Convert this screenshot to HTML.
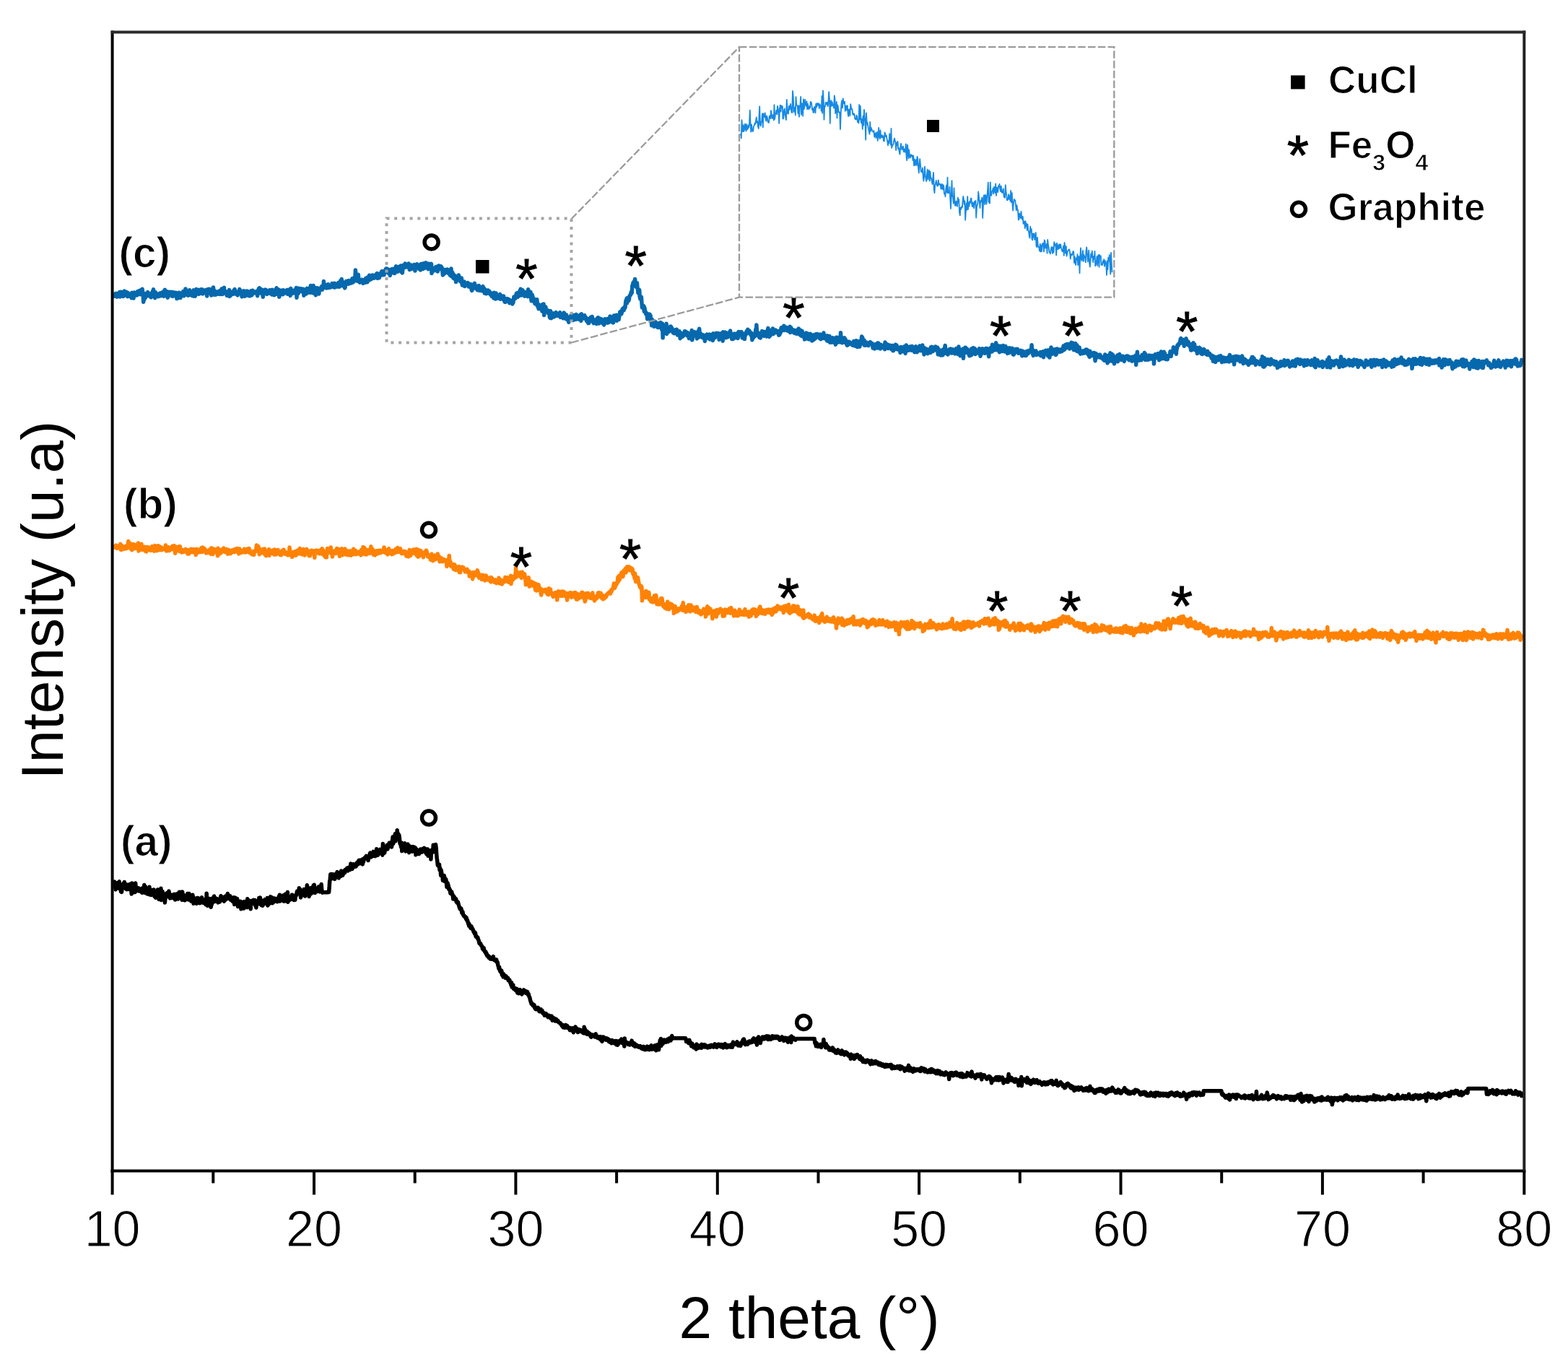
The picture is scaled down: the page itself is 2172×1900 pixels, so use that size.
<!DOCTYPE html>
<html><head><meta charset="utf-8"><title>XRD</title>
<style>
html,body{margin:0;padding:0;background:#fff;}
body{width:2172px;height:1900px;overflow:hidden;}
svg{display:block;}
.st{dominant-baseline:central;}
</style></head><body>
<svg width="2172" height="1900" viewBox="0 0 2172 1900">
<rect width="2172" height="1900" fill="#fff"/>
<g fill="none" stroke-linejoin="round">
<polyline points="158.0,409.4 158.6,410.1 159.1,408.7 159.7,406.7 160.2,407.5 160.8,406.4 161.3,408.9 161.9,411.1 162.4,406.4 163.0,406.5 163.5,409.7 164.1,410.3 164.6,409.5 165.2,407.2 165.7,404.5 166.3,411.0 166.8,405.9 167.4,408.2 167.9,404.2 168.5,406.0 169.0,404.8 169.6,409.3 170.1,407.0 170.7,410.4 171.2,410.2 171.8,409.1 172.3,403.0 172.9,407.6 173.4,408.7 174.0,408.6 174.5,404.6 175.1,406.1 175.6,404.5 176.2,405.8 176.7,410.7 177.3,405.6 177.8,407.9 178.4,410.3 178.9,407.5 179.5,409.0 180.0,408.5 180.6,408.3 181.1,407.0 181.7,410.2 182.2,412.6 182.8,405.2 183.3,411.0 183.9,409.3 184.4,407.9 185.0,413.1 185.5,409.3 186.1,404.9 186.6,408.1 187.2,409.0 187.7,406.2 188.3,407.8 188.8,405.5 189.4,407.9 189.9,408.9 190.5,403.8 191.0,406.2 191.6,404.7 192.1,406.1 192.7,402.7 193.2,404.7 193.8,405.1 194.3,407.7 194.9,407.5 195.4,401.6 196.0,403.6 196.5,407.3 197.1,400.3 197.6,404.9 198.2,406.9 198.7,418.2 199.3,410.7 199.8,415.1 200.4,406.9 200.9,407.6 201.5,412.3 202.0,406.4 202.6,406.5 203.1,407.0 203.7,406.8 204.2,407.1 204.8,404.6 205.3,407.1 205.9,406.4 206.4,409.9 207.0,409.7 207.5,408.1 208.1,410.3 208.6,407.8 209.2,411.8 209.7,407.7 210.3,409.9 210.8,404.6 211.4,408.3 211.9,402.6 212.5,400.9 213.0,404.7 213.6,404.7 214.1,407.7 214.7,412.7 215.2,404.6 215.8,405.9 216.3,408.2 216.9,410.1 217.4,408.1 218.0,407.0 218.5,410.0 219.1,410.7 219.6,410.6 220.2,409.0 220.7,408.3 221.3,406.2 221.8,409.7 222.4,405.7 222.9,409.8 223.5,408.9 224.0,408.9 224.6,408.1 225.1,408.9 225.7,404.3 226.2,406.9 226.8,410.3 227.3,403.3 227.9,409.6 228.4,401.2 229.0,407.2 229.5,403.3 230.1,408.8 230.6,407.6 231.2,403.6 231.7,411.0 232.3,412.1 232.8,407.9 233.4,406.6 233.9,406.4 234.5,404.2 235.0,409.1 235.6,404.7 236.1,406.9 236.7,405.6 237.2,407.0 237.8,404.4 238.3,410.1 238.9,407.2 239.4,410.4 240.0,407.2 240.5,404.7 241.1,406.0 241.6,405.4 242.2,407.6 242.7,406.7 243.3,406.9 243.8,405.3 244.4,407.6 244.9,413.6 245.5,407.8 246.0,406.0 246.6,409.7 247.1,412.6 247.7,405.3 248.2,409.2 248.8,407.9 249.3,405.6 249.9,412.6 250.4,410.4 251.0,409.9 251.5,406.7 252.1,409.1 252.6,406.0 253.2,407.1 253.7,403.6 254.3,403.8 254.8,409.7 255.4,405.9 255.9,406.8 256.5,406.2 257.0,399.9 257.6,405.5 258.1,407.9 258.7,405.8 259.2,404.7 259.8,406.0 260.3,409.2 260.9,406.9 261.4,406.8 262.0,404.0 262.5,401.7 263.1,408.5 263.6,408.1 264.2,406.1 264.7,407.6 265.3,408.2 265.8,409.1 266.4,408.8 266.9,404.6 267.5,410.0 268.0,401.8 268.6,407.9 269.1,407.1 269.7,407.4 270.2,410.3 270.8,408.8 271.3,402.1 271.9,400.5 272.4,406.7 273.0,401.6 273.5,403.6 274.1,407.0 274.6,402.5 275.2,401.5 275.7,407.3 276.3,406.4 276.8,405.3 277.4,406.4 277.9,402.8 278.5,400.9 279.0,403.9 279.6,402.6 280.1,400.8 280.7,407.0 281.2,405.8 281.8,406.2 282.3,402.2 282.9,402.8 283.4,402.2 284.0,402.6 284.5,404.6 285.1,401.7 285.6,406.1 286.2,406.1 286.7,410.0 287.3,400.7 287.8,406.7 288.4,404.1 288.9,403.8 289.5,400.2 290.0,402.6 290.6,406.0 291.1,404.4 291.7,405.1 292.2,404.9 292.8,409.0 293.3,405.7 293.9,399.9 294.4,404.3 295.0,401.1 295.5,398.0 296.1,404.2 296.6,408.2 297.2,405.7 297.7,403.3 298.3,403.2 298.8,408.2 299.4,405.4 299.9,405.5 300.5,405.5 301.0,405.5 301.6,407.2 302.1,406.3 302.7,406.2 303.2,403.2 303.8,406.6 304.3,403.5 304.9,407.6 305.4,402.1 306.0,405.1 306.5,404.1 307.1,400.1 307.6,407.3 308.2,407.5 308.7,403.0 309.3,399.6 309.8,405.1 310.4,398.2 310.9,406.0 311.5,405.6 312.0,405.8 312.6,403.5 313.1,405.1 313.7,406.1 314.2,409.2 314.8,406.8 315.3,405.4 315.9,409.3 316.4,403.7 317.0,405.0 317.5,401.5 318.1,410.5 318.6,409.0 319.2,409.4 319.7,408.7 320.3,407.0 320.8,406.0 321.4,404.7 321.9,404.1 322.5,403.9 323.0,407.3 323.6,404.3 324.1,401.8 324.7,401.4 325.2,400.7 325.8,406.9 326.3,405.5 326.9,405.4 327.4,404.9 328.0,404.2 328.5,406.5 329.1,408.9 329.6,405.9 330.2,405.1 330.7,404.2 331.3,405.2 331.8,400.6 332.4,403.7 332.9,402.1 333.5,406.6 334.0,403.8 334.6,407.9 335.1,410.9 335.7,405.8 336.2,405.1 336.8,407.3 337.3,406.2 337.9,402.9 338.4,406.9 339.0,410.2 339.5,404.2 340.1,404.7 340.6,403.3 341.2,406.9 341.7,403.7 342.3,403.2 342.8,409.0 343.4,403.6 343.9,408.3 344.5,409.4 345.0,405.7 345.6,406.6 346.1,409.9 346.7,404.6 347.2,404.3 347.8,402.8 348.3,405.6 348.9,408.9 349.4,407.0 350.0,402.3 350.5,403.8 351.1,404.2 351.6,406.0 352.2,404.1 352.7,405.7 353.3,405.1 353.8,404.5 354.4,403.9 354.9,404.9 355.5,403.7 356.0,405.5 356.6,409.7 357.1,406.7 357.7,404.1 358.2,400.0 358.8,404.4 359.3,398.7 359.9,400.7 360.4,405.4 361.0,405.9 361.5,404.2 362.1,400.8 362.6,405.3 363.2,404.5 363.7,407.3 364.3,411.3 364.8,405.9 365.4,404.3 365.9,401.9 366.5,404.5 367.0,403.9 367.6,401.1 368.1,403.9 368.7,401.6 369.2,406.7 369.8,407.4 370.3,406.7 370.9,403.9 371.4,405.8 372.0,405.0 372.5,404.4 373.1,404.3 373.6,401.8 374.2,402.1 374.7,406.8 375.3,405.3 375.8,406.8 376.4,407.8 376.9,401.3 377.5,403.5 378.0,405.8 378.6,406.7 379.1,405.4 379.7,408.8 380.2,406.6 380.8,401.7 381.3,402.9 381.9,407.5 382.4,406.2 383.0,398.7 383.5,406.0 384.1,404.6 384.6,407.1 385.2,402.3 385.7,402.3 386.3,401.1 386.8,411.2 387.4,404.9 387.9,408.6 388.5,404.3 389.0,407.0 389.6,402.3 390.1,404.3 390.7,407.4 391.2,402.1 391.8,407.8 392.3,405.6 392.9,401.9 393.4,403.4 394.0,404.4 394.5,406.0 395.1,404.2 395.6,403.6 396.2,405.6 396.7,403.0 397.3,402.0 397.8,405.3 398.4,407.3 398.9,401.3 399.5,404.7 400.0,402.2 400.6,402.4 401.1,407.8 401.7,403.8 402.2,409.4 402.8,399.4 403.3,407.2 403.9,405.0 404.4,403.3 405.0,406.3 405.5,404.9 406.1,405.8 406.6,405.2 407.2,402.3 407.7,404.6 408.3,404.8 408.8,406.0 409.4,400.8 409.9,403.5 410.5,398.6 411.0,412.2 411.6,400.9 412.1,399.1 412.7,403.5 413.2,406.4 413.8,399.2 414.3,400.2 414.9,400.7 415.4,399.9 416.0,402.9 416.5,399.8 417.1,399.8 417.6,403.7 418.2,400.6 418.7,404.0 419.3,400.9 419.8,401.3 420.4,400.4 420.9,409.2 421.5,403.1 422.0,404.0 422.6,403.0 423.1,402.9 423.7,402.4 424.2,406.9 424.8,400.2 425.3,399.4 425.9,401.0 426.4,400.1 427.0,404.9 427.5,404.6 428.1,400.3 428.6,399.1 429.2,401.4 429.7,405.3 430.3,395.6 430.8,403.8 431.4,400.1 431.9,405.2 432.5,399.1 433.0,401.1 433.6,399.0 434.1,395.4 434.7,406.0 435.2,404.9 435.8,401.7 436.3,401.4 436.9,398.6 437.4,408.7 438.0,401.7 438.5,401.6 439.1,401.3 439.6,398.9 440.2,400.1 440.7,400.7 441.3,405.1 441.8,407.0 442.4,401.4 442.9,399.2 443.5,400.6 444.0,399.6 444.6,399.0 445.1,399.3 445.7,396.5 446.2,401.3 446.8,398.9 447.3,399.6 447.9,398.5 448.4,389.6 449.0,395.4 449.5,396.5 450.1,395.4 450.6,397.4 451.2,397.0 451.7,394.7 452.3,399.1 452.8,395.9 453.4,397.7 453.9,397.4 454.5,393.7 455.0,398.6 455.6,398.1 456.1,398.0 456.7,397.3 457.2,397.5 457.8,397.1 458.3,397.8 458.9,396.3 459.4,397.2 460.0,392.4 460.5,395.8 461.1,395.1 461.6,394.3 462.2,394.7 462.7,397.9 463.3,392.3 463.8,398.0 464.4,397.4 464.9,397.0 465.5,396.5 466.0,393.4 466.6,394.0 467.1,397.0 467.7,396.7 468.2,395.2 468.8,391.4 469.3,395.8 469.9,397.2 470.4,396.2 471.0,393.9 471.5,388.9 472.1,395.9 472.6,392.9 473.2,386.5 473.7,394.2 474.3,389.8 474.8,390.4 475.4,391.9 475.9,396.4 476.5,393.1 477.0,395.4 477.6,398.9 478.1,397.8 478.7,393.2 479.2,392.4 479.8,389.4 480.3,389.9 480.9,392.6 481.4,392.5 482.0,391.5 482.5,393.3 483.1,388.5 483.6,390.8 484.2,392.5 484.7,392.1 485.3,392.2 485.8,391.6 486.4,390.1 486.9,391.9 487.5,387.8 488.0,385.7 488.6,391.1 489.1,389.9 489.7,390.2 490.2,385.1 490.8,387.6 491.3,386.0 491.9,385.2 492.4,373.9 493.0,385.6 493.5,388.8 494.1,386.9 494.6,385.6 495.2,387.5 495.7,389.4 496.3,380.2 496.8,387.6 497.4,388.1 497.9,388.3 498.5,391.1 499.0,390.0 499.6,388.0 500.1,388.5 500.7,389.0 501.2,387.2 501.8,388.0 502.3,390.0 502.9,392.4 503.4,387.9 504.0,388.7 504.5,388.6 505.1,390.2 505.6,387.2 506.2,391.3 506.7,385.3 507.3,386.7 507.8,387.1 508.4,389.1 508.9,390.7 509.5,383.7 510.0,384.3 510.6,387.1 511.1,385.0 511.7,381.2 512.2,387.7 512.8,385.1 513.3,385.5 513.9,382.7 514.4,386.5 515.0,382.0 515.5,385.5 516.1,381.0 516.6,381.7 517.2,384.2 517.7,382.2 518.3,385.2 518.8,383.8 519.4,381.3 519.9,383.2 520.5,382.5 521.0,384.3 521.6,379.2 522.1,378.7 522.7,383.0 523.2,385.4 523.8,384.8 524.3,379.3 524.9,380.5 525.4,384.7 526.0,381.2 526.5,379.4 527.1,381.6 527.6,381.0 528.2,377.4 528.7,375.8 529.3,375.6 529.8,380.7 530.4,376.5 530.9,377.6 531.5,379.8 532.0,380.7 532.6,377.1 533.1,377.8 533.7,373.9 534.2,374.5 534.8,372.0 535.3,377.1 535.9,374.5 536.4,372.2 537.0,374.8 537.5,375.4 538.1,378.1 538.6,373.4 539.2,373.5 539.7,374.2 540.3,381.5 540.8,376.5 541.4,373.9 541.9,375.6 542.5,377.9 543.0,372.4 543.6,372.5 544.1,376.8 544.7,375.8 545.2,375.4 545.8,372.3 546.3,378.5 546.9,378.3 547.4,374.8 548.0,375.2 548.5,368.7 549.1,375.3 549.6,373.7 550.2,376.0 550.7,376.1 551.3,373.5 551.8,369.4 552.4,373.7 552.9,371.3 553.5,372.1 554.0,370.7 554.6,372.1 555.1,367.9 555.7,376.4 556.2,373.7 556.8,375.5 557.3,378.0 557.9,372.8 558.4,367.3 559.0,368.8 559.5,367.8 560.1,369.4 560.6,370.4 561.2,365.0 561.7,370.3 562.3,365.7 562.8,369.8 563.4,369.0 563.9,368.7 564.5,369.2 565.0,367.9 565.6,367.6 566.1,365.0 566.7,368.7 567.2,373.5 567.8,373.2 568.3,371.9 568.9,370.1 569.4,366.9 570.0,372.5 570.5,369.5 571.1,369.8 571.6,369.7 572.2,370.3 572.7,368.6 573.3,369.7 573.8,366.5 574.4,368.3 574.9,375.1 575.5,369.2 576.0,368.6 576.6,370.1 577.1,370.3 577.7,365.8 578.2,368.4 578.8,370.5 579.3,368.4 579.9,368.6 580.4,372.5 581.0,366.9 581.5,369.7 582.1,368.4 582.6,373.9 583.2,365.6 583.7,368.0 584.3,368.9 584.8,372.1 585.4,371.3 585.9,372.4 586.5,364.8 587.0,370.5 587.6,368.5 588.1,368.1 588.7,371.3 589.2,366.9 589.8,363.9 590.3,367.5 590.9,364.5 591.4,366.9 592.0,369.0 592.5,368.6 593.1,372.7 593.6,368.4 594.2,365.3 594.7,367.0 595.3,366.1 595.8,365.9 596.4,369.8 596.9,367.6 597.5,365.3 598.0,378.5 598.6,371.4 599.1,372.7 599.7,371.5 600.2,373.9 600.8,371.9 601.3,374.9 601.9,373.5 602.4,373.7 603.0,374.3 603.5,369.7 604.1,372.9 604.6,372.3 605.2,373.3 605.7,369.1 606.3,376.1 606.8,373.2 607.4,369.7 607.9,368.0 608.5,372.3 609.0,371.9 609.6,370.0 610.1,371.9 610.7,368.8 611.2,372.3 611.8,369.8 612.3,372.1 612.9,376.0 613.4,381.1 614.0,373.3 614.5,375.1 615.1,375.0 615.6,378.9 616.2,373.6 616.7,375.9 617.3,377.1 617.8,374.9 618.4,375.8 618.9,377.2 619.5,373.0 620.0,375.2 620.6,376.9 621.1,378.3 621.7,377.4 622.2,374.0 622.8,377.5 623.3,381.2 623.9,380.9 624.4,379.7 625.0,372.0 625.5,382.6 626.1,379.4 626.6,377.1 627.2,378.5 627.7,384.7 628.3,382.6 628.8,385.7 629.4,381.1 629.9,385.0 630.5,382.1 631.0,383.7 631.6,390.6 632.1,386.8 632.7,383.1 633.2,385.1 633.8,385.7 634.3,387.8 634.9,384.0 635.4,381.0 636.0,383.9 636.5,384.8 637.1,385.3 637.6,389.8 638.2,388.8 638.7,390.4 639.3,385.1 639.8,391.0 640.4,395.0 640.9,392.2 641.5,390.6 642.0,390.1 642.6,394.9 643.1,389.9 643.7,396.5 644.2,393.3 644.8,395.0 645.3,391.9 645.9,394.7 646.4,393.6 647.0,393.8 647.5,393.6 648.1,391.6 648.6,394.0 649.2,396.9 649.7,392.9 650.3,394.4 650.8,397.3 651.4,393.6 651.9,397.1 652.5,393.8 653.0,400.5 653.6,402.4 654.1,401.5 654.7,396.1 655.2,397.8 655.8,395.7 656.3,396.5 656.9,399.0 657.4,392.3 658.0,398.5 658.5,395.5 659.1,399.4 659.6,397.6 660.2,396.3 660.7,399.7 661.3,401.6 661.8,399.6 662.4,401.4 662.9,399.1 663.5,395.6 664.0,402.2 664.6,401.6 665.1,400.1 665.7,400.5 666.2,402.5 666.8,399.8 667.3,398.4 667.9,399.5 668.4,398.2 669.0,396.5 669.5,403.6 670.1,400.4 670.6,399.3 671.2,406.1 671.7,403.5 672.3,401.2 672.8,403.2 673.4,406.7 673.9,406.7 674.5,402.2 675.0,404.4 675.6,405.2 676.1,401.9 676.7,405.9 677.2,403.9 677.8,403.3 678.3,405.0 678.9,407.0 679.4,407.9 680.0,406.4 680.5,405.9 681.1,410.5 681.6,408.8 682.2,410.2 682.7,410.5 683.3,408.4 683.8,412.9 684.4,405.2 684.9,409.9 685.5,407.7 686.0,413.9 686.6,414.0 687.1,406.0 687.7,408.4 688.2,413.1 688.8,412.8 689.3,412.6 689.9,409.7 690.4,412.3 691.0,412.4 691.5,411.1 692.1,413.7 692.6,407.4 693.2,414.2 693.7,410.4 694.3,413.6 694.8,411.1 695.4,410.1 695.9,414.0 696.5,410.4 697.0,411.0 697.6,410.1 698.1,415.2 698.7,417.1 699.2,418.1 699.8,415.5 700.3,418.4 700.9,414.8 701.4,414.0 702.0,416.4 702.5,417.2 703.1,413.8 703.6,414.8 704.2,414.6 704.7,416.4 705.3,414.8 705.8,419.7 706.4,415.7 706.9,418.7 707.5,416.1 708.0,419.6 708.6,419.9 709.1,416.5 709.7,421.0 710.2,416.9 710.8,419.4 711.3,416.0 711.9,411.3 712.4,410.8 713.0,413.3 713.5,413.5 714.1,412.5 714.6,410.4 715.2,406.7 715.7,410.8 716.3,405.8 716.8,411.6 717.4,408.7 717.9,408.4 718.5,410.2 719.0,409.6 719.6,404.4 720.1,402.6 720.7,403.9 721.2,400.2 721.8,402.2 722.3,408.9 722.9,402.4 723.4,406.5 724.0,401.7 724.5,405.3 725.1,403.8 725.6,405.1 726.2,405.9 726.7,410.3 727.3,406.8 727.8,406.9 728.4,404.6 728.9,407.8 729.5,405.4 730.0,408.5 730.6,405.6 731.1,410.8 731.7,400.7 732.2,405.3 732.8,408.6 733.3,406.8 733.9,406.0 734.4,407.8 735.0,404.5 735.5,410.2 736.1,416.8 736.6,415.0 737.2,408.3 737.7,410.2 738.3,412.4 738.8,417.2 739.4,413.4 739.9,414.5 740.5,418.8 741.0,420.6 741.6,417.8 742.1,416.3 742.7,415.6 743.2,417.5 743.8,414.7 744.3,423.3 744.9,420.1 745.4,424.1 746.0,427.6 746.5,426.4 747.1,422.2 747.6,427.4 748.2,427.7 748.7,424.2 749.3,423.7 749.8,426.6 750.4,424.0 750.9,431.0 751.5,421.4 752.0,425.8 752.6,427.5 753.1,421.1 753.7,436.4 754.2,428.7 754.8,428.3 755.3,432.5 755.9,425.0 756.4,430.5 757.0,428.9 757.5,430.8 758.1,431.5 758.6,429.6 759.2,430.8 759.7,434.0 760.3,433.7 760.8,431.4 761.4,439.4 761.9,440.2 762.5,430.5 763.0,435.0 763.6,440.8 764.1,436.4 764.7,435.1 765.2,433.7 765.8,433.7 766.3,436.1 766.9,435.4 767.4,439.0 768.0,435.6 768.5,436.6 769.1,434.1 769.6,436.3 770.2,432.6 770.7,433.6 771.3,437.4 771.8,436.8 772.4,436.6 772.9,436.8 773.5,436.0 774.0,434.8 774.6,435.3 775.1,437.6 775.7,432.8 776.2,439.4 776.8,436.3 777.3,435.2 777.9,435.9 778.4,435.4 779.0,438.0 779.5,436.4 780.1,440.8 780.6,436.2 781.2,433.1 781.7,438.5 782.3,434.8 782.8,438.9 783.4,441.3 783.9,441.1 784.5,436.1 785.0,437.3 785.6,442.8 786.1,441.0 786.7,440.7 787.2,443.3 787.8,446.2 788.3,444.3 788.9,441.5 789.4,441.8 790.0,441.5 790.5,437.8 791.1,436.5 791.6,438.9 792.2,435.4 792.7,437.1 793.3,437.6 793.8,443.5 794.4,436.6 794.9,438.7 795.5,438.8 796.0,441.4 796.6,442.4 797.1,438.2 797.7,437.5 798.2,435.5 798.8,438.0 799.3,442.1 799.9,440.0 800.4,438.2 801.0,441.0 801.5,441.4 802.1,442.1 802.6,438.3 803.2,438.9 803.7,436.0 804.3,438.2 804.8,444.4 805.4,434.8 805.9,439.6 806.5,441.9 807.0,440.5 807.6,439.0 808.1,439.8 808.7,440.0 809.2,440.5 809.8,436.8 810.3,440.4 810.9,438.8 811.4,440.1 812.0,442.9 812.5,444.3 813.1,445.0 813.6,441.3 814.2,445.9 814.7,447.3 815.3,446.6 815.8,447.4 816.4,443.8 816.9,442.9 817.5,444.9 818.0,439.4 818.6,442.3 819.1,441.2 819.7,441.9 820.2,438.4 820.8,441.4 821.3,444.3 821.9,446.7 822.4,447.6 823.0,444.4 823.5,443.9 824.1,443.2 824.6,446.5 825.2,444.3 825.7,445.7 826.3,448.5 826.8,444.2 827.4,440.7 827.9,442.5 828.5,439.8 829.0,441.4 829.6,448.0 830.1,445.3 830.7,440.9 831.2,446.0 831.8,446.5 832.3,443.7 832.9,441.8 833.4,443.0 834.0,444.7 834.5,446.3 835.1,448.0 835.6,448.6 836.2,448.3 836.7,449.8 837.3,447.5 837.8,441.7 838.4,444.8 838.9,445.9 839.5,444.5 840.0,446.5 840.6,442.6 841.1,441.6 841.7,447.2 842.2,444.7 842.8,444.1 843.3,445.5 843.9,446.2 844.4,445.0 845.0,437.9 845.5,443.2 846.1,443.8 846.6,441.5 847.2,443.3 847.7,445.8 848.3,441.1 848.8,438.8 849.4,447.1 849.9,440.4 850.5,437.0 851.0,440.8 851.6,441.4 852.1,438.2 852.7,441.7 853.2,437.0 853.8,436.3 854.3,444.3 854.9,440.9 855.4,436.7 856.0,437.8 856.5,436.7 857.1,442.6 857.6,438.8 858.2,437.0 858.7,432.2 859.3,431.7 859.8,433.6 860.4,432.4 860.9,434.6 861.5,431.7 862.0,428.3 862.6,427.3 863.1,428.4 863.7,428.1 864.2,429.7 864.8,425.4 865.3,425.8 865.9,426.3 866.4,421.6 867.0,416.5 867.5,415.7 868.1,413.3 868.6,419.8 869.2,412.5 869.7,415.8 870.3,414.5 870.8,416.6 871.4,414.3 871.9,410.6 872.5,409.2 873.0,408.9 873.6,408.3 874.1,405.0 874.7,404.0 875.2,405.8 875.8,395.8 876.3,397.1 876.9,391.7 877.4,392.7 878.0,392.6 878.5,389.5 879.1,391.7 879.6,386.5 880.2,395.1 880.7,392.8 881.3,397.5 881.8,397.5 882.4,391.7 882.9,397.8 883.5,401.1 884.0,405.9 884.6,403.6 885.1,403.9 885.7,401.5 886.2,411.1 886.8,413.8 887.3,411.6 887.9,412.8 888.4,411.2 889.0,420.1 889.5,425.9 890.1,423.7 890.6,426.0 891.2,425.2 891.7,423.6 892.3,431.2 892.8,425.8 893.4,429.7 893.9,431.2 894.5,434.4 895.0,435.1 895.6,435.6 896.1,433.8 896.7,441.8 897.2,438.9 897.8,436.4 898.3,435.1 898.9,435.3 899.4,438.1 900.0,435.3 900.5,437.3 901.1,437.1 901.6,443.6 902.2,445.1 902.7,450.8 903.3,442.3 903.8,444.9 904.4,449.7 904.9,447.2 905.5,446.5 906.0,452.2 906.6,446.5 907.1,445.1 907.7,445.5 908.2,449.5 908.8,449.5 909.3,447.0 909.9,448.4 910.4,452.7 911.0,453.3 911.5,450.3 912.1,453.4 912.6,453.4 913.2,447.5 913.7,450.8 914.3,452.3 914.8,450.5 915.4,446.6 915.9,451.7 916.5,454.6 917.0,456.9 917.6,448.2 918.1,467.8 918.7,450.9 919.2,456.9 919.8,457.5 920.3,457.6 920.9,454.8 921.4,451.2 922.0,456.3 922.5,453.4 923.1,448.3 923.6,462.4 924.2,456.3 924.7,460.1 925.3,452.9 925.8,458.4 926.4,458.6 926.9,459.2 927.5,455.6 928.0,452.9 928.6,456.3 929.1,452.1 929.7,452.8 930.2,456.6 930.8,454.5 931.3,456.3 931.9,456.6 932.4,460.8 933.0,459.2 933.5,457.5 934.1,461.8 934.6,457.1 935.2,458.4 935.7,460.9 936.3,456.4 936.8,459.4 937.4,456.2 937.9,460.8 938.5,463.9 939.0,458.7 939.6,462.4 940.1,459.1 940.7,459.1 941.2,458.9 941.8,465.7 942.3,468.7 942.9,463.7 943.4,461.2 944.0,465.5 944.5,462.7 945.1,466.4 945.6,464.6 946.2,464.5 946.7,465.0 947.3,461.8 947.8,462.3 948.4,458.8 948.9,461.4 949.5,458.9 950.0,462.2 950.6,460.3 951.1,463.2 951.7,464.6 952.2,460.5 952.8,461.5 953.3,461.5 953.9,465.9 954.4,468.6 955.0,466.8 955.5,463.4 956.1,468.0 956.6,461.2 957.2,468.5 957.7,462.5 958.3,457.4 958.8,470.8 959.4,468.0 959.9,461.2 960.5,464.4 961.0,463.8 961.6,464.0 962.1,459.7 962.7,461.2 963.2,463.8 963.8,463.2 964.3,465.5 964.9,462.1 965.4,468.9 966.0,461.7 966.5,463.8 967.1,458.5 967.6,459.7 968.2,467.1 968.7,455.3 969.3,464.8 969.8,463.3 970.4,461.5 970.9,463.2 971.5,464.0 972.0,463.4 972.6,467.1 973.1,467.5 973.7,463.9 974.2,464.0 974.8,467.3 975.3,466.1 975.9,468.4 976.4,472.5 977.0,467.6 977.5,465.6 978.1,465.5 978.6,463.8 979.2,463.1 979.7,463.3 980.3,464.9 980.8,465.1 981.4,468.6 981.9,465.2 982.5,466.2 983.0,463.1 983.6,470.0 984.1,466.3 984.7,469.1 985.2,467.0 985.8,468.4 986.3,463.0 986.9,465.8 987.4,471.5 988.0,461.8 988.5,467.7 989.1,468.5 989.6,464.2 990.2,465.9 990.7,467.5 991.3,462.4 991.8,464.9 992.4,461.3 992.9,461.4 993.5,462.5 994.0,463.4 994.6,464.0 995.1,465.4 995.7,461.6 996.2,470.3 996.8,468.2 997.3,467.8 997.9,464.8 998.4,466.1 999.0,467.6 999.5,466.4 1000.1,461.3 1000.6,467.8 1001.2,472.2 1001.7,459.7 1002.3,466.2 1002.8,464.2 1003.4,463.1 1003.9,466.9 1004.5,460.1 1005.0,463.3 1005.6,467.8 1006.1,462.6 1006.7,461.4 1007.2,463.2 1007.8,461.2 1008.3,466.8 1008.9,461.7 1009.4,465.2 1010.0,460.9 1010.5,465.6 1011.1,463.6 1011.6,457.9 1012.2,464.4 1012.7,461.7 1013.3,463.9 1013.8,469.5 1014.4,463.5 1014.9,462.9 1015.5,469.4 1016.0,466.1 1016.6,468.5 1017.1,465.7 1017.7,462.1 1018.2,464.0 1018.8,467.5 1019.3,466.7 1019.9,464.2 1020.4,464.8 1021.0,463.8 1021.5,461.6 1022.1,468.5 1022.6,463.5 1023.2,459.5 1023.7,460.6 1024.3,463.5 1024.8,463.5 1025.4,462.0 1025.9,460.1 1026.5,462.0 1027.0,459.6 1027.6,461.2 1028.1,467.8 1028.7,463.8 1029.2,466.7 1029.8,468.3 1030.3,467.5 1030.9,465.1 1031.4,469.6 1032.0,464.4 1032.5,461.6 1033.1,463.4 1033.6,462.7 1034.2,458.7 1034.7,460.1 1035.3,460.2 1035.8,456.3 1036.4,460.8 1036.9,460.9 1037.5,460.8 1038.0,457.9 1038.6,461.6 1039.1,462.6 1039.7,463.1 1040.2,460.8 1040.8,465.4 1041.3,461.5 1041.9,470.7 1042.4,468.9 1043.0,463.3 1043.5,463.9 1044.1,467.3 1044.6,463.7 1045.2,463.0 1045.7,463.2 1046.3,465.4 1046.8,456.3 1047.4,459.0 1047.9,450.0 1048.5,458.5 1049.0,459.7 1049.6,460.6 1050.1,463.7 1050.7,461.8 1051.2,465.1 1051.8,467.2 1052.3,463.6 1052.9,464.6 1053.4,468.1 1054.0,464.3 1054.5,460.8 1055.1,461.1 1055.6,458.6 1056.2,461.7 1056.7,462.9 1057.3,459.1 1057.8,461.6 1058.4,465.2 1058.9,461.4 1059.5,462.8 1060.0,459.6 1060.6,460.5 1061.1,460.0 1061.7,466.1 1062.2,458.8 1062.8,458.7 1063.3,459.1 1063.9,454.5 1064.4,462.2 1065.0,461.7 1065.5,466.4 1066.1,462.8 1066.6,465.3 1067.2,461.7 1067.7,462.2 1068.3,457.2 1068.8,461.0 1069.4,460.9 1069.9,460.0 1070.5,455.1 1071.0,462.7 1071.6,460.1 1072.1,459.4 1072.7,459.0 1073.2,458.5 1073.8,460.8 1074.3,456.9 1074.9,457.8 1075.4,460.2 1076.0,460.4 1076.5,458.9 1077.1,459.5 1077.6,458.9 1078.2,460.7 1078.7,464.2 1079.3,458.4 1079.8,463.7 1080.4,461.9 1080.9,457.5 1081.5,460.2 1082.0,454.5 1082.6,453.7 1083.1,455.2 1083.7,456.3 1084.2,456.8 1084.8,455.9 1085.3,457.2 1085.9,451.2 1086.4,457.5 1087.0,453.0 1087.5,455.5 1088.1,456.0 1088.6,454.9 1089.2,453.4 1089.7,455.0 1090.3,457.4 1090.8,458.1 1091.4,458.4 1091.9,455.9 1092.5,456.2 1093.0,456.0 1093.6,458.7 1094.1,452.2 1094.7,460.5 1095.2,456.5 1095.8,453.8 1096.3,457.0 1096.9,459.3 1097.4,457.4 1098.0,459.0 1098.5,456.8 1099.1,460.0 1099.6,460.8 1100.2,457.2 1100.7,461.4 1101.3,459.0 1101.8,460.2 1102.4,457.8 1102.9,459.3 1103.5,462.3 1104.0,456.9 1104.6,462.1 1105.1,461.5 1105.7,460.4 1106.2,454.9 1106.8,460.6 1107.3,462.9 1107.9,459.9 1108.4,462.2 1109.0,457.3 1109.5,464.8 1110.1,461.5 1110.6,465.5 1111.2,458.5 1111.7,465.4 1112.3,463.3 1112.8,465.4 1113.4,462.3 1113.9,463.1 1114.5,470.1 1115.0,462.5 1115.6,462.5 1116.1,463.7 1116.7,461.1 1117.2,466.6 1117.8,468.9 1118.3,463.7 1118.9,461.8 1119.4,469.0 1120.0,469.6 1120.5,469.2 1121.1,469.8 1121.6,464.9 1122.2,465.5 1122.7,462.4 1123.3,463.0 1123.8,468.4 1124.4,464.3 1124.9,472.0 1125.5,465.6 1126.0,464.8 1126.6,468.7 1127.1,470.6 1127.7,467.3 1128.2,463.4 1128.8,466.7 1129.3,469.0 1129.9,464.0 1130.4,462.8 1131.0,467.2 1131.5,465.1 1132.1,462.5 1132.6,464.4 1133.2,463.7 1133.7,467.1 1134.3,467.4 1134.8,464.6 1135.4,468.7 1135.9,463.1 1136.5,468.1 1137.0,469.7 1137.6,467.8 1138.1,469.0 1138.7,464.7 1139.2,463.4 1139.8,467.5 1140.3,463.6 1140.9,461.0 1141.4,468.5 1142.0,464.2 1142.5,466.8 1143.1,465.0 1143.6,465.7 1144.2,465.9 1144.7,468.6 1145.3,471.4 1145.8,464.8 1146.4,472.2 1146.9,467.3 1147.5,467.5 1148.0,471.8 1148.6,469.3 1149.1,465.6 1149.7,474.3 1150.2,467.8 1150.8,471.3 1151.3,470.9 1151.9,474.2 1152.4,469.4 1153.0,472.9 1153.5,467.8 1154.1,472.9 1154.6,468.2 1155.2,469.7 1155.7,474.6 1156.3,471.0 1156.8,470.7 1157.4,477.3 1157.9,471.4 1158.5,467.3 1159.0,471.5 1159.6,467.3 1160.1,473.2 1160.7,474.0 1161.2,469.8 1161.8,470.3 1162.3,472.9 1162.9,471.9 1163.4,469.6 1164.0,473.9 1164.5,460.7 1165.1,470.6 1165.6,470.9 1166.2,472.3 1166.7,474.7 1167.3,470.4 1167.8,474.3 1168.4,471.9 1168.9,469.4 1169.5,467.8 1170.0,468.0 1170.6,472.7 1171.1,469.9 1171.7,472.7 1172.2,475.5 1172.8,476.7 1173.3,478.1 1173.9,472.9 1174.4,477.9 1175.0,476.0 1175.5,473.6 1176.1,476.5 1176.6,473.4 1177.2,476.1 1177.7,475.3 1178.3,475.6 1178.8,475.5 1179.4,477.0 1179.9,475.8 1180.5,475.5 1181.0,478.1 1181.6,474.0 1182.1,478.6 1182.7,472.5 1183.2,475.3 1183.8,473.7 1184.3,473.9 1184.9,479.3 1185.4,473.9 1186.0,471.7 1186.5,474.3 1187.1,474.2 1187.6,480.5 1188.2,475.3 1188.7,476.6 1189.3,472.7 1189.8,476.2 1190.4,477.1 1190.9,480.1 1191.5,472.3 1192.0,476.1 1192.6,475.2 1193.1,471.9 1193.7,466.1 1194.2,472.2 1194.8,467.4 1195.3,476.0 1195.9,475.8 1196.4,473.4 1197.0,471.2 1197.5,478.3 1198.1,476.0 1198.6,477.5 1199.2,478.2 1199.7,473.7 1200.3,477.4 1200.8,474.7 1201.4,476.2 1201.9,475.7 1202.5,475.8 1203.0,478.6 1203.6,475.6 1204.1,475.4 1204.7,474.0 1205.2,475.7 1205.8,473.8 1206.3,475.3 1206.9,476.0 1207.4,475.1 1208.0,475.9 1208.5,475.9 1209.1,482.1 1209.6,480.5 1210.2,478.3 1210.7,478.3 1211.3,483.0 1211.8,478.2 1212.4,477.2 1212.9,477.6 1213.5,477.7 1214.0,480.2 1214.6,476.1 1215.1,482.1 1215.7,474.9 1216.2,478.8 1216.8,475.3 1217.3,481.9 1217.9,478.1 1218.4,478.8 1219.0,481.3 1219.5,482.9 1220.1,477.3 1220.6,479.9 1221.2,478.3 1221.7,480.8 1222.3,480.8 1222.8,481.2 1223.4,480.0 1223.9,480.6 1224.5,477.8 1225.0,480.0 1225.6,483.8 1226.1,473.9 1226.7,477.8 1227.2,477.2 1227.8,479.7 1228.3,478.3 1228.9,479.8 1229.4,476.9 1230.0,482.5 1230.5,480.7 1231.1,479.9 1231.6,481.9 1232.2,480.3 1232.7,478.1 1233.3,482.4 1233.8,481.2 1234.4,480.9 1234.9,483.7 1235.5,483.5 1236.0,478.6 1236.6,479.1 1237.1,485.7 1237.7,485.6 1238.2,479.9 1238.8,478.9 1239.3,480.3 1239.9,479.6 1240.4,477.2 1241.0,481.2 1241.5,477.8 1242.1,478.4 1242.6,483.7 1243.2,480.3 1243.7,481.8 1244.3,483.1 1244.8,484.3 1245.4,482.4 1245.9,483.9 1246.5,482.0 1247.0,488.4 1247.6,485.0 1248.1,480.5 1248.7,483.4 1249.2,484.4 1249.8,483.4 1250.3,486.8 1250.9,485.5 1251.4,486.5 1252.0,482.9 1252.5,480.1 1253.1,483.8 1253.6,483.8 1254.2,489.4 1254.7,482.4 1255.3,477.9 1255.8,482.1 1256.4,483.8 1256.9,480.4 1257.5,480.5 1258.0,482.7 1258.6,485.3 1259.1,482.7 1259.7,480.4 1260.2,484.8 1260.8,481.7 1261.3,481.9 1261.9,479.9 1262.4,480.4 1263.0,485.3 1263.5,479.5 1264.1,482.7 1264.6,485.1 1265.2,483.4 1265.7,484.5 1266.3,482.8 1266.8,487.8 1267.4,487.4 1267.9,486.3 1268.5,479.8 1269.0,481.5 1269.6,486.9 1270.1,487.7 1270.7,484.2 1271.2,486.6 1271.8,481.0 1272.3,482.7 1272.9,482.5 1273.4,483.1 1274.0,479.0 1274.5,485.1 1275.1,485.6 1275.6,479.8 1276.2,479.7 1276.7,484.6 1277.3,483.1 1277.8,477.9 1278.4,486.4 1278.9,485.1 1279.5,484.1 1280.0,490.9 1280.6,485.4 1281.1,481.9 1281.7,485.2 1282.2,483.0 1282.8,483.8 1283.3,486.5 1283.9,483.6 1284.4,483.7 1285.0,489.8 1285.5,486.7 1286.1,485.9 1286.6,484.5 1287.2,484.1 1287.7,487.0 1288.3,483.6 1288.8,488.5 1289.4,480.7 1289.9,482.6 1290.5,480.4 1291.0,482.6 1291.6,483.8 1292.1,486.6 1292.7,480.9 1293.2,483.8 1293.8,482.8 1294.3,482.2 1294.9,481.5 1295.4,484.8 1296.0,480.1 1296.5,484.9 1297.1,484.8 1297.6,483.1 1298.2,481.8 1298.7,481.5 1299.3,490.8 1299.8,483.2 1300.4,491.1 1300.9,488.7 1301.5,486.8 1302.0,485.4 1302.6,490.8 1303.1,492.0 1303.7,485.1 1304.2,487.3 1304.8,490.5 1305.3,488.3 1305.9,491.9 1306.4,485.4 1307.0,488.2 1307.5,483.2 1308.1,489.6 1308.6,482.7 1309.2,478.4 1309.7,483.9 1310.3,484.0 1310.8,489.6 1311.4,485.2 1311.9,487.1 1312.5,488.3 1313.0,491.0 1313.6,486.4 1314.1,489.2 1314.7,486.4 1315.2,483.7 1315.8,484.5 1316.3,484.9 1316.9,483.0 1317.4,488.7 1318.0,487.5 1318.5,489.0 1319.1,487.7 1319.6,485.1 1320.2,483.9 1320.7,485.5 1321.3,487.4 1321.8,487.9 1322.4,487.7 1322.9,489.9 1323.5,486.4 1324.0,487.7 1324.6,482.7 1325.1,488.9 1325.7,487.8 1326.2,485.8 1326.8,490.4 1327.3,488.8 1327.9,479.9 1328.4,487.7 1329.0,483.3 1329.5,489.6 1330.1,492.8 1330.6,484.4 1331.2,485.6 1331.7,484.8 1332.3,486.1 1332.8,487.6 1333.4,488.4 1333.9,483.1 1334.5,496.2 1335.0,482.7 1335.6,485.8 1336.1,486.9 1336.7,484.5 1337.2,481.2 1337.8,481.7 1338.3,483.3 1338.9,484.4 1339.4,488.6 1340.0,483.5 1340.5,488.4 1341.1,489.4 1341.6,489.5 1342.2,489.2 1342.7,492.7 1343.3,489.2 1343.8,490.5 1344.4,490.3 1344.9,492.1 1345.5,483.1 1346.0,491.2 1346.6,486.4 1347.1,485.9 1347.7,484.3 1348.2,481.7 1348.8,485.9 1349.3,484.9 1349.9,487.8 1350.4,482.7 1351.0,490.5 1351.5,487.5 1352.1,486.8 1352.6,486.3 1353.2,485.9 1353.7,485.3 1354.3,488.1 1354.8,489.0 1355.4,488.8 1355.9,486.0 1356.5,482.7 1357.0,487.5 1357.6,490.1 1358.1,493.2 1358.7,490.7 1359.2,487.6 1359.8,483.7 1360.3,483.8 1360.9,482.9 1361.4,488.7 1362.0,485.0 1362.5,486.7 1363.1,485.1 1363.6,486.3 1364.2,489.2 1364.7,483.1 1365.3,483.4 1365.8,482.6 1366.4,487.0 1366.9,482.6 1367.5,483.1 1368.0,483.0 1368.6,483.6 1369.1,489.0 1369.7,493.8 1370.2,484.6 1370.8,488.6 1371.3,486.2 1371.9,482.0 1372.4,483.1 1373.0,482.4 1373.5,480.7 1374.1,487.0 1374.6,477.2 1375.2,482.8 1375.7,482.9 1376.3,481.1 1376.8,482.6 1377.4,484.9 1377.9,482.0 1378.5,481.5 1379.0,481.2 1379.6,474.8 1380.1,482.4 1380.7,484.8 1381.2,482.2 1381.8,482.8 1382.3,478.4 1382.9,483.3 1383.4,481.3 1384.0,483.8 1384.5,487.8 1385.1,482.4 1385.6,484.6 1386.2,479.2 1386.7,482.3 1387.3,482.0 1387.8,480.1 1388.4,479.6 1388.9,486.6 1389.5,478.4 1390.0,479.3 1390.6,480.5 1391.1,486.1 1391.7,486.9 1392.2,482.2 1392.8,479.5 1393.3,480.8 1393.9,485.6 1394.4,481.4 1395.0,488.5 1395.5,489.4 1396.1,486.8 1396.6,488.1 1397.2,488.5 1397.7,488.7 1398.3,481.8 1398.8,487.4 1399.4,483.6 1399.9,483.3 1400.5,486.1 1401.0,484.8 1401.6,483.7 1402.1,482.3 1402.7,483.9 1403.2,490.7 1403.8,491.2 1404.3,488.1 1404.9,490.1 1405.4,486.0 1406.0,486.9 1406.5,487.4 1407.1,483.4 1407.6,484.3 1408.2,486.7 1408.7,485.8 1409.3,483.4 1409.8,488.2 1410.4,486.2 1410.9,489.2 1411.5,486.4 1412.0,486.0 1412.6,486.8 1413.1,486.1 1413.7,485.3 1414.2,486.7 1414.8,489.9 1415.3,490.9 1415.9,492.8 1416.4,486.1 1417.0,490.3 1417.5,490.0 1418.1,491.6 1418.6,490.2 1419.2,489.0 1419.7,492.4 1420.3,491.2 1420.8,486.9 1421.4,492.5 1421.9,491.3 1422.5,487.1 1423.0,489.8 1423.6,486.1 1424.1,489.8 1424.7,487.3 1425.2,485.7 1425.8,486.2 1426.3,485.1 1426.9,487.6 1427.4,486.8 1428.0,486.6 1428.5,485.3 1429.1,477.7 1429.6,487.8 1430.2,484.0 1430.7,490.4 1431.3,492.4 1431.8,490.1 1432.4,488.2 1432.9,488.6 1433.5,488.5 1434.0,486.1 1434.6,486.5 1435.1,486.2 1435.7,491.6 1436.2,488.8 1436.8,491.2 1437.3,489.0 1437.9,490.4 1438.4,489.5 1439.0,489.7 1439.5,490.9 1440.1,490.0 1440.6,488.6 1441.2,487.7 1441.7,492.8 1442.3,487.7 1442.8,488.8 1443.4,492.2 1443.9,490.5 1444.5,488.6 1445.0,486.8 1445.6,494.8 1446.1,489.1 1446.7,490.9 1447.2,489.3 1447.8,486.4 1448.3,485.5 1448.9,489.8 1449.4,489.6 1450.0,488.9 1450.5,485.4 1451.1,485.2 1451.6,492.8 1452.2,485.0 1452.7,490.7 1453.3,491.6 1453.8,495.1 1454.4,490.2 1454.9,486.6 1455.5,486.5 1456.0,481.0 1456.6,487.6 1457.1,488.0 1457.7,490.2 1458.2,489.0 1458.8,488.7 1459.3,486.8 1459.9,487.7 1460.4,489.8 1461.0,483.8 1461.5,486.0 1462.1,484.1 1462.6,491.5 1463.2,490.6 1463.7,489.3 1464.3,483.1 1464.8,486.8 1465.4,484.9 1465.9,485.6 1466.5,484.6 1467.0,486.7 1467.6,484.1 1468.1,487.4 1468.7,485.6 1469.2,484.7 1469.8,484.7 1470.3,483.7 1470.9,486.6 1471.4,483.9 1472.0,485.6 1472.5,482.4 1473.1,479.1 1473.6,484.7 1474.2,480.2 1474.7,483.9 1475.3,482.5 1475.8,477.4 1476.4,479.5 1476.9,480.4 1477.5,479.3 1478.0,476.6 1478.6,481.4 1479.1,478.9 1479.7,479.6 1480.2,476.9 1480.8,478.7 1481.3,476.6 1481.9,483.0 1482.4,479.3 1483.0,478.1 1483.5,476.3 1484.1,474.4 1484.6,477.5 1485.2,477.2 1485.7,476.1 1486.3,475.4 1486.8,478.9 1487.4,484.7 1487.9,478.9 1488.5,480.8 1489.0,481.9 1489.6,475.5 1490.1,483.3 1490.7,481.8 1491.2,486.0 1491.8,477.8 1492.3,481.2 1492.9,482.7 1493.4,486.9 1494.0,481.5 1494.5,482.9 1495.1,481.1 1495.6,484.6 1496.2,487.3 1496.7,490.1 1497.3,488.1 1497.8,486.3 1498.4,488.0 1498.9,487.8 1499.5,489.5 1500.0,487.8 1500.6,485.9 1501.1,486.3 1501.7,487.3 1502.2,488.8 1502.8,488.6 1503.3,486.4 1503.9,484.2 1504.4,487.3 1505.0,484.0 1505.5,488.7 1506.1,489.2 1506.6,484.9 1507.2,491.1 1507.7,491.2 1508.3,489.4 1508.8,493.8 1509.4,494.3 1509.9,486.3 1510.5,493.0 1511.0,490.9 1511.6,491.7 1512.1,492.6 1512.7,489.1 1513.2,489.8 1513.8,489.4 1514.3,489.7 1514.9,492.4 1515.4,488.4 1516.0,490.6 1516.5,494.7 1517.1,499.7 1517.6,494.5 1518.2,489.4 1518.7,492.0 1519.3,492.8 1519.8,493.8 1520.4,492.4 1520.9,494.7 1521.5,492.1 1522.0,492.2 1522.6,491.4 1523.1,493.9 1523.7,491.2 1524.2,495.2 1524.8,494.4 1525.3,494.6 1525.9,494.0 1526.4,495.8 1527.0,496.5 1527.5,497.0 1528.1,496.1 1528.6,498.1 1529.2,496.2 1529.7,499.2 1530.3,495.5 1530.8,490.9 1531.4,499.4 1531.9,495.7 1532.5,492.4 1533.0,495.4 1533.6,493.9 1534.1,502.7 1534.7,498.6 1535.2,492.3 1535.8,497.6 1536.3,494.8 1536.9,500.3 1537.4,492.5 1538.0,488.9 1538.5,494.1 1539.1,493.9 1539.6,494.0 1540.2,490.3 1540.7,496.9 1541.3,500.5 1541.8,491.8 1542.4,500.0 1542.9,495.7 1543.5,503.7 1544.0,497.3 1544.6,495.3 1545.1,498.6 1545.7,497.6 1546.2,494.2 1546.8,497.6 1547.3,494.2 1547.9,492.0 1548.4,500.7 1549.0,494.5 1549.5,492.7 1550.1,495.9 1550.6,490.6 1551.2,491.5 1551.7,493.9 1552.3,494.4 1552.8,495.8 1553.4,498.4 1553.9,494.3 1554.5,497.8 1555.0,497.1 1555.6,493.3 1556.1,496.5 1556.7,493.9 1557.2,500.4 1557.8,498.1 1558.3,496.8 1558.9,494.1 1559.4,496.4 1560.0,494.0 1560.5,493.0 1561.1,494.4 1561.6,493.1 1562.2,496.8 1562.7,496.0 1563.3,493.6 1563.8,498.8 1564.4,495.4 1564.9,495.4 1565.5,496.3 1566.0,494.9 1566.6,495.2 1567.1,495.5 1567.7,499.9 1568.2,500.2 1568.8,494.3 1569.3,499.4 1569.9,493.9 1570.4,494.7 1571.0,496.7 1571.5,494.5 1572.1,499.8 1572.6,495.0 1573.2,492.2 1573.7,505.2 1574.3,494.5 1574.8,493.9 1575.4,487.2 1575.9,497.0 1576.5,496.7 1577.0,496.2 1577.6,496.7 1578.1,499.1 1578.7,495.4 1579.2,498.2 1579.8,494.0 1580.3,495.3 1580.9,498.8 1581.4,496.7 1582.0,491.6 1582.5,495.3 1583.1,494.1 1583.6,491.2 1584.2,493.7 1584.7,491.5 1585.3,488.5 1585.8,490.0 1586.4,498.3 1586.9,490.6 1587.5,495.9 1588.0,497.7 1588.6,498.1 1589.1,493.2 1589.7,497.2 1590.2,497.1 1590.8,498.0 1591.3,494.0 1591.9,492.1 1592.4,496.3 1593.0,497.1 1593.5,494.5 1594.1,492.5 1594.6,495.1 1595.2,495.5 1595.7,496.9 1596.3,492.7 1596.8,495.9 1597.4,494.8 1597.9,492.4 1598.5,503.8 1599.0,494.6 1599.6,493.6 1600.1,494.9 1600.7,490.6 1601.2,493.9 1601.8,494.5 1602.3,493.8 1602.9,495.4 1603.4,490.1 1604.0,489.6 1604.5,493.8 1605.1,494.1 1605.6,498.7 1606.2,494.6 1606.7,489.9 1607.3,494.1 1607.8,489.1 1608.4,487.0 1608.9,496.9 1609.5,491.5 1610.0,492.5 1610.6,493.5 1611.1,496.4 1611.7,492.7 1612.2,487.2 1612.8,489.8 1613.3,488.7 1613.9,496.6 1614.4,497.4 1615.0,495.2 1615.5,495.1 1616.1,495.4 1616.6,492.9 1617.2,497.8 1617.7,494.6 1618.3,493.9 1618.8,492.3 1619.4,493.6 1619.9,492.0 1620.5,492.2 1621.0,486.7 1621.6,490.8 1622.1,493.4 1622.7,486.5 1623.2,486.9 1623.8,488.5 1624.3,487.9 1624.9,487.3 1625.4,480.8 1626.0,486.0 1626.5,481.6 1627.1,482.2 1627.6,485.4 1628.2,483.2 1628.7,484.8 1629.3,490.3 1629.8,483.2 1630.4,482.9 1630.9,478.4 1631.5,478.8 1632.0,476.8 1632.6,478.0 1633.1,475.6 1633.7,475.5 1634.2,475.5 1634.8,472.3 1635.3,469.5 1635.9,468.6 1636.4,472.8 1637.0,471.8 1637.5,474.1 1638.1,475.3 1638.6,471.9 1639.2,474.8 1639.7,470.6 1640.3,479.3 1640.8,477.7 1641.4,474.3 1641.9,470.4 1642.5,474.3 1643.0,468.7 1643.6,472.0 1644.1,475.7 1644.7,473.3 1645.2,473.0 1645.8,477.8 1646.3,473.6 1646.9,477.8 1647.4,476.6 1648.0,476.6 1648.5,480.7 1649.1,477.7 1649.6,484.9 1650.2,478.4 1650.7,484.9 1651.3,476.2 1651.8,480.5 1652.4,475.9 1652.9,474.8 1653.5,479.2 1654.0,480.2 1654.6,476.8 1655.1,484.4 1655.7,480.7 1656.2,483.6 1656.8,485.0 1657.3,486.2 1657.9,481.4 1658.4,489.6 1659.0,486.2 1659.5,484.0 1660.1,482.5 1660.6,481.5 1661.2,481.3 1661.7,486.0 1662.3,484.0 1662.8,482.5 1663.4,483.6 1663.9,489.8 1664.5,485.3 1665.0,486.3 1665.6,490.6 1666.1,488.8 1666.7,488.4 1667.2,486.6 1667.8,483.6 1668.3,485.3 1668.9,486.3 1669.4,488.0 1670.0,489.8 1670.5,490.2 1671.1,490.6 1671.6,491.1 1672.2,488.0 1672.7,486.4 1673.3,491.2 1673.8,489.1 1674.4,490.6 1674.9,491.6 1675.5,489.4 1676.0,490.5 1676.6,492.0 1677.1,493.4 1677.7,492.4 1678.2,496.0 1678.8,494.3 1679.3,492.3 1679.9,494.6 1680.4,500.3 1681.0,493.5 1681.5,499.0 1682.1,498.6 1682.6,499.2 1683.2,494.5 1683.7,501.5 1684.3,496.3 1684.8,494.8 1685.4,494.8 1685.9,497.7 1686.5,495.8 1687.0,494.4 1687.6,498.8 1688.1,493.6 1688.7,493.4 1689.2,497.3 1689.8,496.0 1690.3,497.5 1690.9,492.7 1691.4,498.2 1692.0,498.5 1692.5,501.6 1693.1,495.0 1693.6,500.0 1694.2,498.5 1694.7,495.0 1695.3,497.3 1695.8,500.7 1696.4,496.9 1696.9,495.7 1697.5,499.2 1698.0,499.5 1698.6,500.3 1699.1,495.7 1699.7,497.6 1700.2,499.8 1700.8,495.7 1701.3,494.9 1701.9,498.9 1702.4,501.0 1703.0,494.8 1703.5,491.5 1704.1,494.6 1704.6,496.0 1705.2,497.9 1705.7,499.8 1706.3,498.1 1706.8,496.0 1707.4,497.4 1707.9,494.4 1708.5,496.8 1709.0,496.3 1709.6,504.7 1710.1,493.8 1710.7,494.9 1711.2,494.3 1711.8,496.8 1712.3,493.2 1712.9,495.1 1713.4,494.8 1714.0,498.8 1714.5,495.5 1715.1,495.7 1715.6,493.9 1716.2,495.2 1716.7,498.3 1717.3,498.2 1717.8,500.7 1718.4,496.2 1718.9,500.5 1719.5,500.0 1720.0,498.3 1720.6,493.1 1721.1,495.4 1721.7,501.6 1722.2,503.5 1722.8,500.3 1723.3,499.6 1723.9,497.1 1724.4,498.2 1725.0,498.1 1725.5,501.9 1726.1,500.6 1726.6,499.3 1727.2,500.4 1727.7,503.0 1728.3,501.7 1728.8,504.0 1729.4,505.2 1729.9,501.4 1730.5,500.0 1731.0,503.4 1731.6,502.3 1732.1,500.3 1732.7,501.8 1733.2,497.1 1733.8,498.4 1734.3,494.5 1734.9,502.6 1735.4,494.4 1736.0,500.2 1736.5,497.0 1737.1,496.4 1737.6,498.5 1738.2,499.9 1738.7,501.9 1739.3,505.2 1739.8,501.8 1740.4,503.0 1740.9,499.9 1741.5,503.1 1742.0,502.6 1742.6,500.8 1743.1,502.4 1743.7,503.2 1744.2,503.9 1744.8,504.5 1745.3,501.9 1745.9,501.0 1746.4,504.5 1747.0,497.9 1747.5,500.1 1748.1,504.9 1748.6,493.8 1749.2,499.7 1749.7,507.6 1750.3,497.5 1750.8,508.0 1751.4,495.7 1751.9,505.7 1752.5,506.4 1753.0,504.0 1753.6,501.1 1754.1,502.9 1754.7,499.3 1755.2,502.3 1755.8,497.8 1756.3,500.5 1756.9,504.1 1757.4,498.2 1758.0,500.2 1758.5,501.2 1759.1,498.3 1759.6,504.9 1760.2,502.1 1760.7,497.3 1761.3,501.3 1761.8,499.2 1762.4,499.9 1762.9,501.9 1763.5,499.8 1764.0,503.9 1764.6,499.9 1765.1,504.2 1765.7,502.2 1766.2,505.2 1766.8,501.3 1767.3,501.8 1767.9,501.0 1768.4,505.6 1769.0,506.6 1769.5,509.4 1770.1,507.6 1770.6,504.9 1771.2,503.6 1771.7,504.7 1772.3,503.6 1772.8,507.6 1773.4,506.4 1773.9,500.7 1774.5,501.4 1775.0,506.4 1775.6,503.2 1776.1,502.4 1776.7,505.4 1777.2,501.2 1777.8,502.1 1778.3,502.6 1778.9,498.8 1779.4,506.4 1780.0,501.6 1780.5,503.0 1781.1,502.3 1781.6,505.2 1782.2,502.9 1782.7,503.2 1783.3,499.4 1783.8,502.7 1784.4,499.4 1784.9,503.7 1785.5,504.2 1786.0,502.9 1786.6,508.0 1787.1,504.8 1787.7,504.5 1788.2,503.3 1788.8,502.3 1789.3,506.2 1789.9,505.8 1790.4,500.1 1791.0,505.9 1791.5,504.8 1792.1,506.5 1792.6,504.7 1793.2,499.7 1793.7,499.7 1794.3,506.9 1794.8,502.3 1795.4,497.9 1795.9,502.4 1796.5,501.7 1797.0,497.9 1797.6,497.3 1798.1,498.3 1798.7,502.9 1799.2,503.4 1799.8,502.2 1800.3,503.5 1800.9,504.3 1801.4,498.1 1802.0,503.5 1802.5,502.1 1803.1,499.4 1803.6,501.2 1804.2,502.6 1804.7,502.4 1805.3,499.3 1805.8,501.3 1806.4,506.8 1806.9,500.2 1807.5,498.9 1808.0,503.0 1808.6,503.8 1809.1,503.3 1809.7,499.3 1810.2,505.6 1810.8,500.8 1811.3,498.7 1811.9,500.3 1812.4,501.4 1813.0,502.9 1813.5,503.2 1814.1,501.2 1814.6,503.9 1815.2,503.3 1815.7,505.5 1816.3,499.3 1816.8,498.9 1817.4,505.0 1817.9,499.7 1818.5,501.8 1819.0,501.8 1819.6,500.9 1820.1,501.8 1820.7,507.1 1821.2,496.5 1821.8,505.0 1822.3,508.8 1822.9,503.1 1823.4,501.8 1824.0,503.5 1824.5,505.3 1825.1,498.8 1825.6,502.8 1826.2,502.9 1826.7,505.2 1827.3,504.9 1827.8,506.7 1828.4,504.5 1828.9,505.3 1829.5,502.4 1830.0,501.4 1830.6,502.5 1831.1,503.5 1831.7,500.5 1832.2,508.4 1832.8,505.1 1833.3,501.8 1833.9,502.1 1834.4,503.0 1835.0,505.3 1835.5,503.8 1836.1,503.4 1836.6,502.4 1837.2,501.5 1837.7,503.2 1838.3,508.6 1838.8,498.0 1839.4,504.0 1839.9,505.2 1840.5,501.1 1841.0,494.7 1841.6,508.2 1842.1,502.2 1842.7,509.1 1843.2,505.2 1843.8,503.2 1844.3,499.8 1844.9,504.8 1845.4,505.4 1846.0,503.1 1846.5,501.8 1847.1,502.0 1847.6,506.1 1848.2,504.4 1848.7,500.1 1849.3,501.4 1849.8,503.4 1850.4,500.9 1850.9,501.6 1851.5,499.1 1852.0,500.3 1852.6,502.2 1853.1,503.6 1853.7,500.8 1854.2,505.7 1854.8,500.2 1855.3,508.6 1855.9,502.3 1856.4,500.9 1857.0,498.6 1857.5,494.0 1858.1,500.7 1858.6,501.5 1859.2,506.4 1859.7,498.9 1860.3,507.5 1860.8,503.2 1861.4,505.5 1861.9,498.0 1862.5,504.3 1863.0,503.2 1863.6,506.1 1864.1,503.8 1864.7,500.1 1865.2,504.9 1865.8,503.4 1866.3,503.5 1866.9,504.6 1867.4,504.6 1868.0,502.2 1868.5,498.3 1869.1,498.5 1869.6,506.1 1870.2,504.8 1870.7,503.0 1871.3,501.6 1871.8,502.2 1872.4,502.8 1872.9,501.3 1873.5,499.3 1874.0,506.5 1874.6,501.0 1875.1,500.0 1875.7,498.0 1876.2,499.7 1876.8,503.3 1877.3,504.1 1877.9,500.7 1878.4,501.8 1879.0,500.1 1879.5,498.5 1880.1,504.5 1880.6,503.4 1881.2,508.3 1881.7,501.1 1882.3,502.6 1882.8,505.2 1883.4,503.6 1883.9,499.5 1884.5,499.6 1885.0,501.7 1885.6,501.8 1886.1,500.5 1886.7,505.0 1887.2,504.1 1887.8,504.2 1888.3,504.4 1888.9,504.3 1889.4,506.6 1890.0,508.4 1890.5,504.6 1891.1,505.5 1891.6,503.0 1892.2,499.0 1892.7,499.9 1893.3,504.2 1893.8,502.9 1894.4,505.3 1894.9,501.2 1895.5,502.9 1896.0,504.7 1896.6,504.5 1897.1,500.4 1897.7,501.3 1898.2,501.8 1898.8,498.7 1899.3,502.5 1899.9,508.3 1900.4,499.3 1901.0,505.1 1901.5,499.0 1902.1,500.1 1902.6,500.2 1903.2,498.4 1903.7,501.7 1904.3,500.6 1904.8,506.2 1905.4,503.0 1905.9,502.5 1906.5,500.8 1907.0,498.6 1907.6,502.0 1908.1,499.0 1908.7,502.8 1909.2,500.8 1909.8,505.0 1910.3,502.2 1910.9,501.5 1911.4,499.9 1912.0,501.4 1912.5,502.2 1913.1,503.1 1913.6,499.3 1914.2,502.7 1914.7,508.6 1915.3,502.1 1915.8,501.6 1916.4,499.8 1916.9,498.1 1917.5,504.6 1918.0,501.9 1918.6,502.1 1919.1,506.7 1919.7,507.8 1920.2,499.9 1920.8,504.9 1921.3,504.3 1921.9,502.7 1922.4,504.2 1923.0,502.1 1923.5,505.7 1924.1,503.0 1924.6,503.2 1925.2,505.2 1925.7,504.7 1926.3,502.5 1926.8,502.8 1927.4,506.3 1927.9,508.2 1928.5,500.4 1929.0,499.2 1929.6,500.9 1930.1,499.9 1930.7,507.2 1931.2,502.5 1931.8,497.3 1932.3,502.9 1932.9,502.7 1933.4,501.9 1934.0,498.8 1934.5,504.4 1935.1,499.9 1935.6,498.2 1936.2,498.1 1936.7,501.3 1937.3,503.2 1937.8,503.2 1938.4,500.5 1938.9,501.6 1939.5,497.4 1940.0,497.0 1940.6,499.0 1941.1,494.9 1941.7,500.1 1942.2,502.9 1942.8,501.5 1943.3,503.1 1943.9,500.1 1944.4,498.9 1945.0,501.4 1945.5,505.2 1946.1,504.0 1946.6,500.4 1947.2,505.4 1947.7,500.8 1948.3,505.0 1948.8,502.2 1949.4,500.4 1949.9,504.3 1950.5,499.3 1951.0,498.7 1951.6,497.4 1952.1,501.6 1952.7,501.2 1953.2,501.1 1953.8,498.8 1954.3,503.4 1954.9,499.3 1955.4,498.9 1956.0,510.3 1956.5,504.4 1957.1,501.2 1957.6,496.9 1958.2,500.0 1958.7,502.0 1959.3,500.3 1959.8,504.3 1960.4,496.8 1960.9,502.6 1961.5,499.4 1962.0,504.1 1962.6,501.1 1963.1,503.8 1963.7,499.5 1964.2,498.4 1964.8,498.1 1965.3,498.4 1965.9,498.2 1966.4,503.8 1967.0,504.4 1967.5,495.6 1968.1,498.7 1968.6,501.0 1969.2,500.7 1969.7,505.2 1970.3,502.6 1970.8,503.5 1971.4,500.5 1971.9,495.9 1972.5,499.5 1973.0,498.0 1973.6,502.1 1974.1,500.6 1974.7,497.3 1975.2,499.3 1975.8,504.3 1976.3,497.9 1976.9,497.5 1977.4,500.2 1978.0,500.0 1978.5,501.3 1979.1,502.9 1979.6,505.3 1980.2,496.9 1980.7,501.5 1981.3,501.4 1981.8,500.6 1982.4,500.4 1982.9,500.1 1983.5,503.3 1984.0,499.2 1984.6,500.6 1985.1,500.1 1985.7,500.2 1986.2,499.5 1986.8,503.0 1987.3,501.5 1987.9,502.3 1988.4,501.2 1989.0,498.9 1989.5,500.2 1990.1,499.3 1990.6,502.3 1991.2,499.3 1991.7,498.7 1992.3,502.5 1992.8,502.9 1993.4,496.5 1993.9,505.8 1994.5,502.2 1995.0,502.4 1995.6,505.6 1996.1,502.9 1996.7,501.4 1997.2,509.0 1997.8,499.9 1998.3,501.9 1998.9,503.0 1999.4,497.7 2000.0,500.0 2000.5,500.9 2001.1,505.8 2001.6,497.8 2002.2,499.8 2002.7,502.3 2003.3,500.8 2003.8,498.6 2004.4,502.9 2004.9,502.1 2005.5,502.7 2006.0,504.4 2006.6,504.1 2007.1,502.8 2007.7,501.7 2008.2,498.5 2008.8,501.6 2009.3,503.1 2009.9,501.7 2010.4,502.9 2011.0,501.9 2011.5,508.9 2012.1,510.6 2012.6,503.9 2013.2,505.7 2013.7,504.2 2014.3,508.2 2014.8,505.1 2015.4,503.2 2015.9,507.9 2016.5,502.7 2017.0,500.4 2017.6,503.7 2018.1,500.2 2018.7,503.9 2019.2,503.0 2019.8,505.9 2020.3,502.3 2020.9,505.2 2021.4,500.8 2022.0,504.1 2022.5,501.3 2023.1,503.7 2023.6,503.1 2024.2,505.4 2024.7,497.9 2025.3,504.3 2025.8,501.1 2026.4,507.5 2026.9,497.8 2027.5,500.4 2028.0,499.5 2028.6,507.8 2029.1,500.8 2029.7,503.0 2030.2,501.6 2030.8,499.1 2031.3,503.3 2031.9,505.9 2032.4,503.4 2033.0,505.3 2033.5,503.2 2034.1,504.9 2034.6,505.2 2035.2,506.6 2035.7,511.0 2036.3,506.8 2036.8,506.6 2037.4,503.9 2037.9,503.0 2038.5,506.9 2039.0,500.4 2039.6,500.1 2040.1,502.5 2040.7,502.2 2041.2,508.5 2041.8,497.9 2042.3,505.7 2042.9,507.0 2043.4,502.5 2044.0,503.9 2044.5,499.6 2045.1,509.6 2045.6,502.9 2046.2,501.1 2046.7,508.0 2047.3,509.9 2047.8,505.0 2048.4,499.6 2048.9,503.7 2049.5,504.6 2050.0,507.7 2050.6,504.0 2051.1,502.6 2051.7,503.3 2052.2,508.5 2052.8,509.1 2053.3,500.5 2053.9,502.5 2054.4,509.5 2055.0,504.0 2055.5,500.4 2056.1,503.3 2056.6,501.9 2057.2,501.7 2057.7,501.1 2058.3,501.6 2058.8,501.0 2059.4,498.9 2059.9,501.1 2060.5,502.4 2061.0,501.8 2061.6,505.8 2062.1,503.4 2062.7,502.3 2063.2,504.0 2063.8,504.1 2064.3,507.3 2064.9,506.1 2065.4,509.4 2066.0,509.2 2066.5,506.2 2067.1,505.9 2067.6,507.7 2068.2,506.6 2068.7,505.5 2069.3,500.9 2069.8,499.4 2070.4,505.3 2070.9,506.2 2071.5,508.0 2072.0,502.1 2072.6,507.6 2073.1,504.3 2073.7,506.2 2074.2,506.0 2074.8,502.2 2075.3,502.2 2075.9,498.9 2076.4,502.3 2077.0,501.3 2077.5,507.8 2078.1,506.2 2078.6,508.3 2079.2,506.3 2079.7,502.9 2080.3,505.4 2080.8,502.1 2081.4,503.2 2081.9,502.8 2082.5,500.1 2083.0,503.0 2083.6,503.5 2084.1,502.8 2084.7,506.4 2085.2,509.1 2085.8,504.4 2086.3,503.7 2086.9,499.2 2087.4,504.3 2088.0,503.6 2088.5,499.4 2089.1,504.9 2089.6,505.8 2090.2,502.4 2090.7,503.7 2091.3,502.6 2091.8,506.0 2092.4,499.5 2092.9,502.8 2093.5,507.8 2094.0,503.3 2094.6,504.0 2095.1,501.7 2095.7,499.5 2096.2,502.9 2096.8,503.3 2097.3,499.8 2097.9,503.0 2098.4,503.8 2099.0,497.0 2099.5,497.0 2100.1,498.9 2100.6,497.9 2101.2,505.1 2101.7,505.1 2102.3,506.9 2102.8,503.8 2103.4,503.3 2103.9,505.8 2104.5,506.3 2105.0,503.7 2105.6,505.6 2106.1,506.2 2106.7,503.9 2107.2,500.8 2107.8,498.4 2108.3,502.7 2108.9,503.3" stroke="#0668ad" stroke-width="5.5"/>
<polyline points="158.0,757.5 158.6,758.0 159.1,757.6 159.7,756.0 160.2,756.8 160.8,755.2 161.3,758.5 161.9,759.3 162.4,756.5 163.0,756.3 163.5,756.6 164.1,758.7 164.6,758.3 165.2,758.6 165.7,759.0 166.3,756.5 166.8,753.4 167.4,761.3 167.9,761.4 168.5,755.2 169.0,756.5 169.6,759.2 170.1,760.3 170.7,758.9 171.2,760.3 171.8,758.4 172.3,759.4 172.9,759.5 173.4,756.9 174.0,759.9 174.5,758.4 175.1,759.6 175.6,756.1 176.2,758.7 176.7,754.2 177.3,757.4 177.8,749.4 178.4,754.2 178.9,758.2 179.5,754.8 180.0,756.5 180.6,752.6 181.1,760.1 181.7,759.1 182.2,756.9 182.8,761.8 183.3,757.5 183.9,760.4 184.4,757.5 185.0,753.6 185.5,756.7 186.1,759.7 186.6,758.9 187.2,756.1 187.7,758.3 188.3,757.5 188.8,759.1 189.4,754.3 189.9,757.2 190.5,759.6 191.0,758.3 191.6,752.1 192.1,763.0 192.7,757.5 193.2,759.2 193.8,756.5 194.3,756.7 194.9,757.8 195.4,754.6 196.0,753.5 196.5,761.4 197.1,757.8 197.6,760.9 198.2,759.1 198.7,759.9 199.3,760.8 199.8,761.6 200.4,757.2 200.9,762.8 201.5,757.9 202.0,760.2 202.6,764.1 203.1,759.6 203.7,762.1 204.2,757.5 204.8,759.8 205.3,758.5 205.9,760.4 206.4,759.1 207.0,758.6 207.5,761.9 208.1,758.4 208.6,758.9 209.2,762.4 209.7,758.8 210.3,757.2 210.8,756.6 211.4,758.7 211.9,757.6 212.5,759.9 213.0,758.5 213.6,763.2 214.1,758.9 214.7,755.6 215.2,760.5 215.8,759.4 216.3,759.6 216.9,757.1 217.4,762.7 218.0,759.4 218.5,758.9 219.1,755.8 219.6,761.0 220.2,759.5 220.7,761.6 221.3,759.0 221.8,757.1 222.4,760.5 222.9,758.8 223.5,761.7 224.0,758.3 224.6,761.2 225.1,759.6 225.7,760.5 226.2,759.9 226.8,759.1 227.3,760.7 227.9,759.7 228.4,760.2 229.0,759.7 229.5,755.1 230.1,759.9 230.6,763.0 231.2,760.5 231.7,760.8 232.3,761.3 232.8,759.3 233.4,757.8 233.9,762.3 234.5,762.6 235.0,761.6 235.6,761.5 236.1,761.4 236.7,759.4 237.2,758.9 237.8,757.8 238.3,759.0 238.9,756.2 239.4,757.2 240.0,760.5 240.5,759.0 241.1,755.7 241.6,762.0 242.2,756.2 242.7,766.2 243.3,762.9 243.8,761.8 244.4,759.3 244.9,757.9 245.5,759.8 246.0,759.7 246.6,757.2 247.1,759.8 247.7,762.7 248.2,763.2 248.8,759.5 249.3,756.6 249.9,762.5 250.4,760.7 251.0,763.3 251.5,765.0 252.1,764.3 252.6,761.4 253.2,763.6 253.7,764.4 254.3,762.1 254.8,762.8 255.4,763.8 255.9,761.7 256.5,760.7 257.0,760.6 257.6,762.9 258.1,761.5 258.7,764.6 259.2,761.8 259.8,767.0 260.3,766.9 260.9,761.7 261.4,767.1 262.0,762.5 262.5,766.1 263.1,764.5 263.6,763.0 264.2,763.5 264.7,760.4 265.3,762.4 265.8,763.5 266.4,762.4 266.9,764.7 267.5,760.6 268.0,764.7 268.6,760.9 269.1,764.5 269.7,763.8 270.2,764.2 270.8,760.7 271.3,768.6 271.9,761.6 272.4,762.4 273.0,760.6 273.5,765.4 274.1,761.3 274.6,764.6 275.2,761.5 275.7,763.2 276.3,761.9 276.8,764.7 277.4,761.6 277.9,760.3 278.5,763.3 279.0,758.8 279.6,760.0 280.1,764.5 280.7,758.1 281.2,764.1 281.8,761.0 282.3,759.1 282.9,761.5 283.4,763.4 284.0,760.5 284.5,761.3 285.1,764.7 285.6,766.0 286.2,764.6 286.7,764.0 287.3,763.0 287.8,763.0 288.4,765.5 288.9,764.1 289.5,763.1 290.0,765.5 290.6,761.1 291.1,761.2 291.7,761.1 292.2,767.2 292.8,758.8 293.3,764.0 293.9,764.0 294.4,763.5 295.0,767.6 295.5,764.8 296.1,763.6 296.6,760.1 297.2,763.5 297.7,762.2 298.3,762.7 298.8,763.1 299.4,761.3 299.9,763.2 300.5,766.0 301.0,765.0 301.6,769.8 302.1,759.3 302.7,766.4 303.2,767.7 303.8,764.7 304.3,763.1 304.9,765.4 305.4,762.4 306.0,765.9 306.5,761.4 307.1,761.4 307.6,763.9 308.2,760.7 308.7,762.5 309.3,763.2 309.8,758.9 310.4,763.8 310.9,761.5 311.5,764.4 312.0,763.8 312.6,763.4 313.1,762.6 313.7,760.7 314.2,763.1 314.8,762.1 315.3,767.3 315.9,766.9 316.4,761.3 317.0,766.2 317.5,765.4 318.1,764.0 318.6,766.5 319.2,766.7 319.7,763.3 320.3,763.9 320.8,765.5 321.4,762.0 321.9,764.2 322.5,763.7 323.0,762.8 323.6,761.4 324.1,764.1 324.7,764.6 325.2,763.0 325.8,760.5 326.3,763.1 326.9,761.7 327.4,763.1 328.0,763.7 328.5,759.4 329.1,761.9 329.6,760.6 330.2,760.5 330.7,766.9 331.3,764.7 331.8,759.9 332.4,764.5 332.9,761.8 333.5,765.6 334.0,763.3 334.6,763.1 335.1,763.7 335.7,764.6 336.2,763.2 336.8,762.5 337.3,762.7 337.9,764.6 338.4,760.2 339.0,763.3 339.5,761.6 340.1,761.8 340.6,765.1 341.2,761.2 341.7,761.2 342.3,760.5 342.8,763.5 343.4,762.8 343.9,764.0 344.5,763.8 345.0,759.4 345.6,765.4 346.1,762.4 346.7,763.4 347.2,762.9 347.8,764.7 348.3,765.7 348.9,767.7 349.4,765.1 350.0,764.1 350.5,764.0 351.1,766.4 351.6,768.4 352.2,765.3 352.7,763.0 353.3,762.9 353.8,762.9 354.4,762.2 354.9,759.7 355.5,754.9 356.0,759.2 356.6,763.3 357.1,762.4 357.7,756.6 358.2,761.6 358.8,758.7 359.3,767.7 359.9,763.9 360.4,761.4 361.0,765.7 361.5,763.3 362.1,765.6 362.6,764.5 363.2,761.6 363.7,765.4 364.3,760.5 364.8,765.8 365.4,763.0 365.9,761.2 366.5,760.0 367.0,768.0 367.6,768.3 368.1,762.8 368.7,769.7 369.2,766.4 369.8,765.7 370.3,765.7 370.9,764.7 371.4,767.3 372.0,765.3 372.5,760.8 373.1,769.3 373.6,766.3 374.2,761.9 374.7,765.3 375.3,764.3 375.8,765.5 376.4,766.0 376.9,765.0 377.5,762.8 378.0,762.2 378.6,764.4 379.1,762.6 379.7,768.1 380.2,761.0 380.8,765.2 381.3,764.8 381.9,763.8 382.4,768.0 383.0,764.3 383.5,762.1 384.1,764.1 384.6,766.5 385.2,761.6 385.7,766.7 386.3,765.8 386.8,764.5 387.4,767.8 387.9,768.3 388.5,765.8 389.0,764.8 389.6,768.7 390.1,767.3 390.7,762.8 391.2,764.6 391.8,764.4 392.3,764.1 392.9,761.3 393.4,766.2 394.0,765.2 394.5,765.2 395.1,767.4 395.6,764.5 396.2,765.4 396.7,765.9 397.3,765.3 397.8,767.0 398.4,768.7 398.9,767.1 399.5,768.6 400.0,764.9 400.6,767.3 401.1,757.9 401.7,764.5 402.2,763.8 402.8,768.7 403.3,768.8 403.9,768.3 404.4,771.3 405.0,770.8 405.5,769.3 406.1,766.2 406.6,764.6 407.2,767.2 407.7,766.0 408.3,765.6 408.8,766.9 409.4,763.6 409.9,769.3 410.5,764.0 411.0,764.8 411.6,767.2 412.1,762.2 412.7,767.1 413.2,766.4 413.8,764.2 414.3,761.1 414.9,762.3 415.4,759.5 416.0,766.9 416.5,764.0 417.1,763.2 417.6,762.8 418.2,766.5 418.7,767.8 419.3,762.3 419.8,763.4 420.4,760.6 420.9,765.8 421.5,764.6 422.0,769.0 422.6,764.6 423.1,764.0 423.7,763.2 424.2,766.2 424.8,760.5 425.3,766.6 425.9,765.5 426.4,764.3 427.0,762.8 427.5,767.5 428.1,769.8 428.6,764.4 429.2,765.5 429.7,769.5 430.3,763.7 430.8,764.9 431.4,762.3 431.9,764.6 432.5,765.6 433.0,765.3 433.6,764.6 434.1,762.8 434.7,763.0 435.2,763.7 435.8,772.4 436.3,763.3 436.9,762.6 437.4,764.1 438.0,764.6 438.5,762.1 439.1,762.6 439.6,765.5 440.2,765.5 440.7,762.6 441.3,766.3 441.8,764.8 442.4,766.7 442.9,762.5 443.5,766.7 444.0,765.4 444.6,761.5 445.1,764.8 445.7,764.5 446.2,759.7 446.8,767.4 447.3,761.7 447.9,763.2 448.4,765.5 449.0,769.4 449.5,769.3 450.1,767.7 450.6,771.4 451.2,767.8 451.7,769.1 452.3,771.9 452.8,766.0 453.4,759.6 453.9,764.9 454.5,762.3 455.0,764.8 455.6,765.1 456.1,762.4 456.7,761.4 457.2,763.2 457.8,762.7 458.3,758.0 458.9,766.6 459.4,764.5 460.0,764.6 460.5,771.1 461.1,763.3 461.6,765.5 462.2,766.9 462.7,766.5 463.3,765.1 463.8,763.3 464.4,762.7 464.9,766.5 465.5,764.9 466.0,763.6 466.6,759.6 467.1,762.5 467.7,759.9 468.2,766.0 468.8,764.9 469.3,762.3 469.9,763.6 470.4,770.3 471.0,766.7 471.5,760.7 472.1,763.6 472.6,760.3 473.2,759.9 473.7,762.9 474.3,768.7 474.8,767.5 475.4,765.1 475.9,764.1 476.5,764.7 477.0,766.2 477.6,761.4 478.1,760.0 478.7,767.9 479.2,763.6 479.8,767.1 480.3,764.4 480.9,768.2 481.4,763.1 482.0,765.6 482.5,768.7 483.1,767.2 483.6,763.8 484.2,768.2 484.7,763.8 485.3,763.0 485.8,767.4 486.4,769.1 486.9,768.5 487.5,763.6 488.0,767.6 488.6,767.7 489.1,764.8 489.7,760.3 490.2,767.6 490.8,767.0 491.3,766.8 491.9,762.2 492.4,762.4 493.0,767.8 493.5,766.8 494.1,766.9 494.6,765.8 495.2,766.7 495.7,764.8 496.3,765.0 496.8,764.5 497.4,766.9 497.9,765.2 498.5,767.2 499.0,767.0 499.6,763.1 500.1,768.9 500.7,761.2 501.2,765.1 501.8,765.8 502.3,766.3 502.9,757.6 503.4,765.0 504.0,766.5 504.5,767.2 505.1,758.8 505.6,763.1 506.2,764.6 506.7,764.0 507.3,768.1 507.8,763.0 508.4,767.5 508.9,765.8 509.5,761.7 510.0,762.7 510.6,764.1 511.1,764.5 511.7,766.2 512.2,763.6 512.8,766.1 513.3,760.0 513.9,756.9 514.4,762.4 515.0,763.7 515.5,762.5 516.1,760.7 516.6,764.8 517.2,768.0 517.7,762.9 518.3,766.9 518.8,762.9 519.4,768.9 519.9,764.2 520.5,765.3 521.0,767.1 521.6,766.9 522.1,762.8 522.7,767.0 523.2,766.8 523.8,765.6 524.3,765.7 524.9,762.5 525.4,764.5 526.0,763.1 526.5,765.6 527.1,762.3 527.6,765.6 528.2,763.1 528.7,764.5 529.3,762.9 529.8,762.8 530.4,763.6 530.9,762.6 531.5,762.5 532.0,757.9 532.6,764.9 533.1,761.1 533.7,762.1 534.2,761.6 534.8,766.1 535.3,761.7 535.9,764.7 536.4,766.2 537.0,767.8 537.5,766.3 538.1,764.4 538.6,759.7 539.2,765.9 539.7,766.1 540.3,765.1 540.8,764.9 541.4,764.1 541.9,763.2 542.5,767.7 543.0,767.7 543.6,762.5 544.1,767.1 544.7,765.1 545.2,765.8 545.8,764.3 546.3,765.8 546.9,765.5 547.4,765.5 548.0,760.5 548.5,765.2 549.1,763.3 549.6,760.0 550.2,763.4 550.7,758.6 551.3,763.0 551.8,764.3 552.4,759.4 552.9,763.4 553.5,762.7 554.0,764.4 554.6,759.7 555.1,764.6 555.7,764.3 556.2,766.4 556.8,764.4 557.3,766.6 557.9,764.1 558.4,764.5 559.0,766.2 559.5,763.2 560.1,765.5 560.6,764.3 561.2,765.8 561.7,764.0 562.3,767.6 562.8,770.0 563.4,767.6 563.9,770.1 564.5,768.8 565.0,765.2 565.6,768.6 566.1,770.8 566.7,765.6 567.2,761.6 567.8,765.3 568.3,763.3 568.9,769.3 569.4,764.4 570.0,763.6 570.5,762.4 571.1,765.4 571.6,762.6 572.2,761.4 572.7,762.9 573.3,761.2 573.8,766.2 574.4,761.2 574.9,763.6 575.5,762.6 576.0,760.8 576.6,768.0 577.1,760.6 577.7,769.9 578.2,763.2 578.8,765.9 579.3,771.2 579.9,761.6 580.4,764.1 581.0,769.7 581.5,765.9 582.1,763.1 582.6,765.0 583.2,762.9 583.7,766.0 584.3,768.7 584.8,765.2 585.4,767.6 585.9,770.1 586.5,771.7 587.0,765.4 587.6,767.3 588.1,765.4 588.7,764.4 589.2,764.4 589.8,764.8 590.3,762.2 590.9,762.7 591.4,765.9 592.0,768.1 592.5,770.8 593.1,767.9 593.6,768.9 594.2,771.4 594.7,771.3 595.3,769.9 595.8,769.3 596.4,775.2 596.9,769.9 597.5,769.9 598.0,767.3 598.6,772.3 599.1,771.0 599.7,776.7 600.2,770.4 600.8,772.9 601.3,772.9 601.9,774.4 602.4,768.9 603.0,774.7 603.5,771.1 604.1,771.3 604.6,772.2 605.2,771.9 605.7,771.9 606.3,766.9 606.8,774.1 607.4,773.1 607.9,770.1 608.5,771.2 609.0,777.7 609.6,774.2 610.1,772.9 610.7,777.6 611.2,772.7 611.8,775.4 612.3,775.0 612.9,775.7 613.4,777.7 614.0,776.9 614.5,774.4 615.1,775.9 615.6,775.9 616.2,775.4 616.7,776.6 617.3,775.6 617.8,775.8 618.4,777.9 618.9,784.4 619.5,780.4 620.0,778.3 620.6,776.3 621.1,776.8 621.7,777.1 622.2,769.5 622.8,777.3 623.3,777.6 623.9,777.7 624.4,783.8 625.0,783.0 625.5,782.5 626.1,784.9 626.6,783.2 627.2,781.3 627.7,782.2 628.3,788.3 628.8,784.9 629.4,784.6 629.9,781.9 630.5,784.7 631.0,789.5 631.6,785.2 632.1,786.6 632.7,786.9 633.2,785.8 633.8,787.3 634.3,785.3 634.9,786.4 635.4,784.5 636.0,792.4 636.5,789.0 637.1,789.4 637.6,792.7 638.2,787.9 638.7,787.6 639.3,785.6 639.8,786.7 640.4,785.2 640.9,787.4 641.5,786.6 642.0,785.9 642.6,788.1 643.1,789.2 643.7,789.2 644.2,791.7 644.8,791.1 645.3,791.1 645.9,788.7 646.4,792.0 647.0,788.3 647.5,792.0 648.1,792.6 648.6,791.9 649.2,790.9 649.7,791.1 650.3,798.1 650.8,794.2 651.4,794.3 651.9,797.2 652.5,796.2 653.0,797.9 653.6,793.2 654.1,792.8 654.7,801.9 655.2,794.7 655.8,793.9 656.3,795.4 656.9,797.5 657.4,792.6 658.0,796.4 658.5,795.0 659.1,796.4 659.6,795.3 660.2,793.5 660.7,793.4 661.3,789.8 661.8,797.4 662.4,792.6 662.9,794.9 663.5,800.3 664.0,795.7 664.6,797.5 665.1,796.1 665.7,799.4 666.2,799.0 666.8,798.1 667.3,802.6 667.9,799.0 668.4,796.4 669.0,799.3 669.5,801.1 670.1,796.8 670.6,801.6 671.2,801.3 671.7,804.0 672.3,799.3 672.8,802.1 673.4,797.1 673.9,800.3 674.5,802.1 675.0,802.9 675.6,802.7 676.1,801.9 676.7,800.8 677.2,801.1 677.8,803.6 678.3,803.6 678.9,800.1 679.4,805.2 680.0,805.8 680.5,799.5 681.1,802.6 681.6,802.3 682.2,801.5 682.7,804.9 683.3,804.7 683.8,803.5 684.4,804.2 684.9,806.3 685.5,803.2 686.0,803.1 686.6,806.4 687.1,805.6 687.7,807.7 688.2,805.0 688.8,807.1 689.3,804.7 689.9,805.1 690.4,806.4 691.0,800.3 691.5,806.9 692.1,807.9 692.6,805.6 693.2,804.1 693.7,805.2 694.3,803.2 694.8,805.3 695.4,809.0 695.9,805.9 696.5,805.8 697.0,804.5 697.6,804.8 698.1,805.2 698.7,804.8 699.2,805.5 699.8,799.4 700.3,801.8 700.9,804.6 701.4,800.6 702.0,800.9 702.5,799.8 703.1,802.9 703.6,804.1 704.2,806.3 704.7,803.4 705.3,801.6 705.8,804.2 706.4,804.9 706.9,806.4 707.5,797.3 708.0,808.6 708.6,799.0 709.1,803.7 709.7,803.7 710.2,802.5 710.8,802.6 711.3,800.7 711.9,798.2 712.4,798.8 713.0,800.5 713.5,796.2 714.1,795.8 714.6,786.4 715.2,799.2 715.7,794.4 716.3,793.2 716.8,793.4 717.4,793.1 717.9,794.4 718.5,797.0 719.0,795.5 719.6,797.6 720.1,798.1 720.7,792.8 721.2,796.4 721.8,798.9 722.3,800.4 722.9,792.6 723.4,792.2 724.0,797.8 724.5,796.6 725.1,794.7 725.6,798.6 726.2,797.7 726.7,795.0 727.3,801.1 727.8,801.5 728.4,809.7 728.9,803.7 729.5,802.4 730.0,802.2 730.6,802.2 731.1,801.1 731.7,804.2 732.2,799.8 732.8,808.5 733.3,812.2 733.9,807.7 734.4,804.6 735.0,810.3 735.5,810.9 736.1,807.0 736.6,805.6 737.2,809.4 737.7,810.8 738.3,807.0 738.8,808.3 739.4,807.9 739.9,807.5 740.5,808.5 741.0,812.8 741.6,817.2 742.1,812.5 742.7,808.6 743.2,817.9 743.8,812.0 744.3,813.5 744.9,810.5 745.4,814.4 746.0,809.7 746.5,813.9 747.1,814.6 747.6,817.4 748.2,814.8 748.7,816.9 749.3,822.3 749.8,824.0 750.4,815.9 750.9,819.1 751.5,816.9 752.0,817.8 752.6,818.8 753.1,818.4 753.7,817.4 754.2,818.2 754.8,818.1 755.3,819.2 755.9,816.4 756.4,819.7 757.0,819.4 757.5,821.0 758.1,822.7 758.6,820.6 759.2,821.7 759.7,823.6 760.3,814.8 760.8,819.5 761.4,818.4 761.9,818.1 762.5,816.1 763.0,819.9 763.6,821.8 764.1,822.9 764.7,821.6 765.2,824.3 765.8,825.3 766.3,826.5 766.9,825.2 767.4,822.4 768.0,821.3 768.5,821.9 769.1,821.9 769.6,820.6 770.2,824.1 770.7,820.8 771.3,820.3 771.8,830.8 772.4,821.2 772.9,822.1 773.5,818.7 774.0,825.4 774.6,822.9 775.1,821.8 775.7,823.1 776.2,822.7 776.8,820.0 777.3,825.3 777.9,818.9 778.4,822.8 779.0,825.3 779.5,819.3 780.1,821.4 780.6,819.2 781.2,824.2 781.7,820.8 782.3,820.5 782.8,825.5 783.4,825.2 783.9,821.5 784.5,826.6 785.0,824.3 785.6,830.9 786.1,826.8 786.7,822.6 787.2,823.5 787.8,821.6 788.3,823.1 788.9,822.3 789.4,824.0 790.0,823.6 790.5,820.6 791.1,821.8 791.6,827.2 792.2,826.5 792.7,824.9 793.3,824.9 793.8,825.1 794.4,825.0 794.9,820.9 795.5,826.4 796.0,824.7 796.6,826.2 797.1,820.6 797.7,827.2 798.2,829.7 798.8,822.2 799.3,830.2 799.9,827.9 800.4,824.6 801.0,822.9 801.5,828.9 802.1,826.2 802.6,827.7 803.2,826.2 803.7,824.4 804.3,827.2 804.8,822.7 805.4,825.0 805.9,820.4 806.5,821.0 807.0,820.6 807.6,826.7 808.1,821.4 808.7,823.4 809.2,829.4 809.8,828.4 810.3,833.1 810.9,830.9 811.4,827.9 812.0,827.5 812.5,821.5 813.1,822.1 813.6,823.3 814.2,823.6 814.7,821.5 815.3,823.0 815.8,822.9 816.4,827.8 816.9,827.8 817.5,826.5 818.0,826.3 818.6,828.5 819.1,826.6 819.7,827.7 820.2,823.3 820.8,821.0 821.3,829.1 821.9,827.6 822.4,828.5 823.0,828.0 823.5,831.9 824.1,829.1 824.6,826.0 825.2,825.8 825.7,829.4 826.3,828.4 826.8,827.4 827.4,827.8 827.9,825.4 828.5,821.0 829.0,822.7 829.6,820.7 830.1,824.3 830.7,822.2 831.2,824.3 831.8,824.7 832.3,821.5 832.9,827.4 833.4,828.1 834.0,823.8 834.5,827.5 835.1,829.6 835.6,826.6 836.2,829.5 836.7,827.8 837.3,828.6 837.8,826.1 838.4,825.1 838.9,826.5 839.5,826.7 840.0,825.4 840.6,823.2 841.1,822.7 841.7,823.0 842.2,821.7 842.8,822.2 843.3,821.5 843.9,820.0 844.4,820.2 845.0,819.7 845.5,822.0 846.1,820.7 846.6,817.3 847.2,819.1 847.7,816.4 848.3,816.2 848.8,814.8 849.4,813.7 849.9,811.7 850.5,807.9 851.0,812.4 851.6,814.4 852.1,809.4 852.7,811.6 853.2,808.7 853.8,809.5 854.3,807.1 854.9,807.7 855.4,806.1 856.0,799.2 856.5,805.5 857.1,803.7 857.6,797.3 858.2,803.1 858.7,799.9 859.3,799.0 859.8,798.9 860.4,795.8 860.9,793.0 861.5,793.9 862.0,792.5 862.6,798.7 863.1,797.8 863.7,791.3 864.2,790.0 864.8,791.6 865.3,791.2 865.9,788.5 866.4,787.4 867.0,793.0 867.5,791.0 868.1,785.8 868.6,785.0 869.2,787.4 869.7,788.7 870.3,789.3 870.8,787.5 871.4,784.9 871.9,788.0 872.5,789.7 873.0,787.7 873.6,786.3 874.1,789.3 874.7,789.1 875.2,787.2 875.8,791.6 876.3,788.8 876.9,794.9 877.4,795.7 878.0,793.2 878.5,797.1 879.1,801.2 879.6,794.1 880.2,799.7 880.7,805.4 881.3,799.0 881.8,802.5 882.4,800.2 882.9,803.8 883.5,799.8 884.0,802.8 884.6,805.7 885.1,808.6 885.7,810.4 886.2,811.3 886.8,813.5 887.3,813.5 887.9,814.9 888.4,811.6 889.0,814.4 889.5,831.8 890.1,823.6 890.6,821.0 891.2,821.3 891.7,821.8 892.3,820.3 892.8,826.2 893.4,821.1 893.9,822.1 894.5,827.6 895.0,818.5 895.6,824.4 896.1,819.6 896.7,822.5 897.2,824.4 897.8,825.3 898.3,827.7 898.9,820.6 899.4,829.8 900.0,828.0 900.5,830.4 901.1,828.8 901.6,832.9 902.2,828.8 902.7,833.4 903.3,830.0 903.8,830.8 904.4,834.0 904.9,831.8 905.5,827.1 906.0,832.8 906.6,824.8 907.1,833.2 907.7,831.6 908.2,829.1 908.8,824.4 909.3,830.9 909.9,836.6 910.4,832.3 911.0,837.0 911.5,836.3 912.1,832.6 912.6,832.3 913.2,837.1 913.7,832.6 914.3,832.7 914.8,831.3 915.4,828.9 915.9,830.6 916.5,829.8 917.0,828.7 917.6,833.2 918.1,838.3 918.7,839.4 919.2,836.5 919.8,837.9 920.3,839.6 920.9,841.9 921.4,838.6 922.0,836.8 922.5,836.8 923.1,840.1 923.6,843.2 924.2,836.2 924.7,833.3 925.3,841.3 925.8,840.2 926.4,840.9 926.9,843.9 927.5,840.1 928.0,837.2 928.6,836.2 929.1,840.0 929.7,836.4 930.2,841.2 930.8,837.3 931.3,840.8 931.9,838.2 932.4,840.6 933.0,840.0 933.5,849.3 934.1,843.8 934.6,848.4 935.2,839.6 935.7,846.1 936.3,842.1 936.8,843.8 937.4,843.7 937.9,847.1 938.5,845.6 939.0,845.7 939.6,845.8 940.1,843.1 940.7,842.8 941.2,844.2 941.8,844.1 942.3,844.0 942.9,843.3 943.4,842.1 944.0,841.4 944.5,839.2 945.1,845.1 945.6,844.4 946.2,834.6 946.7,845.4 947.3,845.4 947.8,844.7 948.4,840.4 948.9,841.6 949.5,842.3 950.0,847.5 950.6,841.5 951.1,842.7 951.7,840.9 952.2,841.9 952.8,843.7 953.3,839.1 953.9,837.8 954.4,846.0 955.0,845.0 955.5,843.2 956.1,846.9 956.6,846.1 957.2,838.0 957.7,842.2 958.3,845.5 958.8,840.7 959.4,841.2 959.9,844.5 960.5,842.5 961.0,841.3 961.6,843.3 962.1,841.5 962.7,846.5 963.2,841.3 963.8,847.5 964.3,841.3 964.9,845.1 965.4,840.5 966.0,843.7 966.5,846.8 967.1,847.1 967.6,848.7 968.2,845.4 968.7,846.2 969.3,847.8 969.8,848.2 970.4,846.4 970.9,851.0 971.5,848.5 972.0,850.2 972.6,849.2 973.1,848.7 973.7,845.6 974.2,846.3 974.8,843.4 975.3,846.1 975.9,847.0 976.4,849.0 977.0,843.6 977.5,854.1 978.1,845.4 978.6,848.6 979.2,847.8 979.7,839.8 980.3,844.9 980.8,850.0 981.4,841.2 981.9,848.1 982.5,844.5 983.0,845.5 983.6,847.7 984.1,843.3 984.7,847.9 985.2,845.9 985.8,846.9 986.3,849.7 986.9,856.7 987.4,849.2 988.0,849.5 988.5,847.5 989.1,846.1 989.6,847.8 990.2,851.6 990.7,847.4 991.3,849.3 991.8,846.8 992.4,854.2 992.9,844.6 993.5,850.0 994.0,849.7 994.6,849.8 995.1,846.1 995.7,845.3 996.2,846.0 996.8,846.6 997.3,843.5 997.9,843.2 998.4,846.4 999.0,847.4 999.5,844.6 1000.1,844.8 1000.6,845.3 1001.2,853.2 1001.7,849.6 1002.3,848.6 1002.8,851.1 1003.4,852.9 1003.9,850.1 1004.5,844.0 1005.0,846.2 1005.6,845.7 1006.1,846.7 1006.7,844.8 1007.2,848.0 1007.8,846.0 1008.3,848.6 1008.9,848.3 1009.4,844.4 1010.0,843.0 1010.5,845.6 1011.1,848.7 1011.6,849.1 1012.2,848.4 1012.7,841.5 1013.3,848.0 1013.8,847.5 1014.4,848.5 1014.9,844.9 1015.5,847.3 1016.0,846.2 1016.6,852.9 1017.1,847.9 1017.7,845.2 1018.2,846.7 1018.8,847.5 1019.3,848.1 1019.9,847.9 1020.4,849.8 1021.0,852.8 1021.5,852.8 1022.1,850.6 1022.6,852.6 1023.2,849.4 1023.7,845.7 1024.3,844.2 1024.8,846.8 1025.4,848.5 1025.9,848.9 1026.5,851.0 1027.0,847.6 1027.6,847.4 1028.1,849.9 1028.7,850.6 1029.2,847.4 1029.8,849.1 1030.3,851.5 1030.9,847.8 1031.4,847.0 1032.0,843.7 1032.5,851.4 1033.1,849.6 1033.6,849.2 1034.2,847.5 1034.7,847.6 1035.3,850.8 1035.8,849.9 1036.4,852.5 1036.9,846.9 1037.5,854.2 1038.0,851.0 1038.6,853.1 1039.1,847.4 1039.7,850.0 1040.2,852.8 1040.8,850.2 1041.3,845.2 1041.9,847.4 1042.4,848.5 1043.0,843.9 1043.5,843.7 1044.1,847.5 1044.6,844.9 1045.2,849.5 1045.7,845.3 1046.3,844.2 1046.8,846.9 1047.4,853.4 1047.9,847.7 1048.5,849.6 1049.0,849.4 1049.6,846.2 1050.1,850.4 1050.7,847.8 1051.2,847.6 1051.8,841.7 1052.3,842.1 1052.9,840.1 1053.4,845.6 1054.0,845.3 1054.5,847.1 1055.1,849.2 1055.6,846.1 1056.2,844.8 1056.7,846.6 1057.3,849.8 1057.8,845.3 1058.4,849.8 1058.9,847.7 1059.5,847.3 1060.0,850.3 1060.6,846.1 1061.1,844.9 1061.7,848.5 1062.2,846.2 1062.8,845.2 1063.3,845.1 1063.9,846.4 1064.4,844.0 1065.0,846.8 1065.5,846.3 1066.1,848.6 1066.6,848.8 1067.2,847.3 1067.7,844.3 1068.3,845.5 1068.8,844.3 1069.4,851.4 1069.9,844.6 1070.5,846.1 1071.0,848.9 1071.6,843.1 1072.1,844.2 1072.7,844.0 1073.2,842.9 1073.8,842.0 1074.3,843.9 1074.9,846.9 1075.4,845.2 1076.0,843.1 1076.5,844.2 1077.1,839.0 1077.6,843.8 1078.2,843.3 1078.7,840.6 1079.3,843.3 1079.8,842.7 1080.4,841.8 1080.9,842.0 1081.5,843.0 1082.0,841.0 1082.6,844.3 1083.1,844.5 1083.7,844.7 1084.2,843.3 1084.8,842.2 1085.3,848.5 1085.9,839.6 1086.4,846.3 1087.0,844.0 1087.5,842.8 1088.1,841.2 1088.6,841.7 1089.2,838.9 1089.7,839.2 1090.3,842.7 1090.8,840.0 1091.4,845.8 1091.9,847.2 1092.5,837.2 1093.0,842.2 1093.6,845.3 1094.1,849.3 1094.7,844.0 1095.2,845.4 1095.8,845.4 1096.3,846.0 1096.9,847.4 1097.4,843.2 1098.0,844.2 1098.5,838.9 1099.1,842.0 1099.6,839.0 1100.2,844.3 1100.7,846.5 1101.3,843.4 1101.8,840.0 1102.4,842.7 1102.9,842.6 1103.5,844.4 1104.0,847.2 1104.6,847.9 1105.1,839.7 1105.7,849.5 1106.2,845.4 1106.8,846.4 1107.3,851.1 1107.9,847.9 1108.4,844.8 1109.0,845.3 1109.5,848.1 1110.1,850.6 1110.6,852.3 1111.2,850.0 1111.7,849.3 1112.3,855.1 1112.8,844.9 1113.4,856.2 1113.9,853.8 1114.5,854.3 1115.0,852.2 1115.6,854.8 1116.1,853.5 1116.7,852.5 1117.2,853.6 1117.8,852.5 1118.3,853.4 1118.9,852.6 1119.4,850.8 1120.0,850.2 1120.5,851.2 1121.1,855.0 1121.6,851.6 1122.2,851.8 1122.7,853.2 1123.3,855.7 1123.8,854.3 1124.4,854.4 1124.9,855.6 1125.5,856.7 1126.0,858.0 1126.6,858.0 1127.1,854.2 1127.7,855.4 1128.2,852.1 1128.8,859.2 1129.3,860.1 1129.9,859.8 1130.4,857.7 1131.0,860.2 1131.5,857.9 1132.1,858.0 1132.6,855.8 1133.2,857.4 1133.7,857.7 1134.3,861.1 1134.8,862.5 1135.4,858.0 1135.9,860.2 1136.5,859.3 1137.0,852.4 1137.6,855.9 1138.1,857.8 1138.7,849.6 1139.2,858.2 1139.8,858.4 1140.3,859.4 1140.9,859.4 1141.4,860.0 1142.0,857.1 1142.5,861.3 1143.1,856.2 1143.6,859.6 1144.2,859.2 1144.7,856.4 1145.3,854.4 1145.8,859.9 1146.4,855.9 1146.9,858.4 1147.5,858.4 1148.0,856.8 1148.6,857.2 1149.1,860.5 1149.7,859.0 1150.2,857.2 1150.8,859.3 1151.3,861.0 1151.9,859.7 1152.4,859.1 1153.0,857.9 1153.5,857.4 1154.1,855.5 1154.6,854.9 1155.2,861.5 1155.7,858.6 1156.3,861.3 1156.8,857.9 1157.4,862.4 1157.9,859.9 1158.5,869.9 1159.0,859.5 1159.6,859.6 1160.1,863.5 1160.7,863.5 1161.2,855.9 1161.8,861.0 1162.3,862.0 1162.9,858.0 1163.4,862.2 1164.0,859.8 1164.5,858.4 1165.1,859.0 1165.6,858.8 1166.2,856.2 1166.7,865.3 1167.3,859.0 1167.8,858.5 1168.4,863.0 1168.9,862.7 1169.5,866.2 1170.0,863.0 1170.6,863.2 1171.1,862.4 1171.7,861.7 1172.2,860.1 1172.8,860.1 1173.3,864.2 1173.9,858.5 1174.4,858.9 1175.0,859.6 1175.5,862.1 1176.1,862.1 1176.6,863.0 1177.2,858.1 1177.7,861.1 1178.3,860.2 1178.8,860.9 1179.4,861.5 1179.9,856.5 1180.5,861.5 1181.0,861.3 1181.6,858.7 1182.1,853.7 1182.7,864.9 1183.2,861.5 1183.8,864.0 1184.3,862.9 1184.9,861.3 1185.4,860.3 1186.0,861.3 1186.5,864.9 1187.1,863.3 1187.6,859.9 1188.2,863.2 1188.7,861.2 1189.3,860.8 1189.8,864.4 1190.4,861.1 1190.9,859.5 1191.5,866.1 1192.0,858.9 1192.6,863.8 1193.1,858.9 1193.7,861.4 1194.2,862.1 1194.8,862.3 1195.3,857.4 1195.9,861.8 1196.4,861.7 1197.0,860.0 1197.5,862.2 1198.1,863.2 1198.6,859.2 1199.2,862.1 1199.7,859.7 1200.3,863.4 1200.8,864.1 1201.4,868.8 1201.9,866.2 1202.5,864.6 1203.0,867.4 1203.6,861.5 1204.1,865.5 1204.7,861.3 1205.2,860.6 1205.8,864.3 1206.3,862.9 1206.9,864.5 1207.4,858.5 1208.0,862.9 1208.5,860.9 1209.1,862.0 1209.6,857.8 1210.2,863.4 1210.7,862.6 1211.3,860.0 1211.8,859.0 1212.4,861.0 1212.9,866.3 1213.5,863.0 1214.0,863.9 1214.6,865.5 1215.1,864.1 1215.7,863.9 1216.2,864.9 1216.8,863.2 1217.3,864.9 1217.9,858.6 1218.4,862.0 1219.0,861.7 1219.5,864.6 1220.1,862.8 1220.6,862.0 1221.2,862.6 1221.7,865.0 1222.3,860.8 1222.8,858.6 1223.4,862.6 1223.9,864.4 1224.5,861.4 1225.0,862.2 1225.6,861.5 1226.1,863.1 1226.7,866.6 1227.2,865.7 1227.8,864.0 1228.3,863.5 1228.9,860.2 1229.4,864.3 1230.0,865.3 1230.5,866.4 1231.1,868.4 1231.6,865.7 1232.2,866.8 1232.7,862.2 1233.3,867.2 1233.8,866.3 1234.4,867.7 1234.9,866.1 1235.5,865.2 1236.0,867.6 1236.6,863.1 1237.1,865.9 1237.7,866.7 1238.2,862.4 1238.8,861.8 1239.3,865.1 1239.9,863.7 1240.4,865.0 1241.0,872.8 1241.5,862.2 1242.1,864.9 1242.6,866.6 1243.2,864.5 1243.7,865.1 1244.3,863.9 1244.8,868.9 1245.4,878.6 1245.9,864.8 1246.5,869.4 1247.0,869.6 1247.6,865.9 1248.1,861.4 1248.7,863.6 1249.2,863.3 1249.8,864.8 1250.3,866.1 1250.9,864.2 1251.4,866.1 1252.0,864.9 1252.5,861.7 1253.1,867.9 1253.6,868.2 1254.2,863.8 1254.7,869.5 1255.3,867.1 1255.8,866.7 1256.4,871.4 1256.9,861.0 1257.5,862.8 1258.0,869.0 1258.6,866.9 1259.1,865.6 1259.7,871.2 1260.2,868.2 1260.8,863.7 1261.3,865.3 1261.9,867.5 1262.4,869.4 1263.0,859.4 1263.5,864.6 1264.1,863.5 1264.6,861.1 1265.2,864.5 1265.7,861.8 1266.3,864.5 1266.8,870.4 1267.4,867.3 1267.9,866.8 1268.5,866.7 1269.0,866.2 1269.6,867.5 1270.1,863.4 1270.7,864.4 1271.2,866.0 1271.8,864.3 1272.3,864.8 1272.9,867.6 1273.4,868.2 1274.0,863.0 1274.5,862.6 1275.1,867.3 1275.6,866.9 1276.2,865.3 1276.7,868.9 1277.3,869.1 1277.8,867.4 1278.4,874.5 1278.9,870.6 1279.5,868.0 1280.0,867.3 1280.6,872.6 1281.1,868.3 1281.7,864.2 1282.2,866.4 1282.8,866.6 1283.3,866.4 1283.9,868.6 1284.4,867.9 1285.0,867.6 1285.5,866.9 1286.1,869.6 1286.6,863.1 1287.2,867.8 1287.7,866.0 1288.3,866.0 1288.8,859.5 1289.4,869.3 1289.9,862.4 1290.5,864.8 1291.0,869.0 1291.6,866.2 1292.1,867.3 1292.7,862.7 1293.2,866.7 1293.8,867.8 1294.3,868.3 1294.9,864.9 1295.4,867.2 1296.0,868.1 1296.5,866.3 1297.1,866.2 1297.6,871.7 1298.2,865.8 1298.7,870.3 1299.3,866.5 1299.8,869.2 1300.4,864.7 1300.9,867.4 1301.5,868.1 1302.0,868.4 1302.6,870.0 1303.1,868.0 1303.7,869.9 1304.2,868.7 1304.8,870.7 1305.3,868.6 1305.9,864.1 1306.4,866.8 1307.0,868.0 1307.5,865.5 1308.1,869.9 1308.6,868.0 1309.2,868.4 1309.7,865.2 1310.3,865.7 1310.8,868.5 1311.4,864.0 1311.9,869.4 1312.5,868.6 1313.0,867.2 1313.6,867.4 1314.1,864.0 1314.7,866.4 1315.2,867.9 1315.8,862.0 1316.3,867.9 1316.9,863.0 1317.4,866.1 1318.0,867.3 1318.5,864.0 1319.1,856.8 1319.6,865.2 1320.2,867.3 1320.7,866.9 1321.3,870.8 1321.8,867.7 1322.4,869.5 1322.9,866.4 1323.5,868.3 1324.0,871.5 1324.6,868.6 1325.1,867.9 1325.7,862.6 1326.2,865.7 1326.8,864.1 1327.3,868.9 1327.9,866.1 1328.4,868.0 1329.0,864.7 1329.5,871.4 1330.1,864.1 1330.6,866.4 1331.2,872.6 1331.7,866.4 1332.3,863.9 1332.8,866.4 1333.4,867.4 1333.9,867.0 1334.5,861.4 1335.0,866.5 1335.6,861.1 1336.1,871.2 1336.7,867.2 1337.2,865.3 1337.8,867.9 1338.3,867.0 1338.9,862.0 1339.4,868.3 1340.0,863.8 1340.5,860.8 1341.1,867.1 1341.6,866.9 1342.2,865.5 1342.7,864.3 1343.3,861.1 1343.8,865.2 1344.4,867.9 1344.9,866.6 1345.5,869.4 1346.0,864.1 1346.6,868.5 1347.1,868.5 1347.7,863.1 1348.2,861.8 1348.8,863.8 1349.3,866.0 1349.9,866.6 1350.4,863.7 1351.0,864.1 1351.5,863.9 1352.1,864.3 1352.6,864.9 1353.2,865.2 1353.7,864.0 1354.3,865.0 1354.8,862.8 1355.4,865.5 1355.9,862.3 1356.5,867.1 1357.0,862.2 1357.6,862.8 1358.1,860.9 1358.7,862.0 1359.2,862.4 1359.8,862.3 1360.3,860.4 1360.9,859.4 1361.4,861.9 1362.0,861.9 1362.5,862.0 1363.1,863.8 1363.6,859.6 1364.2,856.8 1364.7,860.5 1365.3,857.2 1365.8,857.8 1366.4,863.3 1366.9,862.3 1367.5,859.4 1368.0,859.3 1368.6,860.4 1369.1,856.3 1369.7,862.3 1370.2,860.9 1370.8,866.3 1371.3,859.9 1371.9,864.3 1372.4,861.1 1373.0,865.0 1373.5,860.3 1374.1,864.2 1374.6,861.2 1375.2,860.9 1375.7,857.2 1376.3,862.4 1376.8,862.2 1377.4,864.9 1377.9,863.5 1378.5,855.7 1379.0,861.3 1379.6,862.2 1380.1,861.4 1380.7,864.0 1381.2,859.2 1381.8,859.6 1382.3,862.8 1382.9,860.4 1383.4,872.3 1384.0,863.9 1384.5,871.2 1385.1,867.1 1385.6,862.3 1386.2,863.1 1386.7,861.8 1387.3,864.7 1387.8,865.7 1388.4,865.8 1388.9,863.3 1389.5,861.6 1390.0,861.7 1390.6,860.1 1391.1,863.9 1391.7,867.2 1392.2,859.3 1392.8,859.7 1393.3,868.2 1393.9,861.9 1394.4,866.7 1395.0,862.3 1395.5,867.0 1396.1,867.1 1396.6,866.1 1397.2,868.2 1397.7,866.9 1398.3,868.5 1398.8,872.2 1399.4,870.7 1399.9,867.1 1400.5,866.7 1401.0,867.4 1401.6,866.7 1402.1,867.2 1402.7,865.6 1403.2,869.5 1403.8,868.2 1404.3,863.0 1404.9,868.7 1405.4,870.3 1406.0,866.6 1406.5,873.4 1407.1,871.1 1407.6,870.6 1408.2,871.2 1408.7,871.9 1409.3,871.5 1409.8,870.2 1410.4,868.5 1410.9,863.6 1411.5,868.5 1412.0,867.8 1412.6,867.4 1413.1,872.9 1413.7,863.3 1414.2,868.5 1414.8,871.9 1415.3,870.8 1415.9,871.0 1416.4,865.8 1417.0,867.4 1417.5,870.5 1418.1,868.1 1418.6,872.7 1419.2,869.5 1419.7,869.3 1420.3,869.6 1420.8,867.6 1421.4,868.6 1421.9,866.8 1422.5,867.6 1423.0,867.4 1423.6,869.5 1424.1,865.7 1424.7,866.3 1425.2,870.5 1425.8,870.1 1426.3,867.5 1426.9,868.4 1427.4,866.2 1428.0,873.5 1428.5,864.1 1429.1,871.7 1429.6,866.0 1430.2,869.0 1430.7,867.8 1431.3,868.7 1431.8,872.0 1432.4,872.3 1432.9,869.9 1433.5,868.4 1434.0,875.3 1434.6,873.5 1435.1,870.3 1435.7,868.5 1436.2,870.2 1436.8,870.0 1437.3,872.1 1437.9,867.2 1438.4,869.8 1439.0,867.0 1439.5,873.3 1440.1,874.5 1440.6,869.8 1441.2,871.5 1441.7,872.9 1442.3,868.8 1442.8,867.6 1443.4,870.5 1443.9,868.4 1444.5,866.6 1445.0,870.3 1445.6,867.6 1446.1,862.4 1446.7,867.4 1447.2,867.4 1447.8,872.2 1448.3,867.1 1448.9,866.6 1449.4,868.3 1450.0,867.9 1450.5,863.8 1451.1,866.8 1451.6,864.9 1452.2,868.6 1452.7,871.0 1453.3,862.3 1453.8,862.7 1454.4,862.5 1454.9,862.6 1455.5,863.6 1456.0,865.7 1456.6,867.6 1457.1,861.6 1457.7,860.8 1458.2,860.2 1458.8,867.2 1459.3,867.0 1459.9,860.1 1460.4,859.8 1461.0,864.5 1461.5,866.9 1462.1,867.2 1462.6,865.0 1463.2,859.5 1463.7,864.7 1464.3,862.3 1464.8,867.7 1465.4,862.1 1465.9,858.7 1466.5,859.9 1467.0,857.2 1467.6,861.0 1468.1,862.8 1468.7,856.6 1469.2,862.2 1469.8,863.8 1470.3,858.8 1470.9,855.6 1471.4,854.9 1472.0,856.0 1472.5,853.4 1473.1,854.0 1473.6,856.3 1474.2,856.6 1474.7,857.6 1475.3,854.3 1475.8,861.2 1476.4,860.5 1476.9,858.2 1477.5,854.5 1478.0,859.2 1478.6,855.4 1479.1,860.2 1479.7,859.6 1480.2,854.2 1480.8,857.1 1481.3,862.8 1481.9,862.7 1482.4,859.9 1483.0,860.2 1483.5,859.6 1484.1,857.3 1484.6,858.9 1485.2,858.4 1485.7,858.8 1486.3,861.3 1486.8,859.7 1487.4,864.0 1487.9,864.4 1488.5,865.9 1489.0,866.3 1489.6,866.9 1490.1,865.4 1490.7,866.0 1491.2,864.5 1491.8,865.6 1492.3,862.5 1492.9,864.0 1493.4,867.2 1494.0,865.3 1494.5,866.4 1495.1,863.0 1495.6,869.3 1496.2,865.2 1496.7,868.1 1497.3,866.8 1497.8,869.5 1498.4,867.3 1498.9,866.8 1499.5,863.8 1500.0,867.2 1500.6,865.2 1501.1,869.9 1501.7,872.2 1502.2,863.8 1502.8,864.9 1503.3,869.9 1503.9,871.8 1504.4,869.7 1505.0,869.9 1505.5,870.8 1506.1,871.1 1506.6,874.6 1507.2,872.2 1507.7,868.4 1508.3,870.5 1508.8,872.5 1509.4,869.4 1509.9,869.7 1510.5,868.4 1511.0,868.1 1511.6,871.9 1512.1,869.0 1512.7,866.9 1513.2,868.3 1513.8,871.1 1514.3,875.5 1514.9,870.5 1515.4,872.7 1516.0,870.7 1516.5,864.6 1517.1,870.1 1517.6,867.0 1518.2,865.6 1518.7,867.8 1519.3,874.9 1519.8,867.4 1520.4,869.4 1520.9,873.9 1521.5,873.5 1522.0,869.9 1522.6,872.4 1523.1,870.6 1523.7,871.1 1524.2,873.5 1524.8,870.6 1525.3,869.9 1525.9,873.2 1526.4,865.7 1527.0,869.4 1527.5,871.8 1528.1,867.5 1528.6,868.1 1529.2,867.0 1529.7,870.9 1530.3,868.9 1530.8,872.1 1531.4,872.6 1531.9,871.0 1532.5,870.3 1533.0,872.1 1533.6,871.2 1534.1,868.7 1534.7,874.3 1535.2,871.7 1535.8,872.8 1536.3,867.9 1536.9,873.2 1537.4,876.4 1538.0,872.4 1538.5,867.5 1539.1,871.4 1539.6,871.9 1540.2,872.9 1540.7,872.5 1541.3,874.1 1541.8,872.6 1542.4,874.2 1542.9,871.6 1543.5,873.0 1544.0,875.2 1544.6,871.1 1545.1,873.9 1545.7,869.9 1546.2,870.9 1546.8,871.5 1547.3,875.2 1547.9,870.7 1548.4,873.8 1549.0,872.1 1549.5,871.5 1550.1,874.9 1550.6,874.7 1551.2,870.9 1551.7,869.8 1552.3,876.1 1552.8,871.1 1553.4,874.5 1553.9,871.1 1554.5,872.2 1555.0,876.8 1555.6,875.2 1556.1,873.0 1556.7,867.8 1557.2,872.2 1557.8,871.7 1558.3,870.9 1558.9,874.6 1559.4,866.5 1560.0,871.7 1560.5,871.3 1561.1,869.7 1561.6,875.5 1562.2,868.9 1562.7,872.7 1563.3,874.5 1563.8,869.2 1564.4,871.4 1564.9,872.5 1565.5,877.0 1566.0,877.0 1566.6,875.2 1567.1,873.9 1567.7,869.4 1568.2,874.5 1568.8,872.9 1569.3,877.4 1569.9,877.7 1570.4,879.9 1571.0,876.7 1571.5,876.3 1572.1,872.3 1572.6,874.2 1573.2,870.6 1573.7,875.8 1574.3,872.2 1574.8,873.3 1575.4,870.7 1575.9,871.3 1576.5,874.0 1577.0,871.1 1577.6,873.1 1578.1,868.7 1578.7,874.7 1579.2,870.2 1579.8,873.5 1580.3,874.8 1580.9,864.1 1581.4,868.2 1582.0,870.4 1582.5,873.7 1583.1,871.1 1583.6,873.2 1584.2,870.8 1584.7,874.2 1585.3,868.6 1585.8,873.5 1586.4,864.9 1586.9,866.0 1587.5,874.6 1588.0,871.8 1588.6,868.6 1589.1,875.9 1589.7,873.1 1590.2,872.6 1590.8,869.0 1591.3,872.2 1591.9,870.9 1592.4,866.3 1593.0,871.6 1593.5,869.5 1594.1,872.4 1594.6,873.1 1595.2,867.6 1595.7,868.4 1596.3,869.5 1596.8,870.4 1597.4,868.1 1597.9,869.4 1598.5,870.3 1599.0,869.9 1599.6,870.4 1600.1,868.6 1600.7,865.0 1601.2,862.7 1601.8,869.1 1602.3,867.0 1602.9,867.3 1603.4,867.7 1604.0,864.8 1604.5,868.4 1605.1,863.0 1605.6,867.4 1606.2,864.3 1606.7,870.7 1607.3,867.6 1607.8,866.1 1608.4,866.7 1608.9,868.2 1609.5,872.0 1610.0,866.4 1610.6,864.8 1611.1,871.1 1611.7,864.6 1612.2,860.0 1612.8,865.7 1613.3,870.1 1613.9,861.7 1614.4,872.0 1615.0,863.0 1615.5,864.9 1616.1,860.7 1616.6,861.4 1617.2,857.7 1617.7,858.7 1618.3,857.0 1618.8,865.4 1619.4,861.1 1619.9,865.2 1620.5,864.8 1621.0,870.6 1621.6,865.1 1622.1,864.7 1622.7,862.9 1623.2,862.2 1623.8,861.0 1624.3,858.3 1624.9,856.9 1625.4,857.3 1626.0,859.0 1626.5,861.4 1627.1,862.0 1627.6,860.0 1628.2,861.3 1628.7,859.0 1629.3,861.9 1629.8,859.5 1630.4,860.2 1630.9,858.9 1631.5,858.3 1632.0,862.8 1632.6,855.5 1633.1,857.0 1633.7,855.8 1634.2,860.8 1634.8,863.0 1635.3,859.1 1635.9,854.0 1636.4,861.9 1637.0,863.2 1637.5,857.4 1638.1,859.5 1638.6,859.4 1639.2,853.6 1639.7,860.7 1640.3,860.5 1640.8,860.2 1641.4,856.9 1641.9,858.1 1642.5,859.8 1643.0,864.1 1643.6,860.5 1644.1,866.5 1644.7,864.3 1645.2,858.2 1645.8,868.1 1646.3,863.2 1646.9,860.8 1647.4,862.6 1648.0,858.2 1648.5,862.5 1649.1,856.3 1649.6,859.7 1650.2,866.8 1650.7,866.5 1651.3,863.4 1651.8,861.9 1652.4,867.0 1652.9,865.3 1653.5,866.4 1654.0,867.5 1654.6,862.9 1655.1,867.4 1655.7,861.3 1656.2,870.1 1656.8,863.3 1657.3,865.8 1657.9,865.8 1658.4,870.3 1659.0,869.8 1659.5,868.9 1660.1,869.9 1660.6,870.1 1661.2,869.1 1661.7,864.7 1662.3,863.7 1662.8,864.1 1663.4,868.8 1663.9,868.1 1664.5,868.8 1665.0,869.7 1665.6,868.4 1666.1,867.3 1666.7,866.6 1667.2,866.7 1667.8,874.7 1668.3,874.0 1668.9,869.0 1669.4,871.8 1670.0,874.1 1670.5,877.0 1671.1,871.5 1671.6,873.5 1672.2,876.2 1672.7,868.9 1673.3,872.4 1673.8,873.4 1674.4,872.8 1674.9,880.4 1675.5,877.4 1676.0,876.0 1676.6,874.5 1677.1,878.3 1677.7,878.1 1678.2,874.4 1678.8,874.8 1679.3,871.9 1679.9,874.7 1680.4,875.7 1681.0,876.5 1681.5,874.5 1682.1,875.0 1682.6,871.3 1683.2,872.1 1683.7,876.1 1684.3,874.8 1684.8,871.4 1685.4,874.8 1685.9,876.2 1686.5,876.2 1687.0,875.3 1687.6,874.0 1688.1,877.2 1688.7,880.7 1689.2,878.2 1689.8,876.3 1690.3,878.4 1690.9,874.1 1691.4,876.5 1692.0,875.0 1692.5,877.8 1693.1,876.3 1693.6,877.6 1694.2,880.9 1694.7,874.9 1695.3,874.5 1695.8,877.0 1696.4,876.0 1696.9,875.7 1697.5,875.2 1698.0,877.7 1698.6,877.1 1699.1,872.4 1699.7,877.6 1700.2,878.8 1700.8,881.4 1701.3,876.8 1701.9,876.4 1702.4,880.8 1703.0,875.8 1703.5,876.1 1704.1,877.3 1704.6,877.0 1705.2,875.6 1705.7,873.6 1706.3,878.2 1706.8,875.5 1707.4,876.5 1707.9,882.5 1708.5,879.8 1709.0,874.9 1709.6,875.6 1710.1,877.4 1710.7,876.7 1711.2,874.1 1711.8,880.3 1712.3,881.7 1712.9,880.4 1713.4,878.8 1714.0,879.8 1714.5,880.1 1715.1,876.3 1715.6,877.9 1716.2,876.4 1716.7,880.3 1717.3,880.0 1717.8,876.4 1718.4,878.0 1718.9,883.3 1719.5,877.5 1720.0,880.0 1720.6,877.4 1721.1,881.0 1721.7,877.5 1722.2,876.5 1722.8,874.9 1723.3,876.4 1723.9,879.2 1724.4,878.8 1725.0,874.1 1725.5,881.0 1726.1,876.6 1726.6,875.0 1727.2,878.6 1727.7,876.9 1728.3,876.9 1728.8,877.0 1729.4,879.3 1729.9,878.8 1730.5,875.3 1731.0,880.1 1731.6,877.3 1732.1,881.4 1732.7,879.2 1733.2,878.6 1733.8,876.6 1734.3,879.4 1734.9,876.2 1735.4,875.3 1736.0,878.3 1736.5,871.3 1737.1,876.5 1737.6,877.7 1738.2,876.0 1738.7,879.3 1739.3,877.1 1739.8,876.4 1740.4,875.6 1740.9,879.3 1741.5,876.7 1742.0,878.0 1742.6,880.9 1743.1,881.8 1743.7,885.5 1744.2,879.9 1744.8,876.3 1745.3,881.4 1745.9,881.9 1746.4,879.3 1747.0,883.3 1747.5,882.7 1748.1,877.4 1748.6,877.1 1749.2,875.9 1749.7,880.7 1750.3,880.2 1750.8,879.9 1751.4,876.1 1751.9,876.9 1752.5,876.4 1753.0,875.4 1753.6,876.4 1754.1,876.0 1754.7,879.1 1755.2,880.8 1755.8,881.8 1756.3,879.4 1756.9,878.8 1757.4,879.9 1758.0,882.1 1758.5,879.4 1759.1,879.9 1759.6,878.6 1760.2,879.0 1760.7,879.3 1761.3,869.6 1761.8,880.6 1762.4,874.4 1762.9,879.5 1763.5,875.2 1764.0,880.7 1764.6,879.6 1765.1,875.0 1765.7,877.4 1766.2,875.9 1766.8,879.3 1767.3,880.8 1767.9,886.9 1768.4,877.2 1769.0,883.7 1769.5,878.7 1770.1,880.0 1770.6,880.9 1771.2,879.4 1771.7,878.8 1772.3,876.3 1772.8,877.0 1773.4,877.6 1773.9,881.0 1774.5,874.4 1775.0,877.0 1775.6,875.4 1776.1,877.8 1776.7,877.8 1777.2,882.2 1777.8,884.9 1778.3,875.8 1778.9,877.0 1779.4,880.0 1780.0,876.5 1780.5,881.4 1781.1,883.0 1781.6,881.8 1782.2,883.0 1782.7,879.6 1783.3,875.4 1783.8,876.0 1784.4,879.7 1784.9,881.1 1785.5,882.2 1786.0,877.4 1786.6,878.8 1787.1,879.0 1787.7,880.6 1788.2,878.2 1788.8,876.4 1789.3,881.8 1789.9,880.3 1790.4,880.1 1791.0,876.1 1791.5,879.8 1792.1,874.5 1792.6,873.0 1793.2,876.7 1793.7,877.2 1794.3,879.4 1794.8,881.6 1795.4,876.8 1795.9,882.3 1796.5,877.6 1797.0,881.0 1797.6,875.7 1798.1,879.5 1798.7,878.7 1799.2,879.2 1799.8,880.1 1800.3,873.5 1800.9,878.1 1801.4,875.6 1802.0,878.3 1802.5,878.0 1803.1,876.7 1803.6,877.3 1804.2,876.5 1804.7,880.4 1805.3,881.4 1805.8,879.0 1806.4,876.0 1806.9,882.2 1807.5,876.2 1808.0,880.6 1808.6,876.9 1809.1,879.8 1809.7,877.9 1810.2,879.1 1810.8,878.0 1811.3,881.8 1811.9,880.6 1812.4,872.8 1813.0,883.5 1813.5,878.5 1814.1,882.9 1814.6,879.6 1815.2,875.6 1815.7,880.9 1816.3,879.3 1816.8,883.4 1817.4,878.2 1817.9,880.5 1818.5,881.1 1819.0,875.9 1819.6,880.5 1820.1,877.0 1820.7,882.3 1821.2,881.5 1821.8,877.4 1822.3,873.6 1822.9,877.6 1823.4,877.8 1824.0,879.3 1824.5,877.1 1825.1,876.0 1825.6,878.2 1826.2,876.4 1826.7,882.8 1827.3,876.5 1827.8,876.6 1828.4,877.3 1828.9,875.2 1829.5,877.6 1830.0,878.7 1830.6,877.7 1831.1,878.7 1831.7,882.0 1832.2,880.8 1832.8,876.2 1833.3,877.5 1833.9,878.8 1834.4,875.3 1835.0,877.0 1835.5,876.7 1836.1,878.4 1836.6,876.4 1837.2,876.2 1837.7,875.8 1838.3,878.7 1838.8,868.6 1839.4,882.5 1839.9,877.8 1840.5,877.6 1841.0,887.3 1841.6,879.3 1842.1,879.7 1842.7,879.3 1843.2,878.1 1843.8,877.5 1844.3,877.9 1844.9,881.7 1845.4,877.2 1846.0,877.8 1846.5,877.9 1847.1,880.3 1847.6,883.2 1848.2,877.0 1848.7,881.0 1849.3,880.0 1849.8,879.9 1850.4,881.0 1850.9,877.0 1851.5,882.5 1852.0,881.3 1852.6,877.8 1853.1,883.8 1853.7,881.8 1854.2,882.7 1854.8,876.7 1855.3,878.9 1855.9,877.5 1856.4,880.7 1857.0,881.8 1857.5,874.1 1858.1,879.0 1858.6,878.3 1859.2,881.6 1859.7,885.0 1860.3,876.9 1860.8,880.1 1861.4,877.6 1861.9,878.6 1862.5,880.7 1863.0,879.2 1863.6,881.5 1864.1,877.6 1864.7,886.6 1865.2,883.8 1865.8,882.4 1866.3,877.3 1866.9,875.1 1867.4,877.8 1868.0,878.5 1868.5,884.6 1869.1,883.2 1869.6,878.7 1870.2,883.2 1870.7,883.7 1871.3,881.2 1871.8,884.5 1872.4,881.7 1872.9,879.3 1873.5,877.1 1874.0,878.7 1874.6,881.4 1875.1,875.2 1875.7,875.1 1876.2,881.0 1876.8,872.7 1877.3,884.5 1877.9,881.0 1878.4,883.0 1879.0,886.0 1879.5,877.3 1880.1,877.4 1880.6,885.5 1881.2,879.5 1881.7,878.9 1882.3,879.7 1882.8,881.7 1883.4,882.2 1883.9,879.6 1884.5,878.9 1885.0,879.2 1885.6,879.8 1886.1,882.2 1886.7,878.8 1887.2,883.6 1887.8,876.3 1888.3,879.7 1888.9,883.2 1889.4,881.8 1890.0,880.3 1890.5,878.2 1891.1,877.6 1891.6,879.9 1892.2,881.0 1892.7,879.0 1893.3,876.7 1893.8,878.2 1894.4,880.5 1894.9,880.9 1895.5,882.6 1896.0,877.6 1896.6,874.1 1897.1,876.3 1897.7,884.6 1898.2,876.6 1898.8,877.1 1899.3,875.1 1899.9,874.2 1900.4,873.0 1901.0,872.2 1901.5,877.4 1902.1,881.9 1902.6,873.9 1903.2,879.7 1903.7,881.1 1904.3,873.5 1904.8,880.4 1905.4,874.9 1905.9,879.8 1906.5,882.2 1907.0,878.2 1907.6,880.0 1908.1,877.8 1908.7,880.6 1909.2,878.7 1909.8,880.5 1910.3,880.4 1910.9,882.1 1911.4,882.0 1912.0,876.6 1912.5,879.5 1913.1,876.8 1913.6,879.7 1914.2,881.3 1914.7,880.4 1915.3,883.4 1915.8,877.6 1916.4,879.1 1916.9,878.8 1917.5,880.4 1918.0,879.7 1918.6,878.9 1919.1,876.5 1919.7,879.8 1920.2,879.5 1920.8,881.9 1921.3,880.4 1921.9,884.6 1922.4,882.1 1923.0,877.5 1923.5,881.0 1924.1,877.9 1924.6,882.4 1925.2,883.9 1925.7,886.4 1926.3,881.1 1926.8,876.0 1927.4,873.6 1927.9,877.7 1928.5,878.9 1929.0,876.3 1929.6,879.9 1930.1,879.7 1930.7,880.4 1931.2,882.9 1931.8,881.0 1932.3,878.6 1932.9,879.8 1933.4,882.0 1934.0,879.3 1934.5,885.3 1935.1,884.0 1935.6,881.3 1936.2,879.7 1936.7,889.2 1937.3,881.9 1937.8,881.9 1938.4,884.2 1938.9,882.3 1939.5,880.7 1940.0,882.3 1940.6,878.8 1941.1,882.0 1941.7,876.1 1942.2,879.8 1942.8,881.0 1943.3,874.9 1943.9,883.3 1944.4,876.0 1945.0,881.3 1945.5,877.8 1946.1,880.4 1946.6,877.9 1947.2,886.2 1947.7,882.4 1948.3,883.8 1948.8,880.9 1949.4,881.7 1949.9,880.0 1950.5,878.0 1951.0,880.3 1951.6,878.6 1952.1,878.8 1952.7,877.1 1953.2,878.9 1953.8,881.9 1954.3,879.5 1954.9,880.4 1955.4,879.8 1956.0,877.4 1956.5,877.2 1957.1,877.7 1957.6,878.0 1958.2,877.8 1958.7,881.8 1959.3,876.6 1959.8,874.7 1960.4,882.0 1960.9,879.2 1961.5,880.6 1962.0,887.4 1962.6,885.1 1963.1,883.3 1963.7,883.9 1964.2,881.4 1964.8,882.9 1965.3,879.2 1965.9,879.5 1966.4,880.4 1967.0,884.3 1967.5,884.1 1968.1,879.6 1968.6,884.1 1969.2,880.5 1969.7,879.5 1970.3,881.1 1970.8,885.0 1971.4,882.2 1971.9,880.6 1972.5,881.2 1973.0,881.5 1973.6,878.6 1974.1,875.7 1974.7,882.9 1975.2,878.5 1975.8,875.4 1976.3,874.0 1976.9,873.4 1977.4,879.1 1978.0,883.4 1978.5,876.2 1979.1,879.3 1979.6,875.7 1980.2,883.1 1980.7,881.4 1981.3,881.7 1981.8,884.2 1982.4,885.0 1982.9,882.9 1983.5,879.0 1984.0,877.5 1984.6,878.3 1985.1,876.2 1985.7,884.7 1986.2,879.7 1986.8,881.0 1987.3,880.8 1987.9,885.0 1988.4,878.5 1989.0,889.9 1989.5,880.3 1990.1,879.4 1990.6,875.4 1991.2,882.4 1991.7,878.6 1992.3,879.9 1992.8,882.0 1993.4,881.9 1993.9,884.2 1994.5,879.5 1995.0,880.9 1995.6,880.9 1996.1,879.1 1996.7,880.7 1997.2,877.2 1997.8,880.6 1998.3,876.2 1998.9,875.5 1999.4,878.2 2000.0,881.4 2000.5,878.4 2001.1,879.4 2001.6,880.5 2002.2,880.5 2002.7,879.1 2003.3,881.2 2003.8,876.7 2004.4,883.4 2004.9,881.3 2005.5,877.9 2006.0,884.7 2006.6,882.1 2007.1,885.4 2007.7,878.9 2008.2,885.2 2008.8,881.6 2009.3,876.8 2009.9,883.5 2010.4,881.6 2011.0,878.9 2011.5,881.2 2012.1,876.9 2012.6,882.2 2013.2,879.9 2013.7,879.2 2014.3,883.2 2014.8,879.2 2015.4,877.5 2015.9,877.4 2016.5,880.1 2017.0,882.8 2017.6,878.8 2018.1,877.4 2018.7,882.6 2019.2,880.2 2019.8,880.8 2020.3,886.3 2020.9,879.2 2021.4,882.4 2022.0,877.8 2022.5,881.1 2023.1,883.0 2023.6,884.0 2024.2,877.4 2024.7,881.5 2025.3,881.8 2025.8,880.8 2026.4,886.6 2026.9,881.4 2027.5,878.1 2028.0,881.0 2028.6,875.5 2029.1,883.8 2029.7,881.9 2030.2,879.6 2030.8,882.1 2031.3,886.6 2031.9,885.0 2032.4,878.9 2033.0,877.0 2033.5,875.0 2034.1,878.3 2034.6,875.5 2035.2,879.4 2035.7,881.3 2036.3,879.4 2036.8,878.3 2037.4,883.4 2037.9,880.5 2038.5,880.3 2039.0,881.4 2039.6,875.4 2040.1,876.5 2040.7,885.0 2041.2,878.3 2041.8,876.3 2042.3,878.6 2042.9,877.7 2043.4,877.8 2044.0,880.1 2044.5,881.0 2045.1,881.2 2045.6,882.7 2046.2,877.5 2046.7,878.5 2047.3,882.7 2047.8,879.4 2048.4,882.9 2048.9,880.3 2049.5,876.8 2050.0,881.9 2050.6,877.7 2051.1,880.4 2051.7,882.4 2052.2,884.3 2052.8,879.5 2053.3,879.9 2053.9,878.3 2054.4,872.3 2055.0,872.7 2055.5,877.3 2056.1,879.3 2056.6,879.5 2057.2,876.8 2057.7,880.8 2058.3,881.1 2058.8,878.8 2059.4,879.3 2059.9,878.8 2060.5,880.1 2061.0,883.8 2061.6,885.5 2062.1,881.4 2062.7,879.9 2063.2,880.4 2063.8,885.3 2064.3,883.6 2064.9,883.8 2065.4,883.3 2066.0,883.4 2066.5,882.0 2067.1,879.4 2067.6,879.6 2068.2,881.6 2068.7,881.9 2069.3,879.8 2069.8,879.1 2070.4,883.7 2070.9,879.2 2071.5,881.9 2072.0,880.0 2072.6,879.3 2073.1,877.9 2073.7,880.8 2074.2,880.6 2074.8,884.9 2075.3,878.7 2075.9,881.0 2076.4,882.4 2077.0,881.1 2077.5,882.6 2078.1,883.1 2078.6,877.7 2079.2,880.8 2079.7,880.1 2080.3,884.8 2080.8,881.1 2081.4,881.7 2081.9,883.2 2082.5,878.1 2083.0,879.6 2083.6,880.3 2084.1,878.8 2084.7,881.8 2085.2,881.2 2085.8,882.1 2086.3,879.5 2086.9,878.3 2087.4,877.7 2088.0,872.5 2088.5,876.0 2089.1,880.6 2089.6,885.5 2090.2,879.8 2090.7,879.1 2091.3,880.6 2091.8,881.6 2092.4,881.1 2092.9,884.7 2093.5,878.0 2094.0,879.9 2094.6,879.9 2095.1,878.5 2095.7,878.2 2096.2,876.4 2096.8,877.4 2097.3,881.9 2097.9,884.2 2098.4,880.1 2099.0,882.8 2099.5,881.7 2100.1,883.1 2100.6,881.5 2101.2,881.0 2101.7,881.7 2102.3,876.1 2102.8,879.3 2103.4,876.6 2103.9,876.3 2104.5,879.6 2105.0,877.8 2105.6,883.7 2106.1,886.2 2106.7,883.3 2107.2,882.4 2107.8,881.8 2108.3,881.1 2108.9,882.6" stroke="#ff8204" stroke-width="5.5"/>
<polyline points="158.0,1229.7 158.6,1221.0 159.1,1226.9 159.7,1226.8 160.2,1231.9 160.8,1228.4 161.3,1225.3 161.9,1227.1 162.4,1222.8 163.0,1227.2 163.5,1226.6 164.1,1229.6 164.6,1230.2 165.2,1220.8 165.7,1229.2 166.3,1231.4 166.8,1224.8 167.4,1234.5 167.9,1225.1 168.5,1235.4 169.0,1230.0 169.6,1230.0 170.1,1226.5 170.7,1229.6 171.2,1223.1 171.8,1224.4 172.3,1221.5 172.9,1229.8 173.4,1225.5 174.0,1230.7 174.5,1230.8 175.1,1224.7 175.6,1231.7 176.2,1229.9 176.7,1229.9 177.3,1231.5 177.8,1229.0 178.4,1228.0 178.9,1231.2 179.5,1224.4 180.0,1224.5 180.6,1227.1 181.1,1233.0 181.7,1230.0 182.2,1238.0 182.8,1222.9 183.3,1230.4 183.9,1230.7 184.4,1232.2 185.0,1235.7 185.5,1230.1 186.1,1227.5 186.6,1232.4 187.2,1235.5 187.7,1223.0 188.3,1232.3 188.8,1231.6 189.4,1228.9 189.9,1229.8 190.5,1233.4 191.0,1233.2 191.6,1232.3 192.1,1230.0 192.7,1234.0 193.2,1230.6 193.8,1233.0 194.3,1231.1 194.9,1233.1 195.4,1234.8 196.0,1234.0 196.5,1236.1 197.1,1230.1 197.6,1236.2 198.2,1235.1 198.7,1232.2 199.3,1233.4 199.8,1225.4 200.4,1234.8 200.9,1233.1 201.5,1227.9 202.0,1236.8 202.6,1233.6 203.1,1237.2 203.7,1235.7 204.2,1237.9 204.8,1236.8 205.3,1235.1 205.9,1237.6 206.4,1238.5 207.0,1228.3 207.5,1235.2 208.1,1233.3 208.6,1232.3 209.2,1239.5 209.7,1239.1 210.3,1232.8 210.8,1233.0 211.4,1239.0 211.9,1235.4 212.5,1235.9 213.0,1231.9 213.6,1237.6 214.1,1241.6 214.7,1236.7 215.2,1238.4 215.8,1243.3 216.3,1240.6 216.9,1241.8 217.4,1239.6 218.0,1241.3 218.5,1232.0 219.1,1234.7 219.6,1232.6 220.2,1245.4 220.7,1239.4 221.3,1238.5 221.8,1237.0 222.4,1236.1 222.9,1230.2 223.5,1246.4 224.0,1238.7 224.6,1239.4 225.1,1234.4 225.7,1238.4 226.2,1240.7 226.8,1239.9 227.3,1242.2 227.9,1238.1 228.4,1249.9 229.0,1243.8 229.5,1242.9 230.1,1241.8 230.6,1239.4 231.2,1236.7 231.7,1241.2 232.3,1237.6 232.8,1236.5 233.4,1241.9 233.9,1234.0 234.5,1237.9 235.0,1242.7 235.6,1243.9 236.1,1240.2 236.7,1241.0 237.2,1243.5 237.8,1241.9 238.3,1239.3 238.9,1242.6 239.4,1241.4 240.0,1240.3 240.5,1244.0 241.1,1240.3 241.6,1238.3 242.2,1239.8 242.7,1246.1 243.3,1238.4 243.8,1240.7 244.4,1238.4 244.9,1243.7 245.5,1238.1 246.0,1243.8 246.6,1245.0 247.1,1238.2 247.7,1237.6 248.2,1235.5 248.8,1239.5 249.3,1235.2 249.9,1237.6 250.4,1238.3 251.0,1238.5 251.5,1243.9 252.1,1246.3 252.6,1234.9 253.2,1239.7 253.7,1243.1 254.3,1239.1 254.8,1240.8 255.4,1242.7 255.9,1246.8 256.5,1246.5 257.0,1242.3 257.6,1244.0 258.1,1241.3 258.7,1241.9 259.2,1239.6 259.8,1237.5 260.3,1241.3 260.9,1246.0 261.4,1245.0 262.0,1237.4 262.5,1243.0 263.1,1242.2 263.6,1245.4 264.2,1241.4 264.7,1248.0 265.3,1244.0 265.8,1247.3 266.4,1248.2 266.9,1239.2 267.5,1245.6 268.0,1251.2 268.6,1246.0 269.1,1249.4 269.7,1247.0 270.2,1244.3 270.8,1247.0 271.3,1249.1 271.9,1250.0 272.4,1251.3 273.0,1243.6 273.5,1249.9 274.1,1243.5 274.6,1247.0 275.2,1247.0 275.7,1249.9 276.3,1248.3 276.8,1250.8 277.4,1244.2 277.9,1248.3 278.5,1247.3 279.0,1246.4 279.6,1242.9 280.1,1249.0 280.7,1248.5 281.2,1250.1 281.8,1247.4 282.3,1246.2 282.9,1247.7 283.4,1247.7 284.0,1247.9 284.5,1252.2 285.1,1245.1 285.6,1253.1 286.2,1237.2 286.7,1250.6 287.3,1244.9 287.8,1254.3 288.4,1244.5 288.9,1250.2 289.5,1244.4 290.0,1244.6 290.6,1250.6 291.1,1250.5 291.7,1245.5 292.2,1256.2 292.8,1247.1 293.3,1252.7 293.9,1244.1 294.4,1244.5 295.0,1248.3 295.5,1244.4 296.1,1248.9 296.6,1240.9 297.2,1248.6 297.7,1246.2 298.3,1244.3 298.8,1247.3 299.4,1245.7 299.9,1244.3 300.5,1248.4 301.0,1246.9 301.6,1247.2 302.1,1249.9 302.7,1245.3 303.2,1248.9 303.8,1245.5 304.3,1249.0 304.9,1248.3 305.4,1244.2 306.0,1240.8 306.5,1242.0 307.1,1242.0 307.6,1245.8 308.2,1242.8 308.7,1242.8 309.3,1245.4 309.8,1246.5 310.4,1248.1 310.9,1242.0 311.5,1246.1 312.0,1246.2 312.6,1240.9 313.1,1244.1 313.7,1241.1 314.2,1242.5 314.8,1244.7 315.3,1237.5 315.9,1240.1 316.4,1239.7 317.0,1242.9 317.5,1240.3 318.1,1244.9 318.6,1240.7 319.2,1242.6 319.7,1246.5 320.3,1245.5 320.8,1244.9 321.4,1244.0 321.9,1247.5 322.5,1248.5 323.0,1243.5 323.6,1242.8 324.1,1243.0 324.7,1252.6 325.2,1244.3 325.8,1243.1 326.3,1249.6 326.9,1251.9 327.4,1245.0 328.0,1248.3 328.5,1244.4 329.1,1247.9 329.6,1255.6 330.2,1251.3 330.7,1251.1 331.3,1253.0 331.8,1253.7 332.4,1252.0 332.9,1248.3 333.5,1248.8 334.0,1258.8 334.6,1249.3 335.1,1254.8 335.7,1249.5 336.2,1256.2 336.8,1254.8 337.3,1251.2 337.9,1258.0 338.4,1248.5 339.0,1251.7 339.5,1249.7 340.1,1249.8 340.6,1249.7 341.2,1248.6 341.7,1250.8 342.3,1256.7 342.8,1244.8 343.4,1246.0 343.9,1247.1 344.5,1249.4 345.0,1249.6 345.6,1252.6 346.1,1252.1 346.7,1252.0 347.2,1258.8 347.8,1247.5 348.3,1247.6 348.9,1250.2 349.4,1251.5 350.0,1250.3 350.5,1247.8 351.1,1246.3 351.6,1250.1 352.2,1248.7 352.7,1249.4 353.3,1246.6 353.8,1254.2 354.4,1252.3 354.9,1257.0 355.5,1248.9 356.0,1250.7 356.6,1250.4 357.1,1251.4 357.7,1250.6 358.2,1249.4 358.8,1243.6 359.3,1249.3 359.9,1251.9 360.4,1243.1 361.0,1247.8 361.5,1250.6 362.1,1253.5 362.6,1248.9 363.2,1250.9 363.7,1254.3 364.3,1252.8 364.8,1247.3 365.4,1247.0 365.9,1251.9 366.5,1248.8 367.0,1245.7 367.6,1247.5 368.1,1250.0 368.7,1248.7 369.2,1247.8 369.8,1247.7 370.3,1243.6 370.9,1253.9 371.4,1252.2 372.0,1252.4 372.5,1246.8 373.1,1248.2 373.6,1249.8 374.2,1250.9 374.7,1241.8 375.3,1248.0 375.8,1242.9 376.4,1245.2 376.9,1242.9 377.5,1250.7 378.0,1246.6 378.6,1244.6 379.1,1249.3 379.7,1245.7 380.2,1244.0 380.8,1245.8 381.3,1244.6 381.9,1245.5 382.4,1248.0 383.0,1244.7 383.5,1245.2 384.1,1248.8 384.6,1245.9 385.2,1248.1 385.7,1245.9 386.3,1241.4 386.8,1241.9 387.4,1239.2 387.9,1248.0 388.5,1246.3 389.0,1243.8 389.6,1241.8 390.1,1246.4 390.7,1244.5 391.2,1245.5 391.8,1241.4 392.3,1240.1 392.9,1248.0 393.4,1240.3 394.0,1243.3 394.5,1248.1 395.1,1238.2 395.6,1245.6 396.2,1244.0 396.7,1243.0 397.3,1244.2 397.8,1239.3 398.4,1235.5 398.9,1249.2 399.5,1243.0 400.0,1245.9 400.6,1246.5 401.1,1243.1 401.7,1242.9 402.2,1243.9 402.8,1245.7 403.3,1241.7 403.9,1244.2 404.4,1239.2 405.0,1239.3 405.5,1241.0 406.1,1241.4 406.6,1242.3 407.2,1246.5 407.7,1242.9 408.3,1240.6 408.8,1246.3 409.4,1240.5 409.9,1240.2 410.5,1239.7 411.0,1236.7 411.6,1234.2 412.1,1237.4 412.7,1235.4 413.2,1233.9 413.8,1237.3 414.3,1229.7 414.9,1235.1 415.4,1231.2 416.0,1236.2 416.5,1242.9 417.1,1239.5 417.6,1239.8 418.2,1236.7 418.7,1239.7 419.3,1234.2 419.8,1234.8 420.4,1237.1 420.9,1231.4 421.5,1236.2 422.0,1237.0 422.6,1241.0 423.1,1233.0 423.7,1236.2 424.2,1233.3 424.8,1233.1 425.3,1225.8 425.9,1231.5 426.4,1237.8 427.0,1235.6 427.5,1234.7 428.1,1241.5 428.6,1235.9 429.2,1230.1 429.7,1233.2 430.3,1233.2 430.8,1237.9 431.4,1229.6 431.9,1234.3 432.5,1236.2 433.0,1230.3 433.6,1232.6 434.1,1226.2 434.7,1232.4 435.2,1225.2 435.8,1230.1 436.3,1236.6 436.9,1232.7 437.4,1231.3 438.0,1231.4 438.5,1232.2 439.1,1233.1 439.6,1234.5 440.2,1230.2 440.7,1230.2 441.3,1228.0 441.8,1230.9 442.4,1229.8 442.9,1235.0 443.5,1234.3 444.0,1231.3 444.6,1230.5 445.1,1224.4 445.7,1232.0 446.2,1235.1 446.8,1236.2 447.3,1235.7 447.9,1235.7 448.4,1235.7 449.0,1235.7 449.5,1235.7 450.1,1235.7 450.6,1235.7 451.2,1235.7 451.7,1235.7 452.3,1235.7 452.8,1235.7 453.4,1235.7 453.9,1235.7 454.5,1235.7 455.0,1234.0 455.6,1235.4 456.1,1229.8 456.7,1220.2 457.2,1218.4 457.8,1210.7 458.3,1215.3 458.9,1212.6 459.4,1210.5 460.0,1211.8 460.5,1216.5 461.1,1212.3 461.6,1212.6 462.2,1211.9 462.7,1211.0 463.3,1215.0 463.8,1217.4 464.4,1215.7 464.9,1213.1 465.5,1213.0 466.0,1210.0 466.6,1209.3 467.1,1207.6 467.7,1214.3 468.2,1209.7 468.8,1209.0 469.3,1215.9 469.9,1210.9 470.4,1208.8 471.0,1210.2 471.5,1210.3 472.1,1213.2 472.6,1205.9 473.2,1210.0 473.7,1207.3 474.3,1207.6 474.8,1212.2 475.4,1209.8 475.9,1206.4 476.5,1208.6 477.0,1206.0 477.6,1208.6 478.1,1204.6 478.7,1206.4 479.2,1204.0 479.8,1204.0 480.3,1203.0 480.9,1202.1 481.4,1204.2 482.0,1205.8 482.5,1201.5 483.1,1201.7 483.6,1203.9 484.2,1200.7 484.7,1204.6 485.3,1204.0 485.8,1196.1 486.4,1200.5 486.9,1198.9 487.5,1203.1 488.0,1203.3 488.6,1197.5 489.1,1197.0 489.7,1198.7 490.2,1196.8 490.8,1199.4 491.3,1200.2 491.9,1198.5 492.4,1199.4 493.0,1199.9 493.5,1196.5 494.1,1195.4 494.6,1194.5 495.2,1197.5 495.7,1196.3 496.3,1195.9 496.8,1191.9 497.4,1191.3 497.9,1193.0 498.5,1195.7 499.0,1193.4 499.6,1193.9 500.1,1191.1 500.7,1194.3 501.2,1194.0 501.8,1190.3 502.3,1196.9 502.9,1189.5 503.4,1193.9 504.0,1190.1 504.5,1190.2 505.1,1187.9 505.6,1187.4 506.2,1189.0 506.7,1186.6 507.3,1185.4 507.8,1188.8 508.4,1188.1 508.9,1186.5 509.5,1187.3 510.0,1191.6 510.6,1185.9 511.1,1187.5 511.7,1187.4 512.2,1182.4 512.8,1181.1 513.3,1185.6 513.9,1187.0 514.4,1185.8 515.0,1182.8 515.5,1182.4 516.1,1185.9 516.6,1182.9 517.2,1179.4 517.7,1185.3 518.3,1183.8 518.8,1184.1 519.4,1185.1 519.9,1185.7 520.5,1183.2 521.0,1181.0 521.6,1175.8 522.1,1181.9 522.7,1180.8 523.2,1184.4 523.8,1183.8 524.3,1180.7 524.9,1181.9 525.4,1178.0 526.0,1178.0 526.5,1176.4 527.1,1177.0 527.6,1178.7 528.2,1181.6 528.7,1177.0 529.3,1180.5 529.8,1184.2 530.4,1168.4 530.9,1177.2 531.5,1176.8 532.0,1178.3 532.6,1181.1 533.1,1178.6 533.7,1174.5 534.2,1172.1 534.8,1172.9 535.3,1173.4 535.9,1173.9 536.4,1170.2 537.0,1175.9 537.5,1169.8 538.1,1172.6 538.6,1171.7 539.2,1167.3 539.7,1170.2 540.3,1169.4 540.8,1168.2 541.4,1169.9 541.9,1166.6 542.5,1173.0 543.0,1169.3 543.6,1163.1 544.1,1159.1 544.7,1168.4 545.2,1165.8 545.8,1164.0 546.3,1160.1 546.9,1157.5 547.4,1154.8 548.0,1164.8 548.5,1161.0 549.1,1154.3 549.6,1159.9 550.2,1149.7 550.7,1156.8 551.3,1157.7 551.8,1154.7 552.4,1157.4 552.9,1156.7 553.5,1161.8 554.0,1168.0 554.6,1169.0 555.1,1170.0 555.7,1173.2 556.2,1167.0 556.8,1178.6 557.3,1173.3 557.9,1170.2 558.4,1172.7 559.0,1171.8 559.5,1173.5 560.1,1174.5 560.6,1167.7 561.2,1178.1 561.7,1178.9 562.3,1171.5 562.8,1177.9 563.4,1177.4 563.9,1176.3 564.5,1178.1 565.0,1169.1 565.6,1175.6 566.1,1171.6 566.7,1180.7 567.2,1172.2 567.8,1172.0 568.3,1178.3 568.9,1178.1 569.4,1175.3 570.0,1175.5 570.5,1176.0 571.1,1179.2 571.6,1172.6 572.2,1172.8 572.7,1172.7 573.3,1175.0 573.8,1175.8 574.4,1173.3 574.9,1177.2 575.5,1174.1 576.0,1183.8 576.6,1176.6 577.1,1176.3 577.7,1180.2 578.2,1181.3 578.8,1180.5 579.3,1181.8 579.9,1177.6 580.4,1182.7 581.0,1179.1 581.5,1180.2 582.1,1180.1 582.6,1176.1 583.2,1178.0 583.7,1179.4 584.3,1180.0 584.8,1178.9 585.4,1176.2 585.9,1175.4 586.5,1178.1 587.0,1175.3 587.6,1174.5 588.1,1178.8 588.7,1179.7 589.2,1177.6 589.8,1175.6 590.3,1181.6 590.9,1182.9 591.4,1181.7 592.0,1180.8 592.5,1176.1 593.1,1185.2 593.6,1179.7 594.2,1184.4 594.7,1181.4 595.3,1181.5 595.8,1181.8 596.4,1177.9 596.9,1189.9 597.5,1177.8 598.0,1181.1 598.6,1176.8 599.1,1177.6 599.7,1180.0 600.2,1170.3 600.8,1172.6 601.3,1173.7 601.9,1171.3 602.4,1172.3 603.0,1169.8 603.5,1169.6 604.1,1174.0 604.6,1181.7 605.2,1188.9 605.7,1191.9 606.3,1198.2 606.8,1196.3 607.4,1198.6 607.9,1200.1 608.5,1197.3 609.0,1204.7 609.6,1202.1 610.1,1205.0 610.7,1212.4 611.2,1205.1 611.8,1209.7 612.3,1211.7 612.9,1212.3 613.4,1219.3 614.0,1213.8 614.5,1219.6 615.1,1212.4 615.6,1214.5 616.2,1220.8 616.7,1219.7 617.3,1217.1 617.8,1218.2 618.4,1221.4 618.9,1228.4 619.5,1225.2 620.0,1222.7 620.6,1226.7 621.1,1226.0 621.7,1231.5 622.2,1229.9 622.8,1232.6 623.3,1232.0 623.9,1237.2 624.4,1234.8 625.0,1236.3 625.5,1234.8 626.1,1236.9 626.6,1239.5 627.2,1239.2 627.7,1244.9 628.3,1242.0 628.8,1241.5 629.4,1244.9 629.9,1243.2 630.5,1245.3 631.0,1245.1 631.6,1244.8 632.1,1248.8 632.7,1247.7 633.2,1250.1 633.8,1249.1 634.3,1249.1 634.9,1251.2 635.4,1253.3 636.0,1255.4 636.5,1257.0 637.1,1258.6 637.6,1257.3 638.2,1259.7 638.7,1258.0 639.3,1259.9 639.8,1264.3 640.4,1263.4 640.9,1262.7 641.5,1266.5 642.0,1267.7 642.6,1268.0 643.1,1269.2 643.7,1268.6 644.2,1269.5 644.8,1269.6 645.3,1272.3 645.9,1270.5 646.4,1272.5 647.0,1275.0 647.5,1274.4 648.1,1276.5 648.6,1279.4 649.2,1278.3 649.7,1282.3 650.3,1280.2 650.8,1281.4 651.4,1283.5 651.9,1285.2 652.5,1283.5 653.0,1283.0 653.6,1284.4 654.1,1285.4 654.7,1287.0 655.2,1287.4 655.8,1289.4 656.3,1290.8 656.9,1290.5 657.4,1292.8 658.0,1291.4 658.5,1292.1 659.1,1297.0 659.6,1296.7 660.2,1296.7 660.7,1298.5 661.3,1298.8 661.8,1298.3 662.4,1301.3 662.9,1301.6 663.5,1304.0 664.0,1306.3 664.6,1305.8 665.1,1306.5 665.7,1306.8 666.2,1308.7 666.8,1309.6 667.3,1309.8 667.9,1310.9 668.4,1313.8 669.0,1312.1 669.5,1315.2 670.1,1312.6 670.6,1315.5 671.2,1317.2 671.7,1317.9 672.3,1319.1 672.8,1318.0 673.4,1320.9 673.9,1320.1 674.5,1323.2 675.0,1323.1 675.6,1322.8 676.1,1325.0 676.7,1323.9 677.2,1326.1 677.8,1325.0 678.3,1325.4 678.9,1327.9 679.4,1327.7 680.0,1328.0 680.5,1327.8 681.1,1328.0 681.6,1328.3 682.2,1328.0 682.7,1326.7 683.3,1324.6 683.8,1328.0 684.4,1327.9 684.9,1329.7 685.5,1329.3 686.0,1330.4 686.6,1330.7 687.1,1328.9 687.7,1329.0 688.2,1332.4 688.8,1332.1 689.3,1333.1 689.9,1337.0 690.4,1338.5 691.0,1341.3 691.5,1338.9 692.1,1342.0 692.6,1344.7 693.2,1343.1 693.7,1346.0 694.3,1346.9 694.8,1344.2 695.4,1350.2 695.9,1347.7 696.5,1349.3 697.0,1352.9 697.6,1348.6 698.1,1351.9 698.7,1351.1 699.2,1352.8 699.8,1352.1 700.3,1354.3 700.9,1351.6 701.4,1354.3 702.0,1354.8 702.5,1354.3 703.1,1354.1 703.6,1354.4 704.2,1357.7 704.7,1357.2 705.3,1357.3 705.8,1357.1 706.4,1359.5 706.9,1361.2 707.5,1361.5 708.0,1364.2 708.6,1360.7 709.1,1367.0 709.7,1364.5 710.2,1364.6 710.8,1364.1 711.3,1368.9 711.9,1369.7 712.4,1368.6 713.0,1368.8 713.5,1369.0 714.1,1368.8 714.6,1371.9 715.2,1371.4 715.7,1370.3 716.3,1369.7 716.8,1375.1 717.4,1373.1 717.9,1372.5 718.5,1375.7 719.0,1374.2 719.6,1370.7 720.1,1370.5 720.7,1372.4 721.2,1371.6 721.8,1373.3 722.3,1376.3 722.9,1376.9 723.4,1373.5 724.0,1374.8 724.5,1374.7 725.1,1373.0 725.6,1370.9 726.2,1374.5 726.7,1373.1 727.3,1374.1 727.8,1374.4 728.4,1372.5 728.9,1375.5 729.5,1373.4 730.0,1373.3 730.6,1373.4 731.1,1376.1 731.7,1377.7 732.2,1376.6 732.8,1380.0 733.3,1380.2 733.9,1381.9 734.4,1384.6 735.0,1386.7 735.5,1388.1 736.1,1390.1 736.6,1389.0 737.2,1390.2 737.7,1391.2 738.3,1392.6 738.8,1391.4 739.4,1391.3 739.9,1391.7 740.5,1395.0 741.0,1396.3 741.6,1394.5 742.1,1397.7 742.7,1397.1 743.2,1397.6 743.8,1397.8 744.3,1397.3 744.9,1396.3 745.4,1395.4 746.0,1398.7 746.5,1399.4 747.1,1400.7 747.6,1400.6 748.2,1399.2 748.7,1400.8 749.3,1397.7 749.8,1399.5 750.4,1400.1 750.9,1399.3 751.5,1402.5 752.0,1401.5 752.6,1403.8 753.1,1403.8 753.7,1403.0 754.2,1406.1 754.8,1405.7 755.3,1404.4 755.9,1404.6 756.4,1403.7 757.0,1406.3 757.5,1405.8 758.1,1407.0 758.6,1406.4 759.2,1408.7 759.7,1407.9 760.3,1406.1 760.8,1407.7 761.4,1407.5 761.9,1407.1 762.5,1408.8 763.0,1410.5 763.6,1407.9 764.1,1407.1 764.7,1408.6 765.2,1413.2 765.8,1408.9 766.3,1410.8 766.9,1409.6 767.4,1411.5 768.0,1412.3 768.5,1412.0 769.1,1414.0 769.6,1411.0 770.2,1412.6 770.7,1411.7 771.3,1414.0 771.8,1413.5 772.4,1414.4 772.9,1413.5 773.5,1415.3 774.0,1415.9 774.6,1415.9 775.1,1416.5 775.7,1416.5 776.2,1416.7 776.8,1418.2 777.3,1418.8 777.9,1419.6 778.4,1420.8 779.0,1419.1 779.5,1421.1 780.1,1422.7 780.6,1422.0 781.2,1421.8 781.7,1421.3 782.3,1423.1 782.8,1420.5 783.4,1419.4 783.9,1420.9 784.5,1422.9 785.0,1422.5 785.6,1420.3 786.1,1422.6 786.7,1423.2 787.2,1423.4 787.8,1424.4 788.3,1424.0 788.9,1423.5 789.4,1426.6 790.0,1423.5 790.5,1424.9 791.1,1426.0 791.6,1426.8 792.2,1425.5 792.7,1425.1 793.3,1423.8 793.8,1426.3 794.4,1429.8 794.9,1424.0 795.5,1423.4 796.0,1426.2 796.6,1425.6 797.1,1422.0 797.7,1424.8 798.2,1425.7 798.8,1424.0 799.3,1428.0 799.9,1425.3 800.4,1429.6 801.0,1428.7 801.5,1427.6 802.1,1425.6 802.6,1426.9 803.2,1427.9 803.7,1427.7 804.3,1426.4 804.8,1427.5 805.4,1428.6 805.9,1427.7 806.5,1429.1 807.0,1429.5 807.6,1428.6 808.1,1430.8 808.7,1430.8 809.2,1422.2 809.8,1429.3 810.3,1424.9 810.9,1428.8 811.4,1431.1 812.0,1428.3 812.5,1431.9 813.1,1428.1 813.6,1432.3 814.2,1430.1 814.7,1429.7 815.3,1430.6 815.8,1431.4 816.4,1431.0 816.9,1431.2 817.5,1432.5 818.0,1435.3 818.6,1434.6 819.1,1436.1 819.7,1433.1 820.2,1432.9 820.8,1432.9 821.3,1433.9 821.9,1433.8 822.4,1434.9 823.0,1433.4 823.5,1433.3 824.1,1436.0 824.6,1433.3 825.2,1431.9 825.7,1435.0 826.3,1435.4 826.8,1435.7 827.4,1437.1 827.9,1435.1 828.5,1436.0 829.0,1437.9 829.6,1438.1 830.1,1438.1 830.7,1437.4 831.2,1438.6 831.8,1435.6 832.3,1440.2 832.9,1436.6 833.4,1439.1 834.0,1442.3 834.5,1438.1 835.1,1436.0 835.6,1439.5 836.2,1436.3 836.7,1436.8 837.3,1437.1 837.8,1439.5 838.4,1439.7 838.9,1438.0 839.5,1440.3 840.0,1437.9 840.6,1439.7 841.1,1438.1 841.7,1439.9 842.2,1438.7 842.8,1439.3 843.3,1442.3 843.9,1440.0 844.4,1440.6 845.0,1443.2 845.5,1441.8 846.1,1441.6 846.6,1441.8 847.2,1444.8 847.7,1440.4 848.3,1441.8 848.8,1442.5 849.4,1441.6 849.9,1443.6 850.5,1444.2 851.0,1442.2 851.6,1444.9 852.1,1441.5 852.7,1442.4 853.2,1443.2 853.8,1446.8 854.3,1441.4 854.9,1444.6 855.4,1447.3 856.0,1443.7 856.5,1446.1 857.1,1444.0 857.6,1441.7 858.2,1444.1 858.7,1441.9 859.3,1443.1 859.8,1440.2 860.4,1443.3 860.9,1439.0 861.5,1442.3 862.0,1444.5 862.6,1443.7 863.1,1443.7 863.7,1444.2 864.2,1443.7 864.8,1449.0 865.3,1438.1 865.9,1444.6 866.4,1443.3 867.0,1442.9 867.5,1444.8 868.1,1443.6 868.6,1444.2 869.2,1444.1 869.7,1445.0 870.3,1446.4 870.8,1445.9 871.4,1446.2 871.9,1445.3 872.5,1446.9 873.0,1445.3 873.6,1443.7 874.1,1444.5 874.7,1443.8 875.2,1441.1 875.8,1443.5 876.3,1445.9 876.9,1445.1 877.4,1447.6 878.0,1445.3 878.5,1445.0 879.1,1446.2 879.6,1449.2 880.2,1446.7 880.7,1446.6 881.3,1448.9 881.8,1447.5 882.4,1447.5 882.9,1449.0 883.5,1449.5 884.0,1448.7 884.6,1450.0 885.1,1448.8 885.7,1449.7 886.2,1450.2 886.8,1448.5 887.3,1449.2 887.9,1449.2 888.4,1451.7 889.0,1451.2 889.5,1452.2 890.1,1452.7 890.6,1452.6 891.2,1451.8 891.7,1449.4 892.3,1451.7 892.8,1450.0 893.4,1453.7 893.9,1452.3 894.5,1452.9 895.0,1450.5 895.6,1453.0 896.1,1453.2 896.7,1449.1 897.2,1450.4 897.8,1450.0 898.3,1449.8 898.9,1452.2 899.4,1453.7 900.0,1449.5 900.5,1452.6 901.1,1450.8 901.6,1453.1 902.2,1447.7 902.7,1451.4 903.3,1453.0 903.8,1450.8 904.4,1452.9 904.9,1451.4 905.5,1452.5 906.0,1451.2 906.6,1448.6 907.1,1447.9 907.7,1448.3 908.2,1450.0 908.8,1454.8 909.3,1447.2 909.9,1453.3 910.4,1446.8 911.0,1449.0 911.5,1450.5 912.1,1447.9 912.6,1453.7 913.2,1447.8 913.7,1445.7 914.3,1440.7 914.8,1445.4 915.4,1438.6 915.9,1448.3 916.5,1444.8 917.0,1445.9 917.6,1445.8 918.1,1445.5 918.7,1444.2 919.2,1442.0 919.8,1440.0 920.3,1441.8 920.9,1442.4 921.4,1441.2 922.0,1440.7 922.5,1443.2 923.1,1440.9 923.6,1442.2 924.2,1441.4 924.7,1439.2 925.3,1442.6 925.8,1440.3 926.4,1440.5 926.9,1438.0 927.5,1439.0 928.0,1438.5 928.6,1437.7 929.1,1441.1 929.7,1436.7 930.2,1439.1 930.8,1434.5 931.3,1437.7 931.9,1437.7 932.4,1437.7 933.0,1437.7 933.5,1437.7 934.1,1437.7 934.6,1437.7 935.2,1437.7 935.7,1437.7 936.3,1437.7 936.8,1437.7 937.4,1437.7 937.9,1437.7 938.5,1437.7 939.0,1437.7 939.6,1437.7 940.1,1437.7 940.7,1437.7 941.2,1437.7 941.8,1437.7 942.3,1437.7 942.9,1437.7 943.4,1437.7 944.0,1437.7 944.5,1437.7 945.1,1437.7 945.6,1437.7 946.2,1437.7 946.7,1437.7 947.3,1437.7 947.8,1437.7 948.4,1437.7 948.9,1437.7 949.5,1437.7 950.0,1438.6 950.6,1442.5 951.1,1441.2 951.7,1440.4 952.2,1441.5 952.8,1443.3 953.3,1443.3 953.9,1444.6 954.4,1442.1 955.0,1440.4 955.5,1443.0 956.1,1443.6 956.6,1443.7 957.2,1446.4 957.7,1448.8 958.3,1446.6 958.8,1445.2 959.4,1449.2 959.9,1447.3 960.5,1448.9 961.0,1450.8 961.6,1450.2 962.1,1449.6 962.7,1450.3 963.2,1451.4 963.8,1451.2 964.3,1453.0 964.9,1446.1 965.4,1449.1 966.0,1449.4 966.5,1450.9 967.1,1450.1 967.6,1451.3 968.2,1447.9 968.7,1449.6 969.3,1450.5 969.8,1450.3 970.4,1449.2 970.9,1449.4 971.5,1451.3 972.0,1446.2 972.6,1450.4 973.1,1448.9 973.7,1446.8 974.2,1449.3 974.8,1448.6 975.3,1449.2 975.9,1446.7 976.4,1450.0 977.0,1447.1 977.5,1448.9 978.1,1449.4 978.6,1448.6 979.2,1450.2 979.7,1449.1 980.3,1451.0 980.8,1449.4 981.4,1448.3 981.9,1448.8 982.5,1449.1 983.0,1448.4 983.6,1450.3 984.1,1448.0 984.7,1448.6 985.2,1447.3 985.8,1448.2 986.3,1449.5 986.9,1447.6 987.4,1448.2 988.0,1449.5 988.5,1450.0 989.1,1449.7 989.6,1448.0 990.2,1445.8 990.7,1447.9 991.3,1446.8 991.8,1448.7 992.4,1447.3 992.9,1450.4 993.5,1449.5 994.0,1448.3 994.6,1446.3 995.1,1447.9 995.7,1446.4 996.2,1447.2 996.8,1446.6 997.3,1447.1 997.9,1448.2 998.4,1449.8 999.0,1446.5 999.5,1448.1 1000.1,1448.8 1000.6,1447.3 1001.2,1446.9 1001.7,1451.0 1002.3,1447.5 1002.8,1449.0 1003.4,1448.2 1003.9,1448.3 1004.5,1445.6 1005.0,1449.6 1005.6,1448.4 1006.1,1447.0 1006.7,1450.8 1007.2,1447.8 1007.8,1448.0 1008.3,1447.6 1008.9,1449.9 1009.4,1448.1 1010.0,1448.4 1010.5,1447.7 1011.1,1448.8 1011.6,1449.9 1012.2,1449.2 1012.7,1446.7 1013.3,1447.1 1013.8,1448.3 1014.4,1450.3 1014.9,1445.3 1015.5,1443.1 1016.0,1446.9 1016.6,1445.5 1017.1,1445.1 1017.7,1446.5 1018.2,1445.7 1018.8,1444.9 1019.3,1444.8 1019.9,1446.2 1020.4,1446.4 1021.0,1442.8 1021.5,1446.7 1022.1,1444.4 1022.6,1448.1 1023.2,1446.9 1023.7,1445.8 1024.3,1446.4 1024.8,1446.7 1025.4,1447.0 1025.9,1448.3 1026.5,1444.6 1027.0,1445.9 1027.6,1443.1 1028.1,1442.9 1028.7,1442.9 1029.2,1440.0 1029.8,1442.3 1030.3,1438.9 1030.9,1440.3 1031.4,1442.4 1032.0,1446.0 1032.5,1446.5 1033.1,1444.2 1033.6,1445.3 1034.2,1445.8 1034.7,1443.5 1035.3,1445.8 1035.8,1446.1 1036.4,1445.1 1036.9,1442.5 1037.5,1442.4 1038.0,1441.9 1038.6,1443.0 1039.1,1443.1 1039.7,1443.8 1040.2,1443.2 1040.8,1442.0 1041.3,1443.5 1041.9,1442.7 1042.4,1439.7 1043.0,1439.8 1043.5,1439.7 1044.1,1437.8 1044.6,1440.1 1045.2,1441.1 1045.7,1442.9 1046.3,1440.8 1046.8,1440.0 1047.4,1439.3 1047.9,1440.3 1048.5,1447.0 1049.0,1438.1 1049.6,1439.5 1050.1,1439.6 1050.7,1436.0 1051.2,1440.9 1051.8,1438.9 1052.3,1440.2 1052.9,1438.6 1053.4,1444.5 1054.0,1438.5 1054.5,1438.9 1055.1,1439.9 1055.6,1437.6 1056.2,1436.0 1056.7,1437.0 1057.3,1436.9 1057.8,1438.8 1058.4,1436.0 1058.9,1438.9 1059.5,1437.3 1060.0,1436.7 1060.6,1438.0 1061.1,1435.3 1061.7,1434.8 1062.2,1436.6 1062.8,1436.8 1063.3,1435.0 1063.9,1439.6 1064.4,1437.2 1065.0,1435.2 1065.5,1437.0 1066.1,1438.1 1066.6,1436.7 1067.2,1436.6 1067.7,1439.4 1068.3,1437.3 1068.8,1438.0 1069.4,1436.7 1069.9,1434.7 1070.5,1438.0 1071.0,1435.9 1071.6,1437.7 1072.1,1437.7 1072.7,1435.9 1073.2,1435.3 1073.8,1436.5 1074.3,1436.8 1074.9,1437.5 1075.4,1435.3 1076.0,1437.5 1076.5,1436.7 1077.1,1435.4 1077.6,1435.7 1078.2,1436.6 1078.7,1436.8 1079.3,1438.0 1079.8,1440.1 1080.4,1439.1 1080.9,1440.1 1081.5,1438.1 1082.0,1437.4 1082.6,1436.5 1083.1,1435.9 1083.7,1437.5 1084.2,1438.6 1084.8,1438.5 1085.3,1438.2 1085.9,1441.4 1086.4,1437.3 1087.0,1438.5 1087.5,1437.4 1088.1,1437.3 1088.6,1440.3 1089.2,1439.1 1089.7,1440.7 1090.3,1437.8 1090.8,1441.7 1091.4,1443.1 1091.9,1438.6 1092.5,1439.2 1093.0,1438.4 1093.6,1439.4 1094.1,1436.9 1094.7,1438.8 1095.2,1438.6 1095.8,1443.5 1096.3,1435.0 1096.9,1436.6 1097.4,1437.0 1098.0,1438.1 1098.5,1437.2 1099.1,1437.1 1099.6,1438.9 1100.2,1438.4 1100.7,1439.5 1101.3,1439.0 1101.8,1440.2 1102.4,1438.6 1102.9,1438.6 1103.5,1438.6 1104.0,1438.6 1104.6,1438.6 1105.1,1438.6 1105.7,1438.6 1106.2,1438.6 1106.8,1438.6 1107.3,1438.6 1107.9,1438.6 1108.4,1438.6 1109.0,1438.6 1109.5,1438.6 1110.1,1438.6 1110.6,1438.6 1111.2,1438.6 1111.7,1438.6 1112.3,1438.6 1112.8,1438.6 1113.4,1438.6 1113.9,1438.6 1114.5,1438.6 1115.0,1438.6 1115.6,1438.6 1116.1,1438.6 1116.7,1438.6 1117.2,1438.6 1117.8,1438.6 1118.3,1438.6 1118.9,1438.6 1119.4,1438.6 1120.0,1438.6 1120.5,1438.6 1121.1,1438.6 1121.6,1438.6 1122.2,1438.6 1122.7,1438.6 1123.3,1438.6 1123.8,1438.6 1124.4,1438.6 1124.9,1438.6 1125.5,1438.6 1126.0,1438.6 1126.6,1438.6 1127.1,1438.6 1127.7,1438.6 1128.2,1438.6 1128.8,1443.9 1129.3,1445.4 1129.9,1443.3 1130.4,1448.8 1131.0,1445.0 1131.5,1444.9 1132.1,1448.3 1132.6,1448.9 1133.2,1449.4 1133.7,1448.9 1134.3,1447.8 1134.8,1447.7 1135.4,1448.2 1135.9,1447.1 1136.5,1446.4 1137.0,1449.9 1137.6,1450.4 1138.1,1447.5 1138.7,1446.7 1139.2,1446.2 1139.8,1444.8 1140.3,1446.5 1140.9,1439.5 1141.4,1446.9 1142.0,1446.0 1142.5,1444.7 1143.1,1448.9 1143.6,1450.6 1144.2,1445.5 1144.7,1448.8 1145.3,1450.7 1145.8,1448.3 1146.4,1449.2 1146.9,1451.1 1147.5,1451.3 1148.0,1451.0 1148.6,1454.1 1149.1,1454.1 1149.7,1453.2 1150.2,1452.1 1150.8,1451.9 1151.3,1453.2 1151.9,1452.4 1152.4,1454.5 1153.0,1453.6 1153.5,1450.9 1154.1,1453.2 1154.6,1455.5 1155.2,1455.1 1155.7,1453.6 1156.3,1455.3 1156.8,1456.6 1157.4,1458.0 1157.9,1458.1 1158.5,1457.3 1159.0,1458.3 1159.6,1457.8 1160.1,1455.1 1160.7,1454.0 1161.2,1456.8 1161.8,1456.5 1162.3,1456.7 1162.9,1455.8 1163.4,1458.2 1164.0,1457.0 1164.5,1459.5 1165.1,1459.7 1165.6,1456.9 1166.2,1454.9 1166.7,1457.5 1167.3,1457.4 1167.8,1458.5 1168.4,1458.1 1168.9,1458.6 1169.5,1460.9 1170.0,1457.0 1170.6,1457.9 1171.1,1459.0 1171.7,1457.0 1172.2,1460.0 1172.8,1458.9 1173.3,1458.0 1173.9,1458.9 1174.4,1460.6 1175.0,1461.9 1175.5,1462.1 1176.1,1461.5 1176.6,1461.1 1177.2,1463.2 1177.7,1462.4 1178.3,1466.2 1178.8,1459.9 1179.4,1464.7 1179.9,1464.5 1180.5,1462.8 1181.0,1462.1 1181.6,1462.1 1182.1,1462.1 1182.7,1461.6 1183.2,1466.5 1183.8,1465.3 1184.3,1465.1 1184.9,1464.7 1185.4,1461.3 1186.0,1462.2 1186.5,1461.8 1187.1,1463.2 1187.6,1460.5 1188.2,1463.1 1188.7,1463.4 1189.3,1463.2 1189.8,1463.0 1190.4,1466.2 1190.9,1465.9 1191.5,1462.7 1192.0,1466.7 1192.6,1467.7 1193.1,1465.2 1193.7,1468.0 1194.2,1465.4 1194.8,1466.7 1195.3,1470.5 1195.9,1468.3 1196.4,1470.5 1197.0,1468.6 1197.5,1470.1 1198.1,1468.7 1198.6,1471.0 1199.2,1471.1 1199.7,1470.1 1200.3,1468.6 1200.8,1469.5 1201.4,1468.0 1201.9,1469.6 1202.5,1469.3 1203.0,1468.8 1203.6,1470.7 1204.1,1469.1 1204.7,1472.1 1205.2,1472.3 1205.8,1473.8 1206.3,1470.4 1206.9,1469.6 1207.4,1469.0 1208.0,1472.5 1208.5,1470.5 1209.1,1473.1 1209.6,1471.1 1210.2,1472.6 1210.7,1470.2 1211.3,1471.6 1211.8,1472.6 1212.4,1472.7 1212.9,1469.5 1213.5,1472.0 1214.0,1470.7 1214.6,1472.7 1215.1,1470.8 1215.7,1470.9 1216.2,1472.8 1216.8,1474.1 1217.3,1472.7 1217.9,1474.7 1218.4,1472.2 1219.0,1474.4 1219.5,1472.5 1220.1,1475.0 1220.6,1474.4 1221.2,1475.3 1221.7,1475.9 1222.3,1474.3 1222.8,1474.0 1223.4,1476.1 1223.9,1476.4 1224.5,1476.2 1225.0,1474.9 1225.6,1477.5 1226.1,1475.5 1226.7,1476.5 1227.2,1474.4 1227.8,1476.1 1228.3,1476.8 1228.9,1474.6 1229.4,1474.9 1230.0,1476.8 1230.5,1476.4 1231.1,1476.2 1231.6,1476.0 1232.2,1475.0 1232.7,1476.8 1233.3,1475.4 1233.8,1476.7 1234.4,1474.3 1234.9,1478.8 1235.5,1479.7 1236.0,1477.2 1236.6,1476.4 1237.1,1477.1 1237.7,1479.1 1238.2,1478.5 1238.8,1477.2 1239.3,1479.2 1239.9,1479.1 1240.4,1479.0 1241.0,1478.4 1241.5,1478.9 1242.1,1477.3 1242.6,1478.6 1243.2,1476.6 1243.7,1479.0 1244.3,1477.4 1244.8,1477.0 1245.4,1477.6 1245.9,1478.1 1246.5,1476.4 1247.0,1480.7 1247.6,1478.7 1248.1,1477.5 1248.7,1477.6 1249.2,1477.4 1249.8,1478.7 1250.3,1479.0 1250.9,1478.9 1251.4,1480.4 1252.0,1480.6 1252.5,1479.3 1253.1,1483.2 1253.6,1479.6 1254.2,1480.8 1254.7,1480.0 1255.3,1479.5 1255.8,1480.9 1256.4,1481.8 1256.9,1479.3 1257.5,1478.3 1258.0,1479.0 1258.6,1475.4 1259.1,1478.8 1259.7,1482.8 1260.2,1479.1 1260.8,1478.4 1261.3,1480.1 1261.9,1480.7 1262.4,1481.7 1263.0,1483.2 1263.5,1483.1 1264.1,1482.5 1264.6,1484.4 1265.2,1482.7 1265.7,1479.7 1266.3,1481.2 1266.8,1483.1 1267.4,1482.8 1267.9,1482.5 1268.5,1482.7 1269.0,1480.8 1269.6,1482.2 1270.1,1481.0 1270.7,1481.4 1271.2,1480.9 1271.8,1481.3 1272.3,1482.0 1272.9,1482.1 1273.4,1480.6 1274.0,1483.1 1274.5,1481.2 1275.1,1483.5 1275.6,1482.1 1276.2,1478.9 1276.7,1481.6 1277.3,1479.1 1277.8,1482.5 1278.4,1481.8 1278.9,1480.2 1279.5,1479.8 1280.0,1481.9 1280.6,1481.0 1281.1,1484.0 1281.7,1480.8 1282.2,1482.2 1282.8,1483.6 1283.3,1482.5 1283.9,1484.2 1284.4,1483.7 1285.0,1484.9 1285.5,1483.1 1286.1,1484.1 1286.6,1482.2 1287.2,1484.7 1287.7,1481.7 1288.3,1483.1 1288.8,1484.2 1289.4,1484.6 1289.9,1480.6 1290.5,1481.6 1291.0,1480.6 1291.6,1484.1 1292.1,1482.0 1292.7,1484.2 1293.2,1483.3 1293.8,1482.4 1294.3,1484.3 1294.9,1483.3 1295.4,1485.8 1296.0,1485.7 1296.5,1486.5 1297.1,1483.3 1297.6,1486.6 1298.2,1486.3 1298.7,1482.5 1299.3,1486.8 1299.8,1486.6 1300.4,1483.1 1300.9,1485.2 1301.5,1483.4 1302.0,1485.4 1302.6,1486.3 1303.1,1487.9 1303.7,1485.5 1304.2,1486.3 1304.8,1485.4 1305.3,1487.4 1305.9,1487.2 1306.4,1486.9 1307.0,1488.4 1307.5,1488.3 1308.1,1488.7 1308.6,1488.7 1309.2,1485.7 1309.7,1487.1 1310.3,1484.9 1310.8,1487.4 1311.4,1486.6 1311.9,1487.7 1312.5,1487.0 1313.0,1487.0 1313.6,1488.1 1314.1,1487.9 1314.7,1494.6 1315.2,1487.4 1315.8,1486.2 1316.3,1485.8 1316.9,1489.2 1317.4,1485.9 1318.0,1486.9 1318.5,1485.6 1319.1,1488.5 1319.6,1487.3 1320.2,1489.8 1320.7,1487.0 1321.3,1488.4 1321.8,1488.5 1322.4,1488.6 1322.9,1485.5 1323.5,1486.5 1324.0,1487.0 1324.6,1485.1 1325.1,1488.9 1325.7,1489.2 1326.2,1489.0 1326.8,1487.1 1327.3,1489.1 1327.9,1489.0 1328.4,1489.8 1329.0,1487.0 1329.5,1488.4 1330.1,1490.9 1330.6,1486.8 1331.2,1487.2 1331.7,1487.8 1332.3,1486.7 1332.8,1488.9 1333.4,1491.6 1333.9,1487.7 1334.5,1489.6 1335.0,1491.4 1335.6,1490.7 1336.1,1490.2 1336.7,1489.2 1337.2,1489.4 1337.8,1490.0 1338.3,1491.0 1338.9,1489.4 1339.4,1489.8 1340.0,1485.6 1340.5,1489.0 1341.1,1487.1 1341.6,1487.7 1342.2,1486.7 1342.7,1489.3 1343.3,1488.6 1343.8,1489.9 1344.4,1488.1 1344.9,1489.5 1345.5,1490.9 1346.0,1483.9 1346.6,1488.1 1347.1,1488.5 1347.7,1488.2 1348.2,1488.7 1348.8,1488.7 1349.3,1490.1 1349.9,1489.6 1350.4,1491.9 1351.0,1493.1 1351.5,1489.2 1352.1,1491.3 1352.6,1490.0 1353.2,1488.0 1353.7,1487.9 1354.3,1488.3 1354.8,1490.5 1355.4,1488.3 1355.9,1488.0 1356.5,1488.7 1357.0,1488.3 1357.6,1490.8 1358.1,1489.5 1358.7,1487.4 1359.2,1489.5 1359.8,1495.0 1360.3,1490.9 1360.9,1490.3 1361.4,1490.4 1362.0,1488.8 1362.5,1489.8 1363.1,1491.1 1363.6,1488.9 1364.2,1491.2 1364.7,1491.6 1365.3,1491.6 1365.8,1491.9 1366.4,1493.9 1366.9,1494.3 1367.5,1492.7 1368.0,1492.6 1368.6,1492.3 1369.1,1491.0 1369.7,1491.3 1370.2,1490.4 1370.8,1492.7 1371.3,1491.1 1371.9,1492.2 1372.4,1495.7 1373.0,1493.5 1373.5,1499.7 1374.1,1495.2 1374.6,1494.6 1375.2,1494.4 1375.7,1495.5 1376.3,1496.2 1376.8,1494.4 1377.4,1494.5 1377.9,1493.5 1378.5,1494.9 1379.0,1493.5 1379.6,1491.9 1380.1,1493.3 1380.7,1495.8 1381.2,1491.4 1381.8,1491.7 1382.3,1494.8 1382.9,1491.9 1383.4,1496.0 1384.0,1491.6 1384.5,1491.6 1385.1,1492.7 1385.6,1495.4 1386.2,1495.0 1386.7,1495.1 1387.3,1495.0 1387.8,1495.6 1388.4,1492.0 1388.9,1494.9 1389.5,1495.7 1390.0,1500.0 1390.6,1494.8 1391.1,1496.8 1391.7,1497.3 1392.2,1495.5 1392.8,1498.0 1393.3,1496.8 1393.9,1497.6 1394.4,1495.0 1395.0,1494.8 1395.5,1495.0 1396.1,1498.4 1396.6,1492.9 1397.2,1487.6 1397.7,1496.0 1398.3,1495.4 1398.8,1491.4 1399.4,1494.1 1399.9,1493.9 1400.5,1495.9 1401.0,1492.4 1401.6,1494.1 1402.1,1495.9 1402.7,1496.4 1403.2,1494.9 1403.8,1495.5 1404.3,1494.7 1404.9,1498.0 1405.4,1495.6 1406.0,1498.2 1406.5,1496.5 1407.1,1494.2 1407.6,1495.8 1408.2,1496.7 1408.7,1496.4 1409.3,1497.9 1409.8,1497.2 1410.4,1497.2 1410.9,1503.3 1411.5,1495.5 1412.0,1495.5 1412.6,1497.8 1413.1,1497.3 1413.7,1496.0 1414.2,1496.6 1414.8,1491.6 1415.3,1503.7 1415.9,1497.8 1416.4,1494.5 1417.0,1495.5 1417.5,1497.0 1418.1,1496.5 1418.6,1496.1 1419.2,1494.5 1419.7,1497.1 1420.3,1497.2 1420.8,1497.0 1421.4,1497.0 1421.9,1497.6 1422.5,1499.2 1423.0,1492.2 1423.6,1497.5 1424.1,1499.2 1424.7,1497.4 1425.2,1495.5 1425.8,1498.2 1426.3,1499.9 1426.9,1500.8 1427.4,1497.8 1428.0,1501.4 1428.5,1497.2 1429.1,1497.0 1429.6,1496.5 1430.2,1499.3 1430.7,1498.1 1431.3,1498.6 1431.8,1495.1 1432.4,1497.7 1432.9,1498.0 1433.5,1499.3 1434.0,1497.1 1434.6,1498.8 1435.1,1497.2 1435.7,1495.9 1436.2,1495.7 1436.8,1499.1 1437.3,1498.6 1437.9,1497.6 1438.4,1500.3 1439.0,1499.0 1439.5,1499.1 1440.1,1497.5 1440.6,1498.8 1441.2,1499.7 1441.7,1500.2 1442.3,1500.2 1442.8,1501.5 1443.4,1502.3 1443.9,1499.9 1444.5,1501.5 1445.0,1499.4 1445.6,1500.9 1446.1,1498.7 1446.7,1499.1 1447.2,1499.8 1447.8,1499.4 1448.3,1502.0 1448.9,1499.1 1449.4,1500.2 1450.0,1501.2 1450.5,1501.2 1451.1,1501.5 1451.6,1500.4 1452.2,1498.4 1452.7,1500.1 1453.3,1499.1 1453.8,1499.6 1454.4,1499.7 1454.9,1497.7 1455.5,1496.9 1456.0,1498.0 1456.6,1498.5 1457.1,1496.6 1457.7,1501.0 1458.2,1500.0 1458.8,1501.8 1459.3,1498.7 1459.9,1499.9 1460.4,1500.3 1461.0,1499.5 1461.5,1501.2 1462.1,1500.6 1462.6,1501.4 1463.2,1496.3 1463.7,1499.2 1464.3,1500.6 1464.8,1500.3 1465.4,1503.5 1465.9,1502.4 1466.5,1502.6 1467.0,1501.4 1467.6,1500.5 1468.1,1501.8 1468.7,1500.3 1469.2,1498.5 1469.8,1500.9 1470.3,1501.1 1470.9,1500.5 1471.4,1501.2 1472.0,1502.7 1472.5,1504.4 1473.1,1504.2 1473.6,1505.1 1474.2,1504.2 1474.7,1506.6 1475.3,1502.8 1475.8,1506.1 1476.4,1504.1 1476.9,1503.4 1477.5,1501.3 1478.0,1503.3 1478.6,1501.2 1479.1,1500.3 1479.7,1500.7 1480.2,1502.1 1480.8,1503.0 1481.3,1502.4 1481.9,1503.4 1482.4,1505.5 1483.0,1504.2 1483.5,1506.7 1484.1,1503.6 1484.6,1505.2 1485.2,1507.4 1485.7,1504.6 1486.3,1506.0 1486.8,1506.3 1487.4,1507.5 1487.9,1510.4 1488.5,1507.1 1489.0,1507.0 1489.6,1506.1 1490.1,1508.5 1490.7,1509.0 1491.2,1506.9 1491.8,1508.7 1492.3,1506.4 1492.9,1508.8 1493.4,1506.9 1494.0,1505.9 1494.5,1509.3 1495.1,1506.3 1495.6,1506.4 1496.2,1506.4 1496.7,1507.8 1497.3,1506.8 1497.8,1505.8 1498.4,1507.5 1498.9,1508.7 1499.5,1508.6 1500.0,1507.5 1500.6,1510.3 1501.1,1508.2 1501.7,1509.8 1502.2,1509.6 1502.8,1507.9 1503.3,1507.4 1503.9,1509.9 1504.4,1509.8 1505.0,1508.2 1505.5,1506.6 1506.1,1509.0 1506.6,1509.2 1507.2,1509.9 1507.7,1510.7 1508.3,1509.5 1508.8,1510.3 1509.4,1510.1 1509.9,1504.2 1510.5,1508.4 1511.0,1507.6 1511.6,1508.8 1512.1,1508.4 1512.7,1507.9 1513.2,1508.3 1513.8,1510.8 1514.3,1510.1 1514.9,1511.1 1515.4,1509.6 1516.0,1513.3 1516.5,1510.0 1517.1,1513.5 1517.6,1510.1 1518.2,1512.0 1518.7,1512.0 1519.3,1509.0 1519.8,1508.9 1520.4,1511.0 1520.9,1511.1 1521.5,1510.2 1522.0,1509.4 1522.6,1510.8 1523.1,1507.8 1523.7,1509.3 1524.2,1510.6 1524.8,1508.4 1525.3,1509.7 1525.9,1507.8 1526.4,1509.6 1527.0,1508.0 1527.5,1510.5 1528.1,1512.2 1528.6,1510.8 1529.2,1511.2 1529.7,1510.1 1530.3,1511.2 1530.8,1510.0 1531.4,1511.0 1531.9,1514.3 1532.5,1509.7 1533.0,1510.4 1533.6,1509.5 1534.1,1512.8 1534.7,1509.9 1535.2,1508.4 1535.8,1508.1 1536.3,1511.3 1536.9,1510.9 1537.4,1511.1 1538.0,1509.4 1538.5,1510.7 1539.1,1510.3 1539.6,1510.8 1540.2,1507.2 1540.7,1506.0 1541.3,1507.1 1541.8,1509.9 1542.4,1508.6 1542.9,1510.3 1543.5,1511.3 1544.0,1510.9 1544.6,1510.7 1545.1,1513.3 1545.7,1513.1 1546.2,1513.3 1546.8,1513.3 1547.3,1513.1 1547.9,1511.0 1548.4,1510.8 1549.0,1508.8 1549.5,1509.9 1550.1,1509.6 1550.6,1511.8 1551.2,1512.7 1551.7,1513.8 1552.3,1513.6 1552.8,1514.0 1553.4,1513.6 1553.9,1512.6 1554.5,1511.8 1555.0,1510.9 1555.6,1509.8 1556.1,1510.8 1556.7,1510.4 1557.2,1507.5 1557.8,1506.6 1558.3,1508.8 1558.9,1509.5 1559.4,1510.0 1560.0,1512.6 1560.5,1510.7 1561.1,1510.0 1561.6,1512.2 1562.2,1513.3 1562.7,1514.5 1563.3,1511.3 1563.8,1512.4 1564.4,1511.8 1564.9,1514.8 1565.5,1514.7 1566.0,1513.1 1566.6,1514.1 1567.1,1512.5 1567.7,1513.0 1568.2,1512.5 1568.8,1512.2 1569.3,1511.5 1569.9,1513.1 1570.4,1513.1 1571.0,1514.1 1571.5,1513.4 1572.1,1511.9 1572.6,1509.2 1573.2,1510.0 1573.7,1510.9 1574.3,1510.8 1574.8,1509.7 1575.4,1510.0 1575.9,1511.6 1576.5,1510.3 1577.0,1512.0 1577.6,1512.1 1578.1,1512.5 1578.7,1513.1 1579.2,1515.4 1579.8,1515.9 1580.3,1514.5 1580.9,1513.1 1581.4,1514.2 1582.0,1514.7 1582.5,1512.7 1583.1,1515.2 1583.6,1512.8 1584.2,1513.8 1584.7,1512.2 1585.3,1514.3 1585.8,1514.3 1586.4,1514.6 1586.9,1512.6 1587.5,1516.8 1588.0,1513.9 1588.6,1516.2 1589.1,1517.3 1589.7,1516.0 1590.2,1517.3 1590.8,1516.2 1591.3,1516.4 1591.9,1515.0 1592.4,1517.5 1593.0,1516.5 1593.5,1514.6 1594.1,1513.1 1594.6,1515.1 1595.2,1513.9 1595.7,1514.8 1596.3,1515.2 1596.8,1516.5 1597.4,1517.6 1597.9,1516.7 1598.5,1514.6 1599.0,1513.8 1599.6,1516.4 1600.1,1518.4 1600.7,1514.2 1601.2,1513.0 1601.8,1515.9 1602.3,1514.5 1602.9,1516.1 1603.4,1515.4 1604.0,1513.2 1604.5,1515.3 1605.1,1515.4 1605.6,1517.2 1606.2,1516.4 1606.7,1515.0 1607.3,1517.3 1607.8,1514.1 1608.4,1516.9 1608.9,1516.8 1609.5,1516.7 1610.0,1514.5 1610.6,1515.7 1611.1,1514.4 1611.7,1517.2 1612.2,1514.8 1612.8,1515.1 1613.3,1514.6 1613.9,1515.5 1614.4,1515.6 1615.0,1516.5 1615.5,1514.5 1616.1,1517.7 1616.6,1516.3 1617.2,1517.6 1617.7,1517.7 1618.3,1518.2 1618.8,1516.3 1619.4,1514.5 1619.9,1514.0 1620.5,1513.9 1621.0,1516.1 1621.6,1513.2 1622.1,1513.9 1622.7,1514.6 1623.2,1512.9 1623.8,1514.9 1624.3,1515.4 1624.9,1514.4 1625.4,1515.3 1626.0,1516.5 1626.5,1516.9 1627.1,1514.6 1627.6,1517.6 1628.2,1514.4 1628.7,1513.8 1629.3,1513.5 1629.8,1513.5 1630.4,1516.5 1630.9,1513.0 1631.5,1516.5 1632.0,1514.5 1632.6,1515.8 1633.1,1516.1 1633.7,1514.8 1634.2,1514.7 1634.8,1518.2 1635.3,1516.0 1635.9,1517.6 1636.4,1516.9 1637.0,1517.9 1637.5,1517.8 1638.1,1517.5 1638.6,1516.2 1639.2,1515.1 1639.7,1513.1 1640.3,1517.1 1640.8,1515.7 1641.4,1515.7 1641.9,1516.2 1642.5,1515.6 1643.0,1518.7 1643.6,1522.4 1644.1,1518.6 1644.7,1516.6 1645.2,1515.6 1645.8,1516.7 1646.3,1515.1 1646.9,1514.7 1647.4,1518.4 1648.0,1514.5 1648.5,1515.1 1649.1,1515.9 1649.6,1514.2 1650.2,1515.2 1650.7,1513.8 1651.3,1513.1 1651.8,1516.8 1652.4,1513.1 1652.9,1514.8 1653.5,1515.3 1654.0,1512.5 1654.6,1514.9 1655.1,1514.7 1655.7,1515.4 1656.2,1515.2 1656.8,1513.1 1657.3,1517.2 1657.9,1513.0 1658.4,1515.0 1659.0,1514.2 1659.5,1514.3 1660.1,1514.7 1660.6,1515.4 1661.2,1513.0 1661.7,1513.8 1662.3,1515.8 1662.8,1516.6 1663.4,1516.4 1663.9,1516.2 1664.5,1514.8 1665.0,1515.0 1665.6,1514.9 1666.1,1516.2 1666.7,1516.1 1667.2,1510.8 1667.8,1510.8 1668.3,1510.8 1668.9,1510.8 1669.4,1510.8 1670.0,1510.8 1670.5,1510.8 1671.1,1510.8 1671.6,1510.8 1672.2,1510.8 1672.7,1510.8 1673.3,1510.8 1673.8,1510.8 1674.4,1510.8 1674.9,1510.8 1675.5,1510.8 1676.0,1510.8 1676.6,1510.8 1677.1,1510.8 1677.7,1510.8 1678.2,1510.8 1678.8,1510.8 1679.3,1510.8 1679.9,1510.8 1680.4,1510.8 1681.0,1510.8 1681.5,1510.8 1682.1,1510.8 1682.6,1510.8 1683.2,1510.8 1683.7,1510.8 1684.3,1510.8 1684.8,1510.8 1685.4,1510.8 1685.9,1510.8 1686.5,1510.8 1687.0,1510.8 1687.6,1510.8 1688.1,1510.8 1688.7,1510.8 1689.2,1510.8 1689.8,1510.8 1690.3,1510.8 1690.9,1510.8 1691.4,1510.8 1692.0,1510.8 1692.5,1515.1 1693.1,1516.1 1693.6,1516.4 1694.2,1515.1 1694.7,1516.3 1695.3,1517.0 1695.8,1517.4 1696.4,1518.4 1696.9,1519.1 1697.5,1520.0 1698.0,1518.6 1698.6,1519.9 1699.1,1517.4 1699.7,1517.5 1700.2,1519.5 1700.8,1519.2 1701.3,1521.1 1701.9,1517.8 1702.4,1516.1 1703.0,1518.6 1703.5,1522.9 1704.1,1516.4 1704.6,1519.3 1705.2,1519.7 1705.7,1518.1 1706.3,1517.3 1706.8,1517.9 1707.4,1517.2 1707.9,1516.0 1708.5,1518.5 1709.0,1517.7 1709.6,1519.3 1710.1,1516.5 1710.7,1517.6 1711.2,1518.0 1711.8,1516.4 1712.3,1521.6 1712.9,1516.0 1713.4,1517.2 1714.0,1518.5 1714.5,1516.0 1715.1,1517.9 1715.6,1516.5 1716.2,1517.8 1716.7,1518.0 1717.3,1517.8 1717.8,1518.2 1718.4,1518.6 1718.9,1519.4 1719.5,1520.4 1720.0,1519.1 1720.6,1518.8 1721.1,1518.6 1721.7,1519.6 1722.2,1518.8 1722.8,1518.8 1723.3,1517.3 1723.9,1520.8 1724.4,1516.9 1725.0,1521.1 1725.5,1519.3 1726.1,1519.5 1726.6,1519.0 1727.2,1518.4 1727.7,1518.7 1728.3,1519.4 1728.8,1519.1 1729.4,1520.6 1729.9,1517.6 1730.5,1519.2 1731.0,1520.9 1731.6,1521.0 1732.1,1517.5 1732.7,1519.7 1733.2,1519.7 1733.8,1520.2 1734.3,1516.5 1734.9,1521.1 1735.4,1517.7 1736.0,1522.7 1736.5,1520.8 1737.1,1519.5 1737.6,1519.7 1738.2,1519.9 1738.7,1519.0 1739.3,1519.5 1739.8,1519.9 1740.4,1511.4 1740.9,1521.0 1741.5,1521.9 1742.0,1521.7 1742.6,1521.7 1743.1,1521.9 1743.7,1521.3 1744.2,1521.7 1744.8,1519.6 1745.3,1519.1 1745.9,1519.6 1746.4,1520.2 1747.0,1517.8 1747.5,1516.4 1748.1,1521.1 1748.6,1519.9 1749.2,1521.8 1749.7,1521.2 1750.3,1520.3 1750.8,1519.5 1751.4,1518.4 1751.9,1521.2 1752.5,1520.6 1753.0,1518.9 1753.6,1516.8 1754.1,1517.9 1754.7,1517.5 1755.2,1513.1 1755.8,1515.8 1756.3,1519.5 1756.9,1522.6 1757.4,1520.4 1758.0,1520.5 1758.5,1521.0 1759.1,1519.7 1759.6,1521.1 1760.2,1519.9 1760.7,1519.0 1761.3,1519.1 1761.8,1519.0 1762.4,1519.1 1762.9,1517.3 1763.5,1519.4 1764.0,1516.6 1764.6,1519.2 1765.1,1518.3 1765.7,1517.6 1766.2,1519.0 1766.8,1518.5 1767.3,1518.8 1767.9,1519.9 1768.4,1521.9 1769.0,1521.6 1769.5,1520.8 1770.1,1519.6 1770.6,1517.6 1771.2,1519.9 1771.7,1520.0 1772.3,1519.8 1772.8,1518.8 1773.4,1519.2 1773.9,1521.3 1774.5,1518.8 1775.0,1520.3 1775.6,1521.9 1776.1,1520.0 1776.7,1520.4 1777.2,1521.1 1777.8,1520.2 1778.3,1520.7 1778.9,1521.7 1779.4,1519.3 1780.0,1519.0 1780.5,1517.8 1781.1,1518.3 1781.6,1518.6 1782.2,1517.9 1782.7,1520.6 1783.3,1518.6 1783.8,1519.8 1784.4,1518.6 1784.9,1519.0 1785.5,1520.0 1786.0,1520.2 1786.6,1518.8 1787.1,1521.2 1787.7,1523.2 1788.2,1518.4 1788.8,1523.0 1789.3,1519.8 1789.9,1521.5 1790.4,1518.9 1791.0,1523.1 1791.5,1519.7 1792.1,1521.7 1792.6,1523.6 1793.2,1521.0 1793.7,1518.5 1794.3,1522.0 1794.8,1519.9 1795.4,1518.9 1795.9,1518.5 1796.5,1517.8 1797.0,1520.1 1797.6,1520.0 1798.1,1516.3 1798.7,1518.2 1799.2,1518.4 1799.8,1520.8 1800.3,1519.1 1800.9,1523.2 1801.4,1521.7 1802.0,1514.4 1802.5,1523.0 1803.1,1522.6 1803.6,1526.1 1804.2,1523.0 1804.7,1522.5 1805.3,1522.6 1805.8,1524.8 1806.4,1520.5 1806.9,1518.3 1807.5,1522.3 1808.0,1521.0 1808.6,1519.4 1809.1,1520.3 1809.7,1521.4 1810.2,1517.3 1810.8,1523.5 1811.3,1521.3 1811.9,1522.1 1812.4,1521.4 1813.0,1525.5 1813.5,1521.1 1814.1,1522.3 1814.6,1517.5 1815.2,1521.0 1815.7,1522.1 1816.3,1518.8 1816.8,1518.1 1817.4,1521.2 1817.9,1522.9 1818.5,1523.0 1819.0,1521.5 1819.6,1523.7 1820.1,1521.2 1820.7,1526.0 1821.2,1522.6 1821.8,1525.4 1822.3,1523.0 1822.9,1522.5 1823.4,1524.6 1824.0,1521.4 1824.5,1523.6 1825.1,1521.2 1825.6,1520.8 1826.2,1521.3 1826.7,1522.7 1827.3,1521.3 1827.8,1521.2 1828.4,1520.3 1828.9,1523.8 1829.5,1523.0 1830.0,1523.1 1830.6,1524.0 1831.1,1518.9 1831.7,1521.9 1832.2,1522.8 1832.8,1522.7 1833.3,1522.5 1833.9,1522.9 1834.4,1522.0 1835.0,1521.8 1835.5,1521.4 1836.1,1522.7 1836.6,1521.8 1837.2,1521.3 1837.7,1523.1 1838.3,1520.9 1838.8,1521.1 1839.4,1519.2 1839.9,1521.0 1840.5,1523.3 1841.0,1522.7 1841.6,1523.0 1842.1,1522.8 1842.7,1523.6 1843.2,1524.9 1843.8,1523.1 1844.3,1520.1 1844.9,1526.4 1845.4,1529.8 1846.0,1523.5 1846.5,1525.4 1847.1,1520.6 1847.6,1524.2 1848.2,1522.7 1848.7,1522.5 1849.3,1520.3 1849.8,1520.6 1850.4,1520.9 1850.9,1522.4 1851.5,1522.1 1852.0,1521.5 1852.6,1520.6 1853.1,1523.9 1853.7,1522.3 1854.2,1521.7 1854.8,1521.3 1855.3,1520.1 1855.9,1520.5 1856.4,1519.8 1857.0,1522.2 1857.5,1521.1 1858.1,1521.5 1858.6,1519.8 1859.2,1521.7 1859.7,1521.9 1860.3,1524.0 1860.8,1520.0 1861.4,1520.0 1861.9,1522.8 1862.5,1520.7 1863.0,1517.6 1863.6,1521.4 1864.1,1521.8 1864.7,1521.2 1865.2,1516.6 1865.8,1519.4 1866.3,1519.4 1866.9,1520.3 1867.4,1518.1 1868.0,1522.3 1868.5,1519.8 1869.1,1521.5 1869.6,1522.6 1870.2,1522.1 1870.7,1521.6 1871.3,1521.4 1871.8,1522.3 1872.4,1521.7 1872.9,1519.6 1873.5,1524.0 1874.0,1522.2 1874.6,1522.1 1875.1,1522.1 1875.7,1520.7 1876.2,1520.6 1876.8,1519.6 1877.3,1522.5 1877.9,1522.5 1878.4,1521.3 1879.0,1520.2 1879.5,1523.5 1880.1,1521.6 1880.6,1519.7 1881.2,1518.9 1881.7,1522.1 1882.3,1523.6 1882.8,1520.2 1883.4,1519.8 1883.9,1519.9 1884.5,1520.0 1885.0,1521.0 1885.6,1521.9 1886.1,1521.1 1886.7,1522.7 1887.2,1520.3 1887.8,1522.9 1888.3,1521.8 1888.9,1520.8 1889.4,1521.2 1890.0,1520.2 1890.5,1523.4 1891.1,1520.7 1891.6,1523.6 1892.2,1523.6 1892.7,1522.1 1893.3,1524.2 1893.8,1519.2 1894.4,1522.7 1894.9,1522.1 1895.5,1521.3 1896.0,1521.6 1896.6,1519.6 1897.1,1520.0 1897.7,1521.8 1898.2,1520.4 1898.8,1519.2 1899.3,1521.8 1899.9,1521.6 1900.4,1520.9 1901.0,1522.5 1901.5,1521.1 1902.1,1520.4 1902.6,1520.9 1903.2,1516.6 1903.7,1521.2 1904.3,1519.7 1904.8,1523.1 1905.4,1521.5 1905.9,1521.5 1906.5,1522.5 1907.0,1518.0 1907.6,1522.1 1908.1,1518.2 1908.7,1520.5 1909.2,1518.8 1909.8,1521.2 1910.3,1518.5 1910.9,1519.7 1911.4,1522.1 1912.0,1522.9 1912.5,1520.1 1913.1,1520.8 1913.6,1522.1 1914.2,1521.5 1914.7,1522.4 1915.3,1520.4 1915.8,1519.3 1916.4,1520.5 1916.9,1520.9 1917.5,1521.6 1918.0,1522.1 1918.6,1522.6 1919.1,1521.8 1919.7,1520.7 1920.2,1521.6 1920.8,1520.6 1921.3,1519.2 1921.9,1519.0 1922.4,1520.5 1923.0,1520.4 1923.5,1520.8 1924.1,1516.7 1924.6,1520.0 1925.2,1518.0 1925.7,1518.7 1926.3,1521.0 1926.8,1518.5 1927.4,1517.9 1927.9,1518.5 1928.5,1522.2 1929.0,1521.8 1929.6,1519.6 1930.1,1519.7 1930.7,1520.7 1931.2,1521.1 1931.8,1520.2 1932.3,1522.4 1932.9,1519.9 1933.4,1521.2 1934.0,1518.5 1934.5,1521.1 1935.1,1520.3 1935.6,1521.2 1936.2,1516.1 1936.7,1519.6 1937.3,1519.8 1937.8,1518.7 1938.4,1520.5 1938.9,1521.4 1939.5,1520.0 1940.0,1520.1 1940.6,1521.0 1941.1,1520.0 1941.7,1520.7 1942.2,1520.0 1942.8,1518.1 1943.3,1517.4 1943.9,1520.6 1944.4,1519.9 1945.0,1518.9 1945.5,1519.9 1946.1,1521.7 1946.6,1517.8 1947.2,1519.8 1947.7,1521.2 1948.3,1521.3 1948.8,1517.9 1949.4,1517.8 1949.9,1519.0 1950.5,1520.7 1951.0,1517.8 1951.6,1515.2 1952.1,1519.8 1952.7,1518.8 1953.2,1518.1 1953.8,1518.0 1954.3,1521.7 1954.9,1520.9 1955.4,1520.6 1956.0,1520.6 1956.5,1520.5 1957.1,1521.3 1957.6,1522.2 1958.2,1517.3 1958.7,1518.9 1959.3,1518.3 1959.8,1520.3 1960.4,1517.7 1960.9,1516.4 1961.5,1518.0 1962.0,1517.7 1962.6,1517.1 1963.1,1518.1 1963.7,1517.5 1964.2,1517.2 1964.8,1521.8 1965.3,1519.3 1965.9,1517.4 1966.4,1519.8 1967.0,1520.8 1967.5,1516.7 1968.1,1518.0 1968.6,1519.1 1969.2,1517.9 1969.7,1519.9 1970.3,1517.6 1970.8,1518.2 1971.4,1518.9 1971.9,1519.1 1972.5,1517.6 1973.0,1516.5 1973.6,1517.5 1974.1,1515.8 1974.7,1521.3 1975.2,1517.6 1975.8,1524.7 1976.3,1519.6 1976.9,1519.6 1977.4,1518.5 1978.0,1515.8 1978.5,1514.1 1979.1,1516.2 1979.6,1515.2 1980.2,1515.5 1980.7,1516.5 1981.3,1518.1 1981.8,1520.1 1982.4,1519.0 1982.9,1516.7 1983.5,1519.4 1984.0,1519.6 1984.6,1515.5 1985.1,1518.3 1985.7,1517.8 1986.2,1516.6 1986.8,1518.5 1987.3,1519.1 1987.9,1520.2 1988.4,1520.7 1989.0,1519.0 1989.5,1519.0 1990.1,1521.6 1990.6,1516.8 1991.2,1517.7 1991.7,1516.6 1992.3,1518.2 1992.8,1518.8 1993.4,1514.5 1993.9,1518.1 1994.5,1515.1 1995.0,1520.2 1995.6,1515.9 1996.1,1518.8 1996.7,1516.1 1997.2,1518.4 1997.8,1516.3 1998.3,1516.4 1998.9,1515.4 1999.4,1516.1 2000.0,1516.5 2000.5,1514.7 2001.1,1515.5 2001.6,1513.9 2002.2,1515.4 2002.7,1515.0 2003.3,1516.6 2003.8,1516.5 2004.4,1515.0 2004.9,1514.7 2005.5,1515.8 2006.0,1514.3 2006.6,1513.3 2007.1,1518.2 2007.7,1516.2 2008.2,1515.3 2008.8,1517.8 2009.3,1513.3 2009.9,1514.6 2010.4,1511.6 2011.0,1514.3 2011.5,1513.3 2012.1,1512.0 2012.6,1512.7 2013.2,1513.5 2013.7,1512.6 2014.3,1514.5 2014.8,1511.6 2015.4,1511.9 2015.9,1512.2 2016.5,1510.3 2017.0,1511.7 2017.6,1511.5 2018.1,1513.8 2018.7,1510.8 2019.2,1513.5 2019.8,1515.1 2020.3,1512.6 2020.9,1513.3 2021.4,1516.4 2022.0,1513.4 2022.5,1515.6 2023.1,1515.3 2023.6,1513.9 2024.2,1511.9 2024.7,1516.9 2025.3,1514.8 2025.8,1515.9 2026.4,1514.2 2026.9,1515.6 2027.5,1513.6 2028.0,1513.2 2028.6,1512.7 2029.1,1512.8 2029.7,1511.9 2030.2,1511.6 2030.8,1512.5 2031.3,1510.5 2031.9,1513.4 2032.4,1512.4 2033.0,1513.6 2033.5,1507.6 2034.1,1507.6 2034.6,1507.6 2035.2,1507.6 2035.7,1507.6 2036.3,1507.6 2036.8,1507.6 2037.4,1507.6 2037.9,1507.6 2038.5,1507.6 2039.0,1507.6 2039.6,1507.6 2040.1,1507.6 2040.7,1507.6 2041.2,1507.6 2041.8,1507.6 2042.3,1507.6 2042.9,1507.6 2043.4,1507.6 2044.0,1507.6 2044.5,1507.6 2045.1,1507.6 2045.6,1507.6 2046.2,1507.6 2046.7,1507.6 2047.3,1507.6 2047.8,1507.6 2048.4,1507.6 2048.9,1507.6 2049.5,1507.6 2050.0,1507.6 2050.6,1507.6 2051.1,1507.6 2051.7,1507.6 2052.2,1507.6 2052.8,1507.6 2053.3,1507.6 2053.9,1507.6 2054.4,1507.6 2055.0,1507.6 2055.5,1507.6 2056.1,1507.6 2056.6,1507.6 2057.2,1507.6 2057.7,1507.6 2058.3,1507.6 2058.8,1507.6 2059.4,1515.2 2059.9,1513.9 2060.5,1513.6 2061.0,1513.0 2061.6,1515.5 2062.1,1512.1 2062.7,1512.3 2063.2,1513.0 2063.8,1510.7 2064.3,1513.9 2064.9,1511.5 2065.4,1512.9 2066.0,1512.0 2066.5,1511.7 2067.1,1511.9 2067.6,1509.4 2068.2,1510.3 2068.7,1511.0 2069.3,1514.7 2069.8,1513.4 2070.4,1513.3 2070.9,1511.2 2071.5,1513.8 2072.0,1514.0 2072.6,1513.0 2073.1,1515.7 2073.7,1509.5 2074.2,1510.3 2074.8,1512.2 2075.3,1510.7 2075.9,1512.6 2076.4,1513.5 2077.0,1512.5 2077.5,1512.3 2078.1,1512.5 2078.6,1512.6 2079.2,1511.6 2079.7,1511.3 2080.3,1514.0 2080.8,1511.1 2081.4,1511.0 2081.9,1512.9 2082.5,1511.8 2083.0,1512.1 2083.6,1512.1 2084.1,1512.9 2084.7,1514.5 2085.2,1512.2 2085.8,1511.3 2086.3,1515.3 2086.9,1512.5 2087.4,1511.7 2088.0,1511.3 2088.5,1513.1 2089.1,1512.1 2089.6,1510.4 2090.2,1511.3 2090.7,1510.9 2091.3,1513.1 2091.8,1512.3 2092.4,1511.7 2092.9,1510.3 2093.5,1511.6 2094.0,1513.3 2094.6,1513.0 2095.1,1514.9 2095.7,1513.5 2096.2,1514.4 2096.8,1514.1 2097.3,1513.0 2097.9,1515.0 2098.4,1513.3 2099.0,1513.4 2099.5,1510.8 2100.1,1511.2 2100.6,1513.3 2101.2,1512.7 2101.7,1514.8 2102.3,1514.9 2102.8,1516.1 2103.4,1515.1 2103.9,1512.9 2104.5,1514.6 2105.0,1512.9 2105.6,1512.9 2106.1,1513.7 2106.7,1513.8 2107.2,1515.4 2107.8,1517.7 2108.3,1514.7 2108.9,1515.8" stroke="#000" stroke-width="5.5"/>
<polyline points="1026.0,184.8 1026.8,191.5 1027.5,166.1 1028.2,175.4 1029.0,182.4 1029.8,173.2 1030.5,181.8 1031.2,178.8 1032.0,171.6 1032.8,178.2 1033.5,181.6 1034.2,171.8 1035.0,179.4 1035.8,178.6 1036.5,173.4 1037.2,176.7 1038.0,172.1 1038.8,152.6 1039.5,170.0 1040.2,182.6 1041.0,172.4 1041.8,179.1 1042.5,182.0 1043.2,181.3 1044.0,174.9 1044.8,173.6 1045.5,170.7 1046.2,172.0 1047.0,167.5 1047.8,162.5 1048.5,169.9 1049.2,168.2 1050.0,175.4 1050.8,177.9 1051.5,161.1 1052.2,147.3 1053.0,172.9 1053.8,174.4 1054.5,168.9 1055.2,167.6 1056.0,157.3 1056.8,176.1 1057.5,157.1 1058.2,161.8 1059.0,162.2 1059.8,156.3 1060.5,164.8 1061.2,167.4 1062.0,160.4 1062.8,162.6 1063.5,168.7 1064.2,169.4 1065.0,169.9 1065.8,160.5 1066.5,160.7 1067.2,164.2 1068.0,153.1 1068.8,158.5 1069.5,164.0 1070.2,160.1 1071.0,159.1 1071.8,166.7 1072.5,145.2 1073.2,164.9 1074.0,158.0 1074.8,156.3 1075.5,152.8 1076.2,158.4 1077.0,146.8 1077.8,150.8 1078.5,157.0 1079.2,170.8 1080.0,151.2 1080.8,145.6 1081.5,154.7 1082.2,146.4 1083.0,149.2 1083.8,147.0 1084.5,164.4 1085.2,164.3 1086.0,153.2 1086.8,150.3 1087.5,158.0 1088.2,161.9 1089.0,166.0 1089.8,138.0 1090.5,151.2 1091.2,157.5 1092.0,157.3 1092.8,146.9 1093.5,152.2 1094.2,149.2 1095.0,144.0 1095.8,150.5 1096.5,155.6 1097.2,156.1 1098.0,126.0 1098.8,134.1 1099.5,155.1 1100.2,150.2 1101.0,148.8 1101.8,159.5 1102.5,134.1 1103.2,145.1 1104.0,145.8 1104.8,148.0 1105.5,157.2 1106.2,146.1 1107.0,161.8 1107.8,148.2 1108.5,144.9 1109.2,134.0 1110.0,158.9 1110.8,143.2 1111.5,147.3 1112.2,160.7 1113.0,137.3 1113.8,151.0 1114.5,145.8 1115.2,137.8 1116.0,144.9 1116.8,146.9 1117.5,140.4 1118.2,151.3 1119.0,143.8 1119.8,150.1 1120.5,151.4 1121.2,147.5 1122.0,149.5 1122.8,141.0 1123.5,141.3 1124.2,143.5 1125.0,151.9 1125.8,150.0 1126.5,155.8 1127.2,155.8 1128.0,148.2 1128.8,148.0 1129.5,156.4 1130.2,143.8 1131.0,148.6 1131.8,142.8 1132.5,146.0 1133.2,145.2 1134.0,143.2 1134.8,150.1 1135.5,144.4 1136.2,146.2 1137.0,147.1 1137.8,153.8 1138.5,133.0 1139.2,156.8 1140.0,125.5 1140.8,139.1 1141.5,165.7 1142.2,147.2 1143.0,147.5 1143.8,141.6 1144.5,143.9 1145.2,144.7 1146.0,141.7 1146.8,147.2 1147.5,140.1 1148.2,127.1 1149.0,138.5 1149.8,170.8 1150.5,141.4 1151.2,139.1 1152.0,146.8 1152.8,141.4 1153.5,145.8 1154.2,145.4 1155.0,149.6 1155.8,132.5 1156.5,137.0 1157.2,157.1 1158.0,153.6 1158.8,140.8 1159.5,163.4 1160.2,145.3 1161.0,148.4 1161.8,155.7 1162.5,154.9 1163.2,155.6 1164.0,179.0 1164.8,155.2 1165.5,143.1 1166.2,139.1 1167.0,149.5 1167.8,136.5 1168.5,143.3 1169.2,142.8 1170.0,140.7 1170.8,153.8 1171.5,148.8 1172.2,146.5 1173.0,152.6 1173.8,146.1 1174.5,156.7 1175.2,161.1 1176.0,151.4 1176.8,153.2 1177.5,160.3 1178.2,144.2 1179.0,148.7 1179.8,151.4 1180.5,151.2 1181.2,158.2 1182.0,159.0 1182.8,157.2 1183.5,158.3 1184.2,164.2 1185.0,165.3 1185.8,165.5 1186.5,159.7 1187.2,160.9 1188.0,169.1 1188.8,166.6 1189.5,170.5 1190.2,145.0 1191.0,165.4 1191.8,146.8 1192.5,167.0 1193.2,170.5 1194.0,164.6 1194.8,178.8 1195.5,160.6 1196.2,173.5 1197.0,152.0 1197.8,162.4 1198.5,168.9 1199.2,193.6 1200.0,156.4 1200.8,171.8 1201.5,169.5 1202.2,173.6 1203.0,178.7 1203.8,182.3 1204.5,185.8 1205.2,169.0 1206.0,181.8 1206.8,177.0 1207.5,179.5 1208.2,180.9 1209.0,181.9 1209.8,183.0 1210.5,181.2 1211.2,189.8 1212.0,186.2 1212.8,184.3 1213.5,191.2 1214.2,184.4 1215.0,183.0 1215.8,194.9 1216.5,186.7 1217.2,176.8 1218.0,190.1 1218.8,192.1 1219.5,180.3 1220.2,190.5 1221.0,187.3 1221.8,190.2 1222.5,187.5 1223.2,188.7 1224.0,195.2 1224.8,195.4 1225.5,183.4 1226.2,185.1 1227.0,189.1 1227.8,187.6 1228.5,192.1 1229.2,195.4 1230.0,201.3 1230.8,195.0 1231.5,198.4 1232.2,185.2 1233.0,189.0 1233.8,200.7 1234.5,178.0 1235.2,204.9 1236.0,201.8 1236.8,200.7 1237.5,199.8 1238.2,194.8 1239.0,191.5 1239.8,195.0 1240.5,197.6 1241.2,208.0 1242.0,197.4 1242.8,201.0 1243.5,195.8 1244.2,206.3 1245.0,205.0 1245.8,210.7 1246.5,213.7 1247.2,204.8 1248.0,198.9 1248.8,204.6 1249.5,207.3 1250.2,205.4 1251.0,202.5 1251.8,210.4 1252.5,206.3 1253.2,209.3 1254.0,210.8 1254.8,199.3 1255.5,215.1 1256.2,222.1 1257.0,200.7 1257.8,207.9 1258.5,219.4 1259.2,207.5 1260.0,216.0 1260.8,218.6 1261.5,214.2 1262.2,216.5 1263.0,214.8 1263.8,215.9 1264.5,222.0 1265.2,215.5 1266.0,229.1 1266.8,220.4 1267.5,229.0 1268.2,224.2 1269.0,221.1 1269.8,229.1 1270.5,216.8 1271.2,219.7 1272.0,231.1 1272.8,239.5 1273.5,228.0 1274.2,220.1 1275.0,228.7 1275.8,237.6 1276.5,236.2 1277.2,238.7 1278.0,232.5 1278.8,246.0 1279.5,250.6 1280.2,243.0 1281.0,230.7 1281.8,244.0 1282.5,246.9 1283.2,251.2 1284.0,241.3 1284.8,234.6 1285.5,248.6 1286.2,238.7 1287.0,235.8 1287.8,250.7 1288.5,237.7 1289.2,247.2 1290.0,246.6 1290.8,251.0 1291.5,255.2 1292.2,248.1 1293.0,239.0 1293.8,262.2 1294.5,267.3 1295.2,256.8 1296.0,254.3 1296.8,249.9 1297.5,254.7 1298.2,257.5 1299.0,257.6 1299.8,249.4 1300.5,255.6 1301.2,255.8 1302.0,254.6 1302.8,256.2 1303.5,261.7 1304.2,254.8 1305.0,261.7 1305.8,255.4 1306.5,262.6 1307.2,257.0 1308.0,268.4 1308.8,267.4 1309.5,272.3 1310.2,262.7 1311.0,256.6 1311.8,266.5 1312.5,245.7 1313.2,267.6 1314.0,265.8 1314.8,267.0 1315.5,258.6 1316.2,274.1 1317.0,289.0 1317.8,270.7 1318.5,250.1 1319.2,272.2 1320.0,272.3 1320.8,282.0 1321.5,260.4 1322.2,274.7 1323.0,284.8 1323.8,284.8 1324.5,278.6 1325.2,281.9 1326.0,285.8 1326.8,273.6 1327.5,279.8 1328.2,276.1 1329.0,293.7 1329.8,298.3 1330.5,287.5 1331.2,289.7 1332.0,286.1 1332.8,287.4 1333.5,279.7 1334.2,272.0 1335.0,277.0 1335.8,283.3 1336.5,278.5 1337.2,304.8 1338.0,290.2 1338.8,281.5 1339.5,290.7 1340.2,272.1 1341.0,289.8 1341.8,280.5 1342.5,285.5 1343.2,279.0 1344.0,281.0 1344.8,275.1 1345.5,274.6 1346.2,283.2 1347.0,286.2 1347.8,280.3 1348.5,283.2 1349.2,288.4 1350.0,278.9 1350.8,282.2 1351.5,278.0 1352.2,301.5 1353.0,286.9 1353.8,283.4 1354.5,281.0 1355.2,265.5 1356.0,272.5 1356.8,279.6 1357.5,288.1 1358.2,278.1 1359.0,279.6 1359.8,276.0 1360.5,273.5 1361.2,301.9 1362.0,283.2 1362.8,270.4 1363.5,270.6 1364.2,283.0 1365.0,269.9 1365.8,272.5 1366.5,282.8 1367.2,273.1 1368.0,264.6 1368.8,252.6 1369.5,279.8 1370.2,278.4 1371.0,281.7 1371.8,252.4 1372.5,269.1 1373.2,270.8 1374.0,265.1 1374.8,264.3 1375.5,261.0 1376.2,268.4 1377.0,258.7 1377.8,260.9 1378.5,267.2 1379.2,254.4 1380.0,270.9 1380.8,259.9 1381.5,260.0 1382.2,266.2 1383.0,257.6 1383.8,258.3 1384.5,254.8 1385.2,261.4 1386.0,265.1 1386.8,257.6 1387.5,265.7 1388.2,267.0 1389.0,264.8 1389.8,261.3 1390.5,271.0 1391.2,273.4 1392.0,273.7 1392.8,256.2 1393.5,265.3 1394.2,270.0 1395.0,277.4 1395.8,277.0 1396.5,274.4 1397.2,269.2 1398.0,276.0 1398.8,270.9 1399.5,278.7 1400.2,263.9 1401.0,280.2 1401.8,267.2 1402.5,283.7 1403.2,291.5 1404.0,280.5 1404.8,276.0 1405.5,277.5 1406.2,277.4 1407.0,284.3 1407.8,291.5 1408.5,284.2 1409.2,289.8 1410.0,290.6 1410.8,304.7 1411.5,303.3 1412.2,295.5 1413.0,297.3 1413.8,302.4 1414.5,292.8 1415.2,300.1 1416.0,303.8 1416.8,299.9 1417.5,309.8 1418.2,309.8 1419.0,306.4 1419.8,316.3 1420.5,306.4 1421.2,313.4 1422.0,309.7 1422.8,318.8 1423.5,310.6 1424.2,318.2 1425.0,320.6 1425.8,326.9 1426.5,329.6 1427.2,313.7 1428.0,321.4 1428.8,317.2 1429.5,331.5 1430.2,332.5 1431.0,323.3 1431.8,328.6 1432.5,323.5 1433.2,332.0 1434.0,330.8 1434.8,322.1 1435.5,340.9 1436.2,342.1 1437.0,328.9 1437.8,340.1 1438.5,342.2 1439.2,342.1 1440.0,347.5 1440.8,337.7 1441.5,348.6 1442.2,340.0 1443.0,348.1 1443.8,337.3 1444.5,340.2 1445.2,336.6 1446.0,348.5 1446.8,332.3 1447.5,334.4 1448.2,343.8 1449.0,340.4 1449.8,338.0 1450.5,350.8 1451.2,331.8 1452.0,339.6 1452.8,343.2 1453.5,349.3 1454.2,349.2 1455.0,351.4 1455.8,345.7 1456.5,341.8 1457.2,342.7 1458.0,351.0 1458.8,342.3 1459.5,349.6 1460.2,335.2 1461.0,339.8 1461.8,337.5 1462.5,342.5 1463.2,353.4 1464.0,336.7 1464.8,342.8 1465.5,345.2 1466.2,339.2 1467.0,344.3 1467.8,338.1 1468.5,343.0 1469.2,338.7 1470.0,343.5 1470.8,346.3 1471.5,348.2 1472.2,348.3 1473.0,340.6 1473.8,353.9 1474.5,336.0 1475.2,340.0 1476.0,350.8 1476.8,341.1 1477.5,354.7 1478.2,351.2 1479.0,347.7 1479.8,346.8 1480.5,345.4 1481.2,345.3 1482.0,349.1 1482.8,358.6 1483.5,352.4 1484.2,351.7 1485.0,353.5 1485.8,351.3 1486.5,347.9 1487.2,348.7 1488.0,363.9 1488.8,355.5 1489.5,364.6 1490.2,366.9 1491.0,357.3 1491.8,359.4 1492.5,352.1 1493.2,367.1 1494.0,355.1 1494.8,355.6 1495.5,378.3 1496.2,355.9 1497.0,343.4 1497.8,358.5 1498.5,361.1 1499.2,355.6 1500.0,347.0 1500.8,361.9 1501.5,353.0 1502.2,356.1 1503.0,355.6 1503.8,363.4 1504.5,347.1 1505.2,342.3 1506.0,351.9 1506.8,362.4 1507.5,357.2 1508.2,346.7 1509.0,363.5 1509.8,369.6 1510.5,362.2 1511.2,351.4 1512.0,356.2 1512.8,347.7 1513.5,356.5 1514.2,363.4 1515.0,354.9 1515.8,358.5 1516.5,347.8 1517.2,368.3 1518.0,366.3 1518.8,362.2 1519.5,355.1 1520.2,367.9 1521.0,354.5 1521.8,352.9 1522.5,369.8 1523.2,353.1 1524.0,355.7 1524.8,354.5 1525.5,366.9 1526.2,365.7 1527.0,367.1 1527.8,361.3 1528.5,364.0 1529.2,359.1 1530.0,368.9 1530.8,361.0 1531.5,362.6 1532.2,366.0 1533.0,380.9 1533.8,361.4 1534.5,373.3 1535.2,356.6 1536.0,361.5 1536.8,352.8 1537.5,365.2 1538.2,379.5 1539.0,350.0 1539.8,365.3 1540.5,377.4" stroke="#1689e4" stroke-width="1.8"/>
</g>
<g fill="none" stroke="#9b9b9b" stroke-width="2.3">
<rect x="535.5" y="302.5" width="256" height="172" stroke-dasharray="4 6.7" stroke="#a5a5a5" stroke-width="4"/>
<rect x="1024" y="65.1" width="519.3" height="346.6" stroke-dasharray="10.5 3.3"/>
<line x1="791.4" y1="303.3" x2="1024" y2="65.1" stroke-dasharray="10.5 3.3"/>
<line x1="791.4" y1="474.5" x2="1024" y2="411.7" stroke-dasharray="10.5 3.3"/>
</g>
<g stroke="#000" stroke-width="4" fill="none">
<line x1="155.6" y1="42.4" x2="155.6" y2="1623.5"/>
<line x1="153.6" y1="1621.5" x2="2113.3" y2="1621.5"/>
<line x1="2111.3" y1="42.4" x2="2111.3" y2="1623.5" stroke="#222"/>
<line x1="153.6" y1="44.4" x2="2113.3" y2="44.4" stroke="#2a2a2a"/>
<line x1="155.6" y1="1621.5" x2="155.6" y2="1654.5"/><line x1="295.3" y1="1621.5" x2="295.3" y2="1638.5"/><line x1="435.0" y1="1621.5" x2="435.0" y2="1654.5"/><line x1="574.7" y1="1621.5" x2="574.7" y2="1638.5"/><line x1="714.4" y1="1621.5" x2="714.4" y2="1654.5"/><line x1="854.1" y1="1621.5" x2="854.1" y2="1638.5"/><line x1="993.8" y1="1621.5" x2="993.8" y2="1654.5"/><line x1="1133.5" y1="1621.5" x2="1133.5" y2="1638.5"/><line x1="1273.1" y1="1621.5" x2="1273.1" y2="1654.5"/><line x1="1412.8" y1="1621.5" x2="1412.8" y2="1638.5"/><line x1="1552.5" y1="1621.5" x2="1552.5" y2="1654.5"/><line x1="1692.2" y1="1621.5" x2="1692.2" y2="1638.5"/><line x1="1831.9" y1="1621.5" x2="1831.9" y2="1654.5"/><line x1="1971.6" y1="1621.5" x2="1971.6" y2="1638.5"/><line x1="2111.3" y1="1621.5" x2="2111.3" y2="1654.5"/>
</g>
<g font-family="Liberation Sans, Arial, sans-serif" font-size="70" text-anchor="middle" fill="#000" stroke="#fff" stroke-width="1">
<text x="155.6" y="1726">10</text><text x="435.0" y="1726">20</text><text x="714.4" y="1726">30</text><text x="993.8" y="1726">40</text><text x="1273.1" y="1726">50</text><text x="1552.5" y="1726">60</text><text x="1831.9" y="1726">70</text><text x="2111.3" y="1726">80</text>
</g>
<text x="1121" y="1853" font-family="Liberation Sans, Arial, sans-serif" font-size="82" text-anchor="middle">2 theta (°)</text>
<text transform="translate(87,831) rotate(-90)" font-family="Liberation Sans, Arial, sans-serif" font-size="82" text-anchor="middle">Intensity (u.a)</text>
<g font-family="Liberation Sans, Arial, sans-serif" font-weight="bold" font-size="58.5" stroke="#fff" stroke-width="1.2">
<text x="164.5" y="369.5">(c)</text>
<text x="171" y="717.5">(b)</text>
<text x="167" y="1184.5">(a)</text>
</g>
<g fill="none" stroke="#000" stroke-width="5.5">
<circle cx="597.6" cy="335.4" r="9.5"/>
<circle cx="594" cy="733.8" r="9.5"/>
<circle cx="594" cy="1132.6" r="9.5"/>
<circle cx="1113.2" cy="1415.9" r="9.5"/>
<circle cx="1799" cy="289.8" r="9.5"/>
</g>
<g fill="#000">
<rect x="659" y="360" width="18.5" height="18.5"/>
<rect x="1284" y="166" width="17" height="17"/>
<rect x="1788.1" y="104.4" width="19.5" height="19"/>
</g>
<g font-family="Liberation Sans, Arial, sans-serif" font-size="78" text-anchor="middle" stroke="#000" stroke-width="0.9">
<text x="729.4" y="412.5">*</text><text x="880.7" y="395.0">*</text><text x="1099.5" y="467.0">*</text><text x="1386.2" y="492.4">*</text><text x="1486.2" y="492.4">*</text><text x="1644.3" y="485.8">*</text>
<text x="722.0" y="811.7">*</text><text x="873.3" y="801.3">*</text><text x="1092.1" y="854.8">*</text><text x="1381.3" y="872.5">*</text><text x="1482.5" y="872.5">*</text><text x="1637.0" y="866.2">*</text>
<text x="1797.9" y="241.6">*</text>
</g>
<g font-family="Liberation Sans, Arial, sans-serif" font-weight="bold" font-size="53" stroke="#fff" stroke-width="1.2">
<text x="1840" y="128.6">CuCl</text>
<text x="1839.5" y="219.1">Fe<tspan font-size="32" stroke-width="0.8" dy="17">3</tspan><tspan dy="-17">O</tspan><tspan font-size="32" stroke-width="0.8" dy="17">4</tspan></text>
<text x="1839.5" y="305">Graphite</text>
</g>
</svg>
</body></html>
